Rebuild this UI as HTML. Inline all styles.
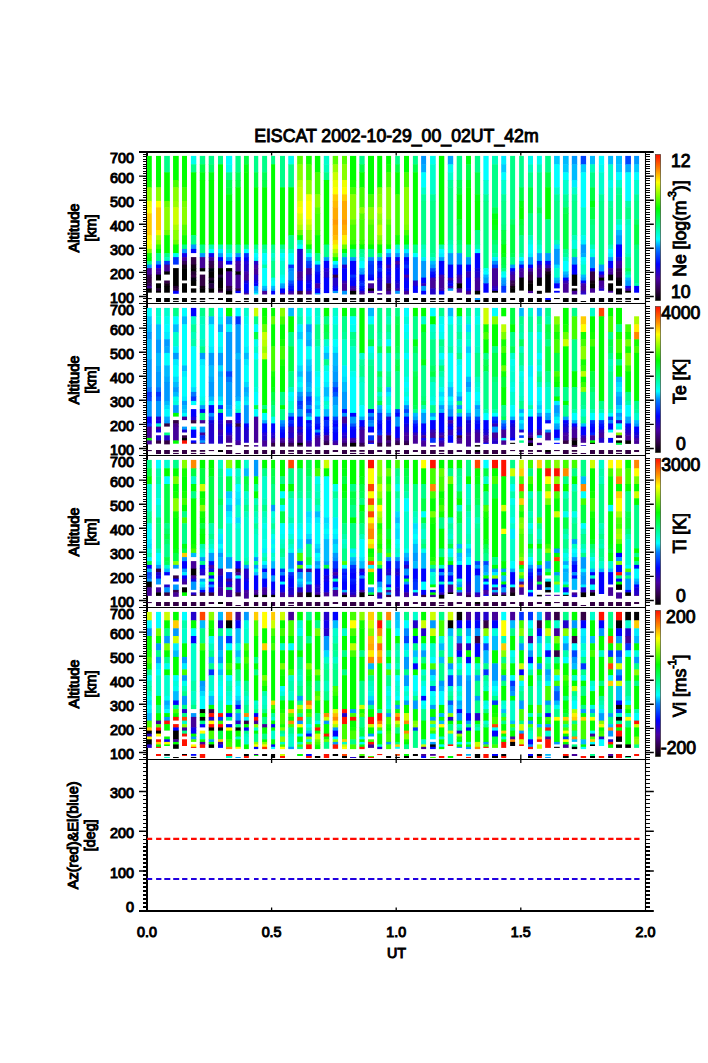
<!DOCTYPE html>
<html><head><meta charset="utf-8"><title>EISCAT 2002-10-29</title>
<style>html,body{margin:0;padding:0;background:#fff}svg{display:block}</style></head>
<body>
<svg width="708" height="1063" viewBox="0 0 708 1063" font-family="'Liberation Sans', sans-serif" fill="#000" stroke="none">
<rect width="708" height="1063" fill="#fff"/>
<g stroke="#000" stroke-width="0.95">
<text x="396.4" y="141.9" font-size="17.9" text-anchor="middle" textLength="284.5" lengthAdjust="spacingAndGlyphs">EISCAT 2002-10-29_00_02UT_42m</text>
</g>
<path d="M147 151V912" stroke="#000" stroke-width="2"/>
<path d="M645.5 151V912" stroke="#000" stroke-width="1.1"/>
<g stroke-width="5.3" fill="none">
<g transform="translate(149.4 152)" stroke-width="4.8"><path stroke="#0f0" d="M0 3.9V28.5"/><path stroke="#1f0" d="M0 28V35.8"/><path stroke="#8f0" d="M0 35.3V49.4"/><path stroke="#ef0" d="M0 48.9V55.8"/><path stroke="#ff0" d="M0 55.3V61.9"/><path stroke="#fc0" d="M0 61.4V83.6"/><path stroke="#fe0" d="M0 83.1V88.4"/><path stroke="#ff0" d="M0 87.9V93"/><path stroke="#ef0" d="M0 92.5V97.4"/><path stroke="#8f0" d="M0 96.9V101.6"/><path stroke="#1f0" d="M0 101.1V105.6"/><path stroke="#0f0" d="M0 105.1V109.4"/><path stroke="#0f8" d="M0 108.9V113.1"/><path stroke="#09f" d="M0 112.6V116.6"/><path stroke="#409" d="M0 116.1V123.1"/><path stroke="#305" d="M0 122.6V126.1"/><path stroke="#304" d="M0 125.6V131.8"/><path stroke="#305" d="M0 131.3V134.4"/><path stroke="#409" d="M0 133.9V136.9"/><path stroke="#000" d="M0 136.4V140.7"/><path stroke="#000" d="M0 146V147.1"/></g>
<g transform="translate(158.5 152)" stroke-width="5"><path stroke="#0f0" d="M0 3.9V28.5"/><path stroke="#1f0" d="M0 28V35.8"/><path stroke="#8f0" d="M0 35.3V49.4"/><path stroke="#ff0" d="M0 48.9V55.8"/><path stroke="#fc0" d="M0 55.3V78.5"/><path stroke="#fe0" d="M0 78V83.6"/><path stroke="#af0" d="M0 83.1V88.4"/><path stroke="#8f0" d="M0 87.9V93"/><path stroke="#3f0" d="M0 92.5V97.4"/><path stroke="#0f0" d="M0 96.9V101.6"/><path stroke="#0f8" d="M0 101.1V109.4"/><path stroke="#09f" d="M0 108.9V113.1"/><path stroke="#00f" d="M0 112.6V116.6"/><path stroke="#40a" d="M0 116.1V119.9"/><path stroke="#409" d="M0 119.4V123.1"/><path stroke="#000" d="M0 122.6V128.5"/><path stroke="#000" d="M0 131.3V136.9"/><path stroke="#203" d="M0 136.4V139.3"/><path stroke="#000" d="M0 138.8V140.7"/><path stroke="#000" d="M0 146V150"/></g>
<g transform="translate(167 152)" stroke-width="5.7"><path stroke="#0f8" d="M0 3.9V20.8"/><path stroke="#0f0" d="M0 20.3V49.4"/><path stroke="#6f0" d="M0 48.9V55.8"/><path stroke="#8f0" d="M0 55.3V78.5"/><path stroke="#6f0" d="M0 78V83.6"/><path stroke="#0f0" d="M0 83.1V101.6"/><path stroke="#0f8" d="M0 101.1V105.6"/><path stroke="#0fb" d="M0 105.1V109.4"/><path stroke="#03f" d="M0 108.9V113.1"/><path stroke="#409" d="M0 112.6V119.9"/><path stroke="#000" d="M0 119.4V122.6"/><path stroke="#304" d="M0 128.5V131.8"/><path stroke="#101" d="M0 131.3V134.4"/><path stroke="#000" d="M0 133.9V140.7"/><path stroke="#000" d="M0 146V150"/></g>
<g transform="translate(175.9 152)" stroke-width="5.7"><path stroke="#0f0" d="M0 3.9V28.5"/><path stroke="#4f0" d="M0 28V35.8"/><path stroke="#8f0" d="M0 35.3V49.4"/><path stroke="#9f0" d="M0 48.9V55.8"/><path stroke="#cf0" d="M0 55.3V73.2"/><path stroke="#af0" d="M0 72.7V78.5"/><path stroke="#8f0" d="M0 78V88.4"/><path stroke="#6f0" d="M0 87.9V93"/><path stroke="#0f0" d="M0 92.5V101.6"/><path stroke="#0fe" d="M0 101.1V105.6"/><path stroke="#03f" d="M0 105.1V112.6"/><path stroke="#000" d="M0 116.1V134.4"/><path stroke="#203" d="M0 133.9V136.9"/><path stroke="#304" d="M0 136.4V139.3"/><path stroke="#00f" d="M0 138.8V141.8"/><path stroke="#000" d="M0 146V147.8"/><path stroke="#000" d="M0 148.9V150"/></g>
<g transform="translate(184.5 152)" stroke-width="5"><path stroke="#0f0" d="M0 3.9V28.5"/><path stroke="#1f0" d="M0 28V35.8"/><path stroke="#4f0" d="M0 35.3V49.4"/><path stroke="#7f0" d="M0 48.9V55.8"/><path stroke="#8f0" d="M0 55.3V73.2"/><path stroke="#5f0" d="M0 72.7V78.5"/><path stroke="#4f0" d="M0 78V83.6"/><path stroke="#1f0" d="M0 83.1V88.4"/><path stroke="#0f0" d="M0 87.9V93"/><path stroke="#0f8" d="M0 92.5V97.4"/><path stroke="#09f" d="M0 96.9V101.6"/><path stroke="#10e" d="M0 101.1V105.6"/><path stroke="#409" d="M0 105.1V109.4"/><path stroke="#305" d="M0 108.9V113.1"/><path stroke="#101" d="M0 112.6V116.6"/><path stroke="#000" d="M0 116.1V128.5"/><path stroke="#000" d="M0 131.3V140.7"/><path stroke="#000" d="M0 146V150"/></g>
<g transform="translate(193.6 152)" stroke-width="5.4"><path stroke="#0fe" d="M0 3.9V12.8"/><path stroke="#0f8" d="M0 12.3V20.8"/><path stroke="#0f0" d="M0 20.3V83.6"/><path stroke="#0f8" d="M0 83.1V93"/><path stroke="#09f" d="M0 92.5V97.4"/><path stroke="#00f" d="M0 96.9V101.1"/><path stroke="#304" d="M0 105.1V113.1"/><path stroke="#101" d="M0 112.6V116.6"/><path stroke="#000" d="M0 116.1V119.9"/><path stroke="#203" d="M0 119.4V123.1"/><path stroke="#304" d="M0 122.6V126.1"/><path stroke="#001" d="M0 125.6V129"/><path stroke="#000" d="M0 128.5V133.9"/><path stroke="#000" d="M0 136.4V140.7"/><path stroke="#000" d="M0 146V147.8"/><path stroke="#000" d="M0 148.9V150"/></g>
<g transform="translate(202.5 152)" stroke-width="5.4"><path stroke="#0f8" d="M0 3.9V12.8"/><path stroke="#0f4" d="M0 12.3V20.8"/><path stroke="#0f1" d="M0 20.3V28.5"/><path stroke="#0f0" d="M0 28V93"/><path stroke="#0f8" d="M0 92.5V101.6"/><path stroke="#09f" d="M0 101.1V105.6"/><path stroke="#409" d="M0 105.1V116.6"/><path stroke="#000" d="M0 116.1V119.4"/><path stroke="#304" d="M0 122.6V134.4"/><path stroke="#101" d="M0 133.9V136.9"/><path stroke="#000" d="M0 136.4V140.7"/><path stroke="#000" d="M0 146V147.8"/><path stroke="#000" d="M0 148.9V150"/></g>
<g transform="translate(211.4 152)" stroke-width="5.4"><path stroke="#0f8" d="M0 3.9V12.8"/><path stroke="#0f6" d="M0 12.3V20.8"/><path stroke="#0f1" d="M0 20.3V28.5"/><path stroke="#0f0" d="M0 28V93"/><path stroke="#0fa" d="M0 92.5V97.4"/><path stroke="#0ff" d="M0 96.9V101.6"/><path stroke="#10e" d="M0 101.1V105.6"/><path stroke="#409" d="M0 105.1V109.4"/><path stroke="#305" d="M0 108.9V113.1"/><path stroke="#304" d="M0 112.6V116.6"/><path stroke="#001" d="M0 116.1V119.9"/><path stroke="#000" d="M0 119.4V126.1"/><path stroke="#203" d="M0 125.6V129"/><path stroke="#001" d="M0 128.5V131.8"/><path stroke="#204" d="M0 131.3V136.9"/><path stroke="#000" d="M0 136.4V140.7"/><path stroke="#000" d="M0 146V147.1"/></g>
<g transform="translate(220.5 152)" stroke-width="5"><path stroke="#0f8" d="M0 3.9V12.8"/><path stroke="#0f0" d="M0 12.3V93"/><path stroke="#0fa" d="M0 92.5V97.4"/><path stroke="#0ef" d="M0 96.9V101.6"/><path stroke="#09f" d="M0 101.1V105.6"/><path stroke="#00f" d="M0 105.1V109.4"/><path stroke="#40a" d="M0 108.9V113.1"/><path stroke="#409" d="M0 112.6V116.6"/><path stroke="#000" d="M0 116.1V123.1"/><path stroke="#204" d="M0 122.6V126.1"/><path stroke="#001" d="M0 125.6V129"/><path stroke="#000" d="M0 128.5V136.9"/><path stroke="#101" d="M0 136.4V139.3"/><path stroke="#304" d="M0 138.8V140.7"/><path stroke="#000" d="M0 146V148"/></g>
<g transform="translate(229.1 152)" stroke-width="6.2"><path stroke="#0ff" d="M0 3.9V12.8"/><path stroke="#0fe" d="M0 12.3V20.8"/><path stroke="#0f8" d="M0 20.3V28.5"/><path stroke="#0f5" d="M0 28V35.8"/><path stroke="#0f4" d="M0 35.3V42.8"/><path stroke="#0f1" d="M0 42.3V49.4"/><path stroke="#0f0" d="M0 48.9V93"/><path stroke="#0f8" d="M0 92.5V97.4"/><path stroke="#0fa" d="M0 96.9V101.6"/><path stroke="#0ef" d="M0 101.1V105.6"/><path stroke="#09f" d="M0 105.1V109.4"/><path stroke="#00f" d="M0 108.9V112.6"/><path stroke="#000" d="M0 116.1V119.9"/><path stroke="#409" d="M0 119.4V134.4"/><path stroke="#304" d="M0 133.9V136.9"/><path stroke="#204" d="M0 136.4V139.3"/><path stroke="#000" d="M0 138.8V142.5"/><path stroke="#000" d="M0 146V150"/></g>
<g transform="translate(238.1 152)"><path stroke="#0f8" d="M0 3.9V20.8"/><path stroke="#0f5" d="M0 20.3V28.5"/><path stroke="#0f4" d="M0 28V35.8"/><path stroke="#0f0" d="M0 35.3V93"/><path stroke="#0f8" d="M0 92.5V101.6"/><path stroke="#09f" d="M0 101.1V105.6"/><path stroke="#00f" d="M0 105.1V109.4"/><path stroke="#40a" d="M0 108.9V113.1"/><path stroke="#409" d="M0 112.6V119.9"/><path stroke="#000" d="M0 119.4V123.1"/><path stroke="#409" d="M0 122.6V136.9"/><path stroke="#304" d="M0 136.4V139.3"/><path stroke="#00f" d="M0 138.8V141.1"/><path stroke="#000" d="M0 149V150"/></g>
<g transform="translate(246.4 152)" stroke-width="4.9"><path stroke="#0f4" d="M0 3.9V12.8"/><path stroke="#0f1" d="M0 12.3V20.8"/><path stroke="#0f0" d="M0 20.3V93"/><path stroke="#0f8" d="M0 92.5V97.4"/><path stroke="#0ff" d="M0 96.9V101.6"/><path stroke="#03f" d="M0 101.1V105.6"/><path stroke="#00f" d="M0 105.1V109.4"/><path stroke="#20d" d="M0 108.9V113.1"/><path stroke="#20c" d="M0 112.6V119.9"/><path stroke="#40a" d="M0 119.4V123.1"/><path stroke="#409" d="M0 122.6V129"/><path stroke="#10d" d="M0 128.5V131.8"/><path stroke="#00f" d="M0 131.3V139.3"/><path stroke="#10d" d="M0 138.8V141.6"/><path stroke="#409" d="M0 141.1V142.5"/><path stroke="#000" d="M0 146V147.8"/><path stroke="#000" d="M0 148.9V150"/></g>
<g transform="translate(256.1 152)" stroke-width="4.3"><path stroke="#0f8" d="M0 3.9V20.8"/><path stroke="#0f4" d="M0 20.3V35.8"/><path stroke="#0f0" d="M0 35.3V93"/><path stroke="#0f8" d="M0 92.5V97.4"/><path stroke="#0fb" d="M0 96.9V101.6"/><path stroke="#0ff" d="M0 101.1V105.6"/><path stroke="#0ef" d="M0 105.1V109.4"/><path stroke="#20c" d="M0 108.9V113.1"/><path stroke="#40a" d="M0 112.6V116.6"/><path stroke="#409" d="M0 116.1V123.1"/><path stroke="#20c" d="M0 122.6V129"/><path stroke="#10e" d="M0 128.5V131.8"/><path stroke="#00f" d="M0 131.3V134.4"/><path stroke="#09f" d="M0 133.9V139.3"/><path stroke="#0bf" d="M0 138.8V141.6"/><path stroke="#0ff" d="M0 141.1V142.5"/><path stroke="#000" d="M0 146V150"/></g>
<g transform="translate(264.6 152)" stroke-width="5"><path stroke="#0f8" d="M0 3.9V20.8"/><path stroke="#0f5" d="M0 20.3V28.5"/><path stroke="#0f4" d="M0 28V35.8"/><path stroke="#0f0" d="M0 35.3V93"/><path stroke="#0f8" d="M0 92.5V97.4"/><path stroke="#0fa" d="M0 96.9V101.6"/><path stroke="#0ff" d="M0 101.1V109.4"/><path stroke="#0fe" d="M0 108.9V113.1"/><path stroke="#0fa" d="M0 112.6V116.6"/><path stroke="#0ff" d="M0 116.1V134.4"/><path stroke="#0bf" d="M0 133.9V136.9"/><path stroke="#09f" d="M0 136.4V139.3"/><path stroke="#409" d="M0 138.8V142.5"/><path stroke="#000" d="M0 146V150"/></g>
<g transform="translate(273.1 152)" stroke-width="4"><path stroke="#0f8" d="M0 3.9V12.8"/><path stroke="#0f0" d="M0 12.3V93"/><path stroke="#0f8" d="M0 92.5V97.4"/><path stroke="#0f9" d="M0 96.9V101.6"/><path stroke="#0fc" d="M0 101.1V105.6"/><path stroke="#0fb" d="M0 105.1V109.4"/><path stroke="#0f8" d="M0 108.9V126.1"/><path stroke="#0fe" d="M0 125.6V129"/><path stroke="#0ff" d="M0 128.5V134.4"/><path stroke="#0bf" d="M0 133.9V136.9"/><path stroke="#09f" d="M0 136.4V139.3"/><path stroke="#00f" d="M0 138.8V142.5"/><path stroke="#000" d="M0 146V150"/></g>
<g transform="translate(282.5 152)" stroke-width="5"><path stroke="#0f8" d="M0 3.9V35.8"/><path stroke="#0f0" d="M0 35.3V93"/><path stroke="#0f8" d="M0 92.5V97.4"/><path stroke="#0fb" d="M0 96.9V101.6"/><path stroke="#0ff" d="M0 101.1V105.6"/><path stroke="#0fe" d="M0 105.1V109.4"/><path stroke="#0fc" d="M0 108.9V123.1"/><path stroke="#0fe" d="M0 122.6V126.1"/><path stroke="#0ff" d="M0 125.6V131.8"/><path stroke="#0af" d="M0 131.3V134.4"/><path stroke="#09f" d="M0 133.9V136.9"/><path stroke="#00f" d="M0 136.4V141.6"/><path stroke="#409" d="M0 141.1V142.5"/><path stroke="#000" d="M0 146V150"/></g>
<g transform="translate(291.1 152)" stroke-width="5.7"><path stroke="#0fe" d="M0 3.9V12.8"/><path stroke="#0f8" d="M0 12.3V35.8"/><path stroke="#0f0" d="M0 35.3V83.6"/><path stroke="#0f8" d="M0 83.1V97.4"/><path stroke="#0fb" d="M0 96.9V101.6"/><path stroke="#0ff" d="M0 101.1V113.1"/><path stroke="#03f" d="M0 112.6V116.6"/><path stroke="#08f" d="M0 116.1V119.9"/><path stroke="#09f" d="M0 119.4V129"/><path stroke="#05f" d="M0 128.5V131.8"/><path stroke="#03f" d="M0 131.3V134.4"/><path stroke="#01f" d="M0 133.9V136.9"/><path stroke="#00f" d="M0 136.4V139.3"/><path stroke="#30b" d="M0 138.8V141.6"/><path stroke="#409" d="M0 141.1V142.5"/><path stroke="#000" d="M0 146V147.8"/><path stroke="#000" d="M0 148.9V150"/></g>
<g transform="translate(300 152)" stroke-width="5.7"><path stroke="#5f0" d="M0 3.9V12.8"/><path stroke="#8f0" d="M0 12.3V28.5"/><path stroke="#bf0" d="M0 28V35.8"/><path stroke="#cf0" d="M0 35.3V49.4"/><path stroke="#ef0" d="M0 48.9V55.8"/><path stroke="#ff0" d="M0 55.3V61.9"/><path stroke="#df0" d="M0 61.4V67.7"/><path stroke="#cf0" d="M0 67.2V73.2"/><path stroke="#af0" d="M0 72.7V78.5"/><path stroke="#6f0" d="M0 78V83.6"/><path stroke="#0f0" d="M0 83.1V88.4"/><path stroke="#0fb" d="M0 87.9V93"/><path stroke="#0ff" d="M0 92.5V97.4"/><path stroke="#20c" d="M0 96.9V119.9"/><path stroke="#409" d="M0 119.4V126.1"/><path stroke="#40a" d="M0 125.6V129"/><path stroke="#00f" d="M0 128.5V139.3"/><path stroke="#304" d="M0 138.8V142.5"/><path stroke="#000" d="M0 146V150"/></g>
<g transform="translate(308.9 152)" stroke-width="5.7"><path stroke="#1f0" d="M0 3.9V12.8"/><path stroke="#4f0" d="M0 12.3V28.5"/><path stroke="#8f0" d="M0 28V42.8"/><path stroke="#ef0" d="M0 42.3V49.4"/><path stroke="#ff0" d="M0 48.9V67.7"/><path stroke="#df0" d="M0 67.2V73.2"/><path stroke="#bf0" d="M0 72.7V78.5"/><path stroke="#8f0" d="M0 78V88.4"/><path stroke="#6f0" d="M0 87.9V93"/><path stroke="#0f0" d="M0 92.5V97.4"/><path stroke="#0f8" d="M0 96.9V101.6"/><path stroke="#0ff" d="M0 101.1V105.6"/><path stroke="#09f" d="M0 105.1V109.4"/><path stroke="#04f" d="M0 108.9V113.1"/><path stroke="#03f" d="M0 112.6V116.6"/><path stroke="#409" d="M0 116.1V123.1"/><path stroke="#20c" d="M0 122.6V129"/><path stroke="#10e" d="M0 128.5V131.8"/><path stroke="#00f" d="M0 131.3V136.9"/><path stroke="#10e" d="M0 136.4V139.3"/><path stroke="#409" d="M0 138.8V142.5"/><path stroke="#000" d="M0 146V147.8"/><path stroke="#000" d="M0 148.9V150"/></g>
<g transform="translate(317.6 152)" stroke-width="5.4"><path stroke="#0f0" d="M0 3.9V20.8"/><path stroke="#4f0" d="M0 20.3V42.8"/><path stroke="#8f0" d="M0 42.3V55.8"/><path stroke="#5f0" d="M0 55.3V61.9"/><path stroke="#4f0" d="M0 61.4V78.5"/><path stroke="#3f0" d="M0 78V83.6"/><path stroke="#0f0" d="M0 83.1V101.6"/><path stroke="#0f8" d="M0 101.1V109.4"/><path stroke="#0fe" d="M0 108.9V113.1"/><path stroke="#03f" d="M0 112.6V119.9"/><path stroke="#01f" d="M0 119.4V123.1"/><path stroke="#00f" d="M0 122.6V131.8"/><path stroke="#40a" d="M0 131.3V136.9"/><path stroke="#00f" d="M0 136.4V141.6"/><path stroke="#09f" d="M0 141.1V142.5"/><path stroke="#000" d="M0 146V150"/></g>
<g transform="translate(326.5 152)" stroke-width="5.4"><path stroke="#0fc" d="M0 3.9V12.8"/><path stroke="#0fb" d="M0 12.3V20.8"/><path stroke="#0f8" d="M0 20.3V28.5"/><path stroke="#0f0" d="M0 28V93"/><path stroke="#0f8" d="M0 92.5V105.6"/><path stroke="#09f" d="M0 105.1V109.4"/><path stroke="#00f" d="M0 108.9V116.6"/><path stroke="#20d" d="M0 116.1V119.9"/><path stroke="#20c" d="M0 119.4V126.1"/><path stroke="#00f" d="M0 125.6V141.1"/><path stroke="#000" d="M0 146V150"/></g>
<g transform="translate(335.4 152)" stroke-width="5.4"><path stroke="#5f0" d="M0 3.9V12.8"/><path stroke="#9f0" d="M0 12.3V20.8"/><path stroke="#cf0" d="M0 20.3V28.5"/><path stroke="#ef0" d="M0 28V35.8"/><path stroke="#ff0" d="M0 35.3V42.8"/><path stroke="#fc0" d="M0 42.3V49.4"/><path stroke="#fb0" d="M0 48.9V55.8"/><path stroke="#fa0" d="M0 55.3V67.7"/><path stroke="#f90" d="M0 67.2V73.2"/><path stroke="#fa0" d="M0 72.7V83.6"/><path stroke="#fb0" d="M0 83.1V88.4"/><path stroke="#fd0" d="M0 87.9V93"/><path stroke="#ef0" d="M0 92.5V97.4"/><path stroke="#bf0" d="M0 96.9V101.6"/><path stroke="#7f0" d="M0 101.1V105.6"/><path stroke="#0f0" d="M0 105.1V109.4"/><path stroke="#0ff" d="M0 108.9V113.1"/><path stroke="#0af" d="M0 112.6V116.6"/><path stroke="#00f" d="M0 116.1V123.1"/><path stroke="#304" d="M0 122.6V126.1"/><path stroke="#20c" d="M0 125.6V134.4"/><path stroke="#10e" d="M0 133.9V136.9"/><path stroke="#00f" d="M0 136.4V139.3"/><path stroke="#09f" d="M0 138.8V141.1"/><path stroke="#000" d="M0 146V148"/></g>
<g transform="translate(344.5 152)" stroke-width="5"><path stroke="#5f0" d="M0 3.9V12.8"/><path stroke="#8f0" d="M0 12.3V28.5"/><path stroke="#ef0" d="M0 28V35.8"/><path stroke="#ff0" d="M0 35.3V42.8"/><path stroke="#fc0" d="M0 42.3V49.4"/><path stroke="#fa0" d="M0 48.9V67.7"/><path stroke="#f90" d="M0 67.2V73.2"/><path stroke="#fa0" d="M0 72.7V78.5"/><path stroke="#fb0" d="M0 78V83.6"/><path stroke="#fe0" d="M0 83.1V88.4"/><path stroke="#df0" d="M0 87.9V93"/><path stroke="#6f0" d="M0 92.5V97.4"/><path stroke="#0f0" d="M0 96.9V101.6"/><path stroke="#0f8" d="M0 101.1V105.6"/><path stroke="#09f" d="M0 105.1V113.1"/><path stroke="#20c" d="M0 112.6V116.6"/><path stroke="#00f" d="M0 116.1V129"/><path stroke="#30b" d="M0 128.5V131.8"/><path stroke="#409" d="M0 131.3V139.3"/><path stroke="#09f" d="M0 138.8V142.5"/><path stroke="#000" d="M0 146V150"/></g>
<g transform="translate(353.1 152)" stroke-width="6.2"><path stroke="#0f0" d="M0 3.9V28.5"/><path stroke="#1f0" d="M0 28V35.8"/><path stroke="#4f0" d="M0 35.3V42.8"/><path stroke="#8f0" d="M0 42.3V67.7"/><path stroke="#6f0" d="M0 67.2V73.2"/><path stroke="#4f0" d="M0 72.7V88.4"/><path stroke="#3f0" d="M0 87.9V93"/><path stroke="#0f0" d="M0 92.5V97.4"/><path stroke="#0f8" d="M0 96.9V105.6"/><path stroke="#09f" d="M0 105.1V109.4"/><path stroke="#00f" d="M0 108.9V123.1"/><path stroke="#03f" d="M0 122.6V126.1"/><path stroke="#01f" d="M0 125.6V129"/><path stroke="#00f" d="M0 128.5V134.4"/><path stroke="#30b" d="M0 133.9V136.9"/><path stroke="#409" d="M0 136.4V139.3"/><path stroke="#000" d="M0 138.8V142.5"/><path stroke="#000" d="M0 146V147.8"/><path stroke="#000" d="M0 148.9V150"/></g>
<g transform="translate(362 152)"><path stroke="#0f8" d="M0 3.9V12.8"/><path stroke="#0f4" d="M0 12.3V20.8"/><path stroke="#0f0" d="M0 20.3V35.8"/><path stroke="#4f0" d="M0 35.3V55.8"/><path stroke="#8f0" d="M0 55.3V61.9"/><path stroke="#5f0" d="M0 61.4V67.7"/><path stroke="#4f0" d="M0 67.2V88.4"/><path stroke="#3f0" d="M0 87.9V93"/><path stroke="#0f0" d="M0 92.5V97.4"/><path stroke="#0f8" d="M0 96.9V101.6"/><path stroke="#0f9" d="M0 101.1V105.6"/><path stroke="#0fc" d="M0 105.1V109.4"/><path stroke="#0ff" d="M0 108.9V116.6"/><path stroke="#0af" d="M0 116.1V119.9"/><path stroke="#09f" d="M0 119.4V123.1"/><path stroke="#00f" d="M0 122.6V129"/><path stroke="#02f" d="M0 128.5V131.8"/><path stroke="#03f" d="M0 131.3V134.4"/><path stroke="#01f" d="M0 133.9V136.9"/><path stroke="#00f" d="M0 136.4V139.3"/><path stroke="#30b" d="M0 138.8V141.6"/><path stroke="#409" d="M0 141.1V142.5"/><path stroke="#000" d="M0 146V150"/></g>
<g transform="translate(371 152)" stroke-width="6"><path stroke="#0f0" d="M0 3.9V42.8"/><path stroke="#4f0" d="M0 42.3V55.8"/><path stroke="#8f0" d="M0 55.3V67.7"/><path stroke="#6f0" d="M0 67.2V73.2"/><path stroke="#4f0" d="M0 72.7V88.4"/><path stroke="#3f0" d="M0 87.9V93"/><path stroke="#0f0" d="M0 92.5V97.4"/><path stroke="#0f8" d="M0 96.9V105.6"/><path stroke="#09f" d="M0 105.1V109.4"/><path stroke="#04f" d="M0 108.9V113.1"/><path stroke="#03f" d="M0 112.6V123.1"/><path stroke="#01f" d="M0 122.6V126.1"/><path stroke="#00f" d="M0 125.6V128.5"/><path stroke="#409" d="M0 131.3V136.9"/><path stroke="#000" d="M0 136.4V139.3"/><path stroke="#409" d="M0 138.8V141.1"/><path stroke="#000" d="M0 146V150"/></g>
<g transform="translate(379.7 152)" stroke-width="5"><path stroke="#0f0" d="M0 3.9V35.8"/><path stroke="#7f0" d="M0 35.3V42.8"/><path stroke="#8f0" d="M0 42.3V55.8"/><path stroke="#bf0" d="M0 55.3V61.9"/><path stroke="#9f0" d="M0 61.4V67.7"/><path stroke="#8f0" d="M0 67.2V73.2"/><path stroke="#bf0" d="M0 72.7V83.6"/><path stroke="#8f0" d="M0 83.1V88.4"/><path stroke="#6f0" d="M0 87.9V93"/><path stroke="#0f0" d="M0 92.5V101.6"/><path stroke="#0f8" d="M0 101.1V105.6"/><path stroke="#09f" d="M0 105.1V109.4"/><path stroke="#00f" d="M0 108.9V113.1"/><path stroke="#01f" d="M0 112.6V116.6"/><path stroke="#03f" d="M0 116.1V119.9"/><path stroke="#00f" d="M0 119.4V126.1"/><path stroke="#20d" d="M0 125.6V129"/><path stroke="#20c" d="M0 128.5V138.8"/><path stroke="#409" d="M0 141.1V142.5"/><path stroke="#000" d="M0 146V148"/></g>
<g transform="translate(388.6 152)" stroke-width="5"><path stroke="#0f0" d="M0 3.9V12.8"/><path stroke="#1f0" d="M0 12.3V20.8"/><path stroke="#4f0" d="M0 20.3V35.8"/><path stroke="#8f0" d="M0 35.3V67.7"/><path stroke="#6f0" d="M0 67.2V73.2"/><path stroke="#4f0" d="M0 72.7V88.4"/><path stroke="#3f0" d="M0 87.9V93"/><path stroke="#0f0" d="M0 92.5V97.4"/><path stroke="#0ff" d="M0 96.9V101.6"/><path stroke="#09f" d="M0 101.1V105.6"/><path stroke="#00f" d="M0 105.1V113.1"/><path stroke="#30b" d="M0 112.6V116.6"/><path stroke="#10e" d="M0 116.1V119.9"/><path stroke="#00f" d="M0 119.4V123.1"/><path stroke="#20d" d="M0 122.6V126.1"/><path stroke="#20c" d="M0 125.6V131.8"/><path stroke="#304" d="M0 131.3V136.9"/><path stroke="#305" d="M0 136.4V139.3"/><path stroke="#409" d="M0 138.8V142.5"/><path stroke="#000" d="M0 146V150"/></g>
<g transform="translate(397.5 152)" stroke-width="4.7"><path stroke="#0f8" d="M0 3.9V12.8"/><path stroke="#0f4" d="M0 12.3V20.8"/><path stroke="#0f0" d="M0 20.3V42.8"/><path stroke="#4f0" d="M0 42.3V83.6"/><path stroke="#1f0" d="M0 83.1V88.4"/><path stroke="#0f0" d="M0 87.9V93"/><path stroke="#0fb" d="M0 92.5V97.4"/><path stroke="#0ef" d="M0 96.9V101.6"/><path stroke="#09f" d="M0 101.1V105.6"/><path stroke="#00f" d="M0 105.1V109.4"/><path stroke="#40a" d="M0 108.9V113.1"/><path stroke="#10d" d="M0 112.6V116.6"/><path stroke="#00f" d="M0 116.1V129"/><path stroke="#10d" d="M0 128.5V131.8"/><path stroke="#20c" d="M0 131.3V136.9"/><path stroke="#40a" d="M0 136.4V139.3"/><path stroke="#09f" d="M0 138.8V141.8"/><path stroke="#000" d="M0 146V147.8"/><path stroke="#000" d="M0 148.9V150"/></g>
<g transform="translate(406.5 152)" stroke-width="5"><path stroke="#0f0" d="M0 3.9V20.8"/><path stroke="#4f0" d="M0 20.3V35.8"/><path stroke="#8f0" d="M0 35.3V73.2"/><path stroke="#7f0" d="M0 72.7V78.5"/><path stroke="#4f0" d="M0 78V83.6"/><path stroke="#1f0" d="M0 83.1V88.4"/><path stroke="#0f0" d="M0 87.9V93"/><path stroke="#0f8" d="M0 92.5V97.4"/><path stroke="#0ef" d="M0 96.9V101.6"/><path stroke="#09f" d="M0 101.1V105.6"/><path stroke="#00f" d="M0 105.1V109.4"/><path stroke="#01f" d="M0 108.9V113.1"/><path stroke="#03f" d="M0 112.6V116.6"/><path stroke="#00f" d="M0 116.1V123.1"/><path stroke="#40a" d="M0 122.6V126.1"/><path stroke="#10e" d="M0 125.6V129"/><path stroke="#00f" d="M0 128.5V136.9"/><path stroke="#10e" d="M0 136.4V139.3"/><path stroke="#409" d="M0 138.8V142.5"/><path stroke="#000" d="M0 146V150"/></g>
<g transform="translate(415.4 152)" stroke-width="5"><path stroke="#0f8" d="M0 3.9V12.8"/><path stroke="#0f4" d="M0 12.3V20.8"/><path stroke="#0f0" d="M0 20.3V93"/><path stroke="#0f8" d="M0 92.5V101.6"/><path stroke="#0ff" d="M0 101.1V105.6"/><path stroke="#09f" d="M0 105.1V129"/><path stroke="#20c" d="M0 128.5V134.4"/><path stroke="#00f" d="M0 133.9V140.9"/><path stroke="#000" d="M0 146V148"/></g>
<g transform="translate(423.6 152)" stroke-width="5"><path stroke="#09f" d="M0 3.9V12.8"/><path stroke="#0af" d="M0 12.3V20.8"/><path stroke="#0ff" d="M0 20.3V35.8"/><path stroke="#0fc" d="M0 35.3V42.8"/><path stroke="#0f9" d="M0 42.3V49.4"/><path stroke="#0f8" d="M0 48.9V93"/><path stroke="#0fb" d="M0 92.5V97.4"/><path stroke="#0fc" d="M0 96.9V105.6"/><path stroke="#0ef" d="M0 105.1V109.4"/><path stroke="#09f" d="M0 108.9V126.1"/><path stroke="#00f" d="M0 125.6V131.8"/><path stroke="#30b" d="M0 131.3V134.4"/><path stroke="#09f" d="M0 133.9V139.3"/><path stroke="#00f" d="M0 138.8V142.5"/><path stroke="#000" d="M0 146V150"/></g>
<g transform="translate(432.9 152)" stroke-width="5.7"><path stroke="#0fe" d="M0 3.9V12.8"/><path stroke="#0fc" d="M0 12.3V42.8"/><path stroke="#0f9" d="M0 42.3V49.4"/><path stroke="#0f8" d="M0 48.9V101.6"/><path stroke="#0f9" d="M0 101.1V105.6"/><path stroke="#0fc" d="M0 105.1V109.4"/><path stroke="#0bf" d="M0 108.9V113.1"/><path stroke="#09f" d="M0 112.6V116.6"/><path stroke="#04f" d="M0 116.1V119.9"/><path stroke="#01f" d="M0 119.4V123.1"/><path stroke="#00f" d="M0 122.6V126.1"/><path stroke="#40a" d="M0 125.6V129"/><path stroke="#409" d="M0 128.5V136.9"/><path stroke="#20c" d="M0 136.4V142.5"/><path stroke="#000" d="M0 146V147.8"/><path stroke="#000" d="M0 148.9V150"/></g>
<g transform="translate(441.6 152)" stroke-width="5.4"><path stroke="#0f0" d="M0 3.9V93"/><path stroke="#0fa" d="M0 92.5V97.4"/><path stroke="#0ff" d="M0 96.9V101.6"/><path stroke="#0ef" d="M0 101.1V105.6"/><path stroke="#09f" d="M0 105.1V109.4"/><path stroke="#00f" d="M0 108.9V123.1"/><path stroke="#40a" d="M0 122.6V126.1"/><path stroke="#409" d="M0 125.6V136.9"/><path stroke="#40a" d="M0 136.4V139.3"/><path stroke="#00f" d="M0 138.8V142.5"/><path stroke="#000" d="M0 146V147.8"/><path stroke="#000" d="M0 148.9V150"/></g>
<g transform="translate(450.5 152)" stroke-width="5.4"><path stroke="#0af" d="M0 3.9V12.8"/><path stroke="#0fe" d="M0 12.3V20.8"/><path stroke="#0fc" d="M0 20.3V28.5"/><path stroke="#0f9" d="M0 28V35.8"/><path stroke="#0f8" d="M0 35.3V88.4"/><path stroke="#0fa" d="M0 87.9V93"/><path stroke="#0fc" d="M0 92.5V97.4"/><path stroke="#0fd" d="M0 96.9V101.6"/><path stroke="#09f" d="M0 101.1V113.1"/><path stroke="#00f" d="M0 112.6V126.1"/><path stroke="#40a" d="M0 125.6V129"/><path stroke="#10d" d="M0 128.5V131.8"/><path stroke="#00f" d="M0 131.3V134.4"/><path stroke="#30b" d="M0 133.9V136.9"/><path stroke="#09f" d="M0 136.4V138.8"/><path stroke="#000" d="M0 146V150"/></g>
<g transform="translate(459.4 152)" stroke-width="5.4"><path stroke="#0f8" d="M0 3.9V28.5"/><path stroke="#0f5" d="M0 28V35.8"/><path stroke="#0f4" d="M0 35.3V42.8"/><path stroke="#0f1" d="M0 42.3V49.4"/><path stroke="#0f0" d="M0 48.9V67.7"/><path stroke="#0f3" d="M0 67.2V73.2"/><path stroke="#0f4" d="M0 72.7V88.4"/><path stroke="#0f6" d="M0 87.9V93"/><path stroke="#0f8" d="M0 92.5V101.6"/><path stroke="#09f" d="M0 101.1V113.1"/><path stroke="#00f" d="M0 112.6V123.1"/><path stroke="#30b" d="M0 122.6V126.1"/><path stroke="#409" d="M0 125.6V131.8"/><path stroke="#000" d="M0 131.3V136.9"/><path stroke="#409" d="M0 136.4V140.7"/><path stroke="#000" d="M0 146V148"/></g>
<g transform="translate(468.5 152)" stroke-width="5"><path stroke="#0f1" d="M0 3.9V12.8"/><path stroke="#0f4" d="M0 12.3V28.5"/><path stroke="#0f1" d="M0 28V35.8"/><path stroke="#0f0" d="M0 35.3V93"/><path stroke="#0f8" d="M0 92.5V105.6"/><path stroke="#09f" d="M0 105.1V113.1"/><path stroke="#00f" d="M0 112.6V119.9"/><path stroke="#30b" d="M0 119.4V126.1"/><path stroke="#00f" d="M0 125.6V136.9"/><path stroke="#10e" d="M0 136.4V139.3"/><path stroke="#409" d="M0 138.8V142.5"/><path stroke="#000" d="M0 146V150"/></g>
<g transform="translate(477.5 152)"><path stroke="#0f8" d="M0 3.9V20.8"/><path stroke="#0f4" d="M0 20.3V42.8"/><path stroke="#0f1" d="M0 42.3V49.4"/><path stroke="#0f0" d="M0 48.9V78.5"/><path stroke="#0f8" d="M0 78V93"/><path stroke="#0fa" d="M0 92.5V97.4"/><path stroke="#0ff" d="M0 96.9V101.6"/><path stroke="#00f" d="M0 101.1V116.6"/><path stroke="#10d" d="M0 116.1V119.9"/><path stroke="#20c" d="M0 119.4V126.1"/><path stroke="#40a" d="M0 125.6V129"/><path stroke="#409" d="M0 128.5V139.3"/><path stroke="#000" d="M0 138.8V142.5"/><path stroke="#09f" d="M0 146V148.5"/><path stroke="#000" d="M0 148V150"/></g>
<g transform="translate(486 152)"><path stroke="#0ff" d="M0 3.9V28.5"/><path stroke="#0fc" d="M0 28V42.8"/><path stroke="#0f9" d="M0 42.3V49.4"/><path stroke="#0f8" d="M0 48.9V116.6"/><path stroke="#0fe" d="M0 116.1V119.9"/><path stroke="#0ff" d="M0 119.4V123.1"/><path stroke="#0bf" d="M0 122.6V126.1"/><path stroke="#09f" d="M0 125.6V131.8"/><path stroke="#00f" d="M0 131.3V140.7"/><path stroke="#000" d="M0 146V150"/></g>
<g transform="translate(495 152)" stroke-width="6"><path stroke="#0fb" d="M0 3.9V12.8"/><path stroke="#0f8" d="M0 12.3V55.8"/><path stroke="#0f5" d="M0 55.3V61.9"/><path stroke="#0f1" d="M0 61.4V67.7"/><path stroke="#0f0" d="M0 67.2V73.2"/><path stroke="#0f1" d="M0 72.7V78.5"/><path stroke="#0f4" d="M0 78V88.4"/><path stroke="#0f6" d="M0 87.9V93"/><path stroke="#0f8" d="M0 92.5V101.6"/><path stroke="#0fa" d="M0 101.1V105.6"/><path stroke="#0ef" d="M0 105.1V109.4"/><path stroke="#08f" d="M0 108.9V113.1"/><path stroke="#03f" d="M0 112.6V116.6"/><path stroke="#409" d="M0 116.1V134.4"/><path stroke="#30b" d="M0 133.9V136.9"/><path stroke="#20c" d="M0 136.4V139.3"/><path stroke="#000" d="M0 138.8V140.7"/><path stroke="#000" d="M0 146V150"/></g>
<g transform="translate(503.7 152)" stroke-width="5"><path stroke="#0ef" d="M0 3.9V12.8"/><path stroke="#0cf" d="M0 12.3V20.8"/><path stroke="#0ff" d="M0 20.3V28.5"/><path stroke="#0fc" d="M0 28V42.8"/><path stroke="#0f9" d="M0 42.3V49.4"/><path stroke="#0f8" d="M0 48.9V73.2"/><path stroke="#0f7" d="M0 72.7V78.5"/><path stroke="#0f4" d="M0 78V88.4"/><path stroke="#0f3" d="M0 87.9V93"/><path stroke="#0f0" d="M0 92.5V101.6"/><path stroke="#0f1" d="M0 101.1V105.6"/><path stroke="#0f4" d="M0 105.1V113.1"/><path stroke="#0f5" d="M0 112.6V116.6"/><path stroke="#0f8" d="M0 116.1V119.9"/><path stroke="#0fe" d="M0 119.4V123.1"/><path stroke="#0ff" d="M0 122.6V126.1"/><path stroke="#0af" d="M0 125.6V129"/><path stroke="#09f" d="M0 128.5V131.8"/><path stroke="#08f" d="M0 131.3V134.4"/><path stroke="#03f" d="M0 133.9V140.7"/><path stroke="#000" d="M0 146V150"/></g>
<g transform="translate(512.6 152)" stroke-width="5"><path stroke="#0f8" d="M0 3.9V67.7"/><path stroke="#0f6" d="M0 67.2V73.2"/><path stroke="#0f4" d="M0 72.7V101.6"/><path stroke="#0f5" d="M0 101.1V105.6"/><path stroke="#0f8" d="M0 105.1V113.1"/><path stroke="#09f" d="M0 112.6V116.6"/><path stroke="#00f" d="M0 116.1V119.9"/><path stroke="#30b" d="M0 119.4V123.1"/><path stroke="#409" d="M0 122.6V129"/><path stroke="#305" d="M0 128.5V131.8"/><path stroke="#304" d="M0 131.3V134.4"/><path stroke="#101" d="M0 133.9V136.9"/><path stroke="#000" d="M0 136.4V140.7"/><path stroke="#000" d="M0 146V148"/></g>
<g transform="translate(521.5 152)" stroke-width="4.7"><path stroke="#0f8" d="M0 3.9V35.8"/><path stroke="#0f4" d="M0 35.3V49.4"/><path stroke="#0f1" d="M0 48.9V55.8"/><path stroke="#0f0" d="M0 55.3V67.7"/><path stroke="#0f3" d="M0 67.2V73.2"/><path stroke="#0f4" d="M0 72.7V83.6"/><path stroke="#0f8" d="M0 83.1V101.6"/><path stroke="#0fa" d="M0 101.1V105.6"/><path stroke="#0ff" d="M0 105.1V109.4"/><path stroke="#0af" d="M0 108.9V113.1"/><path stroke="#00f" d="M0 112.6V116.6"/><path stroke="#40a" d="M0 116.1V119.9"/><path stroke="#409" d="M0 119.4V126.1"/><path stroke="#000" d="M0 125.6V138.6"/><path stroke="#000" d="M0 146V150"/></g>
<g transform="translate(530.5 152)" stroke-width="5"><path stroke="#0fe" d="M0 3.9V12.8"/><path stroke="#0fb" d="M0 12.3V20.8"/><path stroke="#0f8" d="M0 20.3V35.8"/><path stroke="#0f4" d="M0 35.3V61.9"/><path stroke="#0f8" d="M0 61.4V83.6"/><path stroke="#0fb" d="M0 83.1V88.4"/><path stroke="#0fd" d="M0 87.9V93"/><path stroke="#0ff" d="M0 92.5V101.6"/><path stroke="#0ef" d="M0 101.1V105.6"/><path stroke="#09f" d="M0 105.1V113.1"/><path stroke="#00f" d="M0 112.6V116.6"/><path stroke="#40a" d="M0 116.1V119.9"/><path stroke="#306" d="M0 119.4V123.1"/><path stroke="#304" d="M0 122.6V129"/><path stroke="#101" d="M0 128.5V131.8"/><path stroke="#000" d="M0 131.3V139.3"/><path stroke="#409" d="M0 138.8V141.1"/><path stroke="#000" d="M0 146V150"/></g>
<g transform="translate(539.4 152)" stroke-width="5"><path stroke="#0fe" d="M0 3.9V12.8"/><path stroke="#0fb" d="M0 12.3V20.8"/><path stroke="#0f8" d="M0 20.3V55.8"/><path stroke="#0f5" d="M0 55.3V61.9"/><path stroke="#0f8" d="M0 61.4V88.4"/><path stroke="#0fa" d="M0 87.9V93"/><path stroke="#0fc" d="M0 92.5V97.4"/><path stroke="#0fd" d="M0 96.9V101.6"/><path stroke="#09f" d="M0 101.1V109.4"/><path stroke="#00f" d="M0 108.9V113.1"/><path stroke="#30b" d="M0 112.6V116.6"/><path stroke="#409" d="M0 116.1V126.1"/><path stroke="#000" d="M0 125.6V133.9"/><path stroke="#000" d="M0 138.8V141.8"/><path stroke="#000" d="M0 146V150"/></g>
<g transform="translate(548 152)" stroke-width="5.7"><path stroke="#0f8" d="M0 3.9V20.8"/><path stroke="#0f4" d="M0 20.3V35.8"/><path stroke="#0f0" d="M0 35.3V67.7"/><path stroke="#0f8" d="M0 67.2V101.6"/><path stroke="#09f" d="M0 101.1V109.4"/><path stroke="#00f" d="M0 108.9V113.1"/><path stroke="#30b" d="M0 112.6V116.6"/><path stroke="#305" d="M0 116.1V119.9"/><path stroke="#101" d="M0 119.4V123.1"/><path stroke="#000" d="M0 122.6V140.7"/><path stroke="#00f" d="M0 146V148.5"/><path stroke="#000" d="M0 148V150"/></g>
<g transform="translate(556.9 152)" stroke-width="5.7"><path stroke="#0cf" d="M0 3.9V12.8"/><path stroke="#0ff" d="M0 12.3V35.8"/><path stroke="#0fc" d="M0 35.3V42.8"/><path stroke="#0f9" d="M0 42.3V49.4"/><path stroke="#0f8" d="M0 48.9V88.4"/><path stroke="#0fb" d="M0 87.9V93"/><path stroke="#0df" d="M0 92.5V97.4"/><path stroke="#09f" d="M0 96.9V113.1"/><path stroke="#0df" d="M0 112.6V116.6"/><path stroke="#0fc" d="M0 116.1V126.1"/><path stroke="#0bf" d="M0 125.6V129"/><path stroke="#09f" d="M0 128.5V131.8"/><path stroke="#00f" d="M0 131.3V136.4"/><path stroke="#00f" d="M0 138.8V140.7"/><path stroke="#000" d="M0 146V147.1"/></g>
<g transform="translate(565.8 152)" stroke-width="5.7"><path stroke="#0bf" d="M0 3.9V12.8"/><path stroke="#0cf" d="M0 12.3V20.8"/><path stroke="#0ff" d="M0 20.3V28.5"/><path stroke="#0fc" d="M0 28V42.8"/><path stroke="#0f9" d="M0 42.3V49.4"/><path stroke="#0f8" d="M0 48.9V55.8"/><path stroke="#0f5" d="M0 55.3V61.9"/><path stroke="#0f4" d="M0 61.4V97.4"/><path stroke="#0f8" d="M0 96.9V101.6"/><path stroke="#0f9" d="M0 101.1V105.6"/><path stroke="#0fc" d="M0 105.1V109.4"/><path stroke="#0ff" d="M0 108.9V119.9"/><path stroke="#0bf" d="M0 119.4V123.1"/><path stroke="#09f" d="M0 122.6V126.1"/><path stroke="#00f" d="M0 125.6V129"/><path stroke="#30b" d="M0 128.5V131.8"/><path stroke="#409" d="M0 131.3V140.7"/><path stroke="#000" d="M0 146V150"/></g>
<g transform="translate(574.5 152)" stroke-width="5.4"><path stroke="#09f" d="M0 3.9V12.8"/><path stroke="#0bf" d="M0 12.3V28.5"/><path stroke="#0ef" d="M0 28V35.8"/><path stroke="#0fc" d="M0 35.3V42.8"/><path stroke="#0f9" d="M0 42.3V49.4"/><path stroke="#0f8" d="M0 48.9V83.6"/><path stroke="#0fb" d="M0 83.1V88.4"/><path stroke="#0fd" d="M0 87.9V97.4"/><path stroke="#0f8" d="M0 96.9V105.6"/><path stroke="#09f" d="M0 105.1V113.1"/><path stroke="#00f" d="M0 112.6V123.1"/><path stroke="#000" d="M0 122.6V133.9"/><path stroke="#000" d="M0 136.4V139.3"/><path stroke="#409" d="M0 138.8V142.5"/><path stroke="#000" d="M0 146V150"/></g>
<g transform="translate(583.4 152)" stroke-width="5.4"><path stroke="#04f" d="M0 3.9V12.8"/><path stroke="#0cf" d="M0 12.3V20.8"/><path stroke="#0ff" d="M0 20.3V55.8"/><path stroke="#0fc" d="M0 55.3V83.6"/><path stroke="#0fe" d="M0 83.1V88.4"/><path stroke="#0ef" d="M0 87.9V93"/><path stroke="#09f" d="M0 92.5V101.6"/><path stroke="#0af" d="M0 101.1V105.6"/><path stroke="#0ff" d="M0 105.1V109.4"/><path stroke="#0fe" d="M0 108.9V113.1"/><path stroke="#0fc" d="M0 112.6V123.1"/><path stroke="#0bf" d="M0 122.6V126.1"/><path stroke="#09f" d="M0 125.6V129"/><path stroke="#00f" d="M0 128.5V131.8"/><path stroke="#40a" d="M0 131.3V134.4"/><path stroke="#409" d="M0 133.9V139.3"/><path stroke="#30b" d="M0 138.8V141.6"/><path stroke="#20c" d="M0 141.1V142.5"/><path stroke="#000" d="M0 149V150"/></g>
<g transform="translate(592.5 152)" stroke-width="5"><path stroke="#0bf" d="M0 3.9V12.8"/><path stroke="#0fb" d="M0 12.3V20.8"/><path stroke="#0f8" d="M0 20.3V35.8"/><path stroke="#0f4" d="M0 35.3V49.4"/><path stroke="#0f1" d="M0 48.9V55.8"/><path stroke="#0f4" d="M0 55.3V67.7"/><path stroke="#0f7" d="M0 67.2V73.2"/><path stroke="#0f8" d="M0 72.7V93"/><path stroke="#0fb" d="M0 92.5V97.4"/><path stroke="#0fe" d="M0 96.9V101.6"/><path stroke="#0fd" d="M0 101.1V105.6"/><path stroke="#09f" d="M0 105.1V116.6"/><path stroke="#00f" d="M0 116.1V119.9"/><path stroke="#304" d="M0 119.4V129"/><path stroke="#101" d="M0 128.5V131.8"/><path stroke="#000" d="M0 131.3V136.9"/><path stroke="#409" d="M0 136.4V140.7"/><path stroke="#000" d="M0 146V150"/></g>
<g transform="translate(601.5 152)"><path stroke="#0ff" d="M0 3.9V12.8"/><path stroke="#0fe" d="M0 12.3V20.8"/><path stroke="#0fc" d="M0 20.3V42.8"/><path stroke="#0f9" d="M0 42.3V49.4"/><path stroke="#0f8" d="M0 48.9V113.1"/><path stroke="#09f" d="M0 112.6V119.9"/><path stroke="#00f" d="M0 119.4V123.1"/><path stroke="#40a" d="M0 122.6V126.1"/><path stroke="#000" d="M0 125.6V129"/><path stroke="#409" d="M0 128.5V134.4"/><path stroke="#40a" d="M0 133.9V136.9"/><path stroke="#20c" d="M0 136.4V138.8"/><path stroke="#000" d="M0 146V150"/></g>
<g transform="translate(610.6 152)" stroke-width="5"><path stroke="#0bf" d="M0 3.9V12.8"/><path stroke="#0fc" d="M0 12.3V28.5"/><path stroke="#0fe" d="M0 28V35.8"/><path stroke="#0fc" d="M0 35.3V49.4"/><path stroke="#0f9" d="M0 48.9V55.8"/><path stroke="#0f8" d="M0 55.3V93"/><path stroke="#0fb" d="M0 92.5V97.4"/><path stroke="#0ff" d="M0 96.9V101.6"/><path stroke="#0ef" d="M0 101.1V105.6"/><path stroke="#09f" d="M0 105.1V109.4"/><path stroke="#00f" d="M0 108.9V116.6"/><path stroke="#40a" d="M0 116.1V119.9"/><path stroke="#409" d="M0 119.4V123.1"/><path stroke="#000" d="M0 122.6V128.5"/><path stroke="#000" d="M0 131.3V139.3"/><path stroke="#409" d="M0 138.8V140.7"/><path stroke="#000" d="M0 146V150"/></g>
<g transform="translate(619 152)" stroke-width="6"><path stroke="#0bf" d="M0 3.9V12.8"/><path stroke="#0cf" d="M0 12.3V20.8"/><path stroke="#0ff" d="M0 20.3V28.5"/><path stroke="#0fc" d="M0 28V35.8"/><path stroke="#0f9" d="M0 35.3V42.8"/><path stroke="#0f8" d="M0 42.3V67.7"/><path stroke="#0fb" d="M0 67.2V73.2"/><path stroke="#0fe" d="M0 72.7V78.5"/><path stroke="#0bf" d="M0 78V83.6"/><path stroke="#09f" d="M0 83.1V93"/><path stroke="#00f" d="M0 92.5V105.6"/><path stroke="#20c" d="M0 105.1V109.4"/><path stroke="#40a" d="M0 108.9V113.1"/><path stroke="#409" d="M0 112.6V116.6"/><path stroke="#305" d="M0 116.1V119.9"/><path stroke="#304" d="M0 119.4V126.1"/><path stroke="#101" d="M0 125.6V129"/><path stroke="#000" d="M0 128.5V133.9"/><path stroke="#000" d="M0 136.4V142.5"/><path stroke="#000" d="M0 146V147.8"/><path stroke="#000" d="M0 148.9V150"/></g>
<g transform="translate(628.1 152)" stroke-width="5.7"><path stroke="#04f" d="M0 3.9V12.8"/><path stroke="#0af" d="M0 12.3V20.8"/><path stroke="#0ff" d="M0 20.3V49.4"/><path stroke="#0fa" d="M0 48.9V55.8"/><path stroke="#0f8" d="M0 55.3V67.7"/><path stroke="#0fb" d="M0 67.2V73.2"/><path stroke="#0fc" d="M0 72.7V101.6"/><path stroke="#0fb" d="M0 101.1V105.6"/><path stroke="#0f8" d="M0 105.1V116.6"/><path stroke="#0f5" d="M0 116.1V119.9"/><path stroke="#0f9" d="M0 119.4V123.1"/><path stroke="#0fc" d="M0 122.6V126.1"/><path stroke="#0bf" d="M0 125.6V129"/><path stroke="#09f" d="M0 128.5V134.4"/><path stroke="#10e" d="M0 133.9V136.9"/><path stroke="#409" d="M0 136.4V139.3"/><path stroke="#000" d="M0 138.8V140.7"/><path stroke="#000" d="M0 146V147.8"/><path stroke="#000" d="M0 148.9V150"/></g>
<g transform="translate(636.6 152)" stroke-width="5"><path stroke="#09f" d="M0 3.9V12.8"/><path stroke="#0cf" d="M0 12.3V20.8"/><path stroke="#0ff" d="M0 20.3V28.5"/><path stroke="#0fc" d="M0 28V42.8"/><path stroke="#0f9" d="M0 42.3V49.4"/><path stroke="#0f8" d="M0 48.9V67.7"/><path stroke="#0f6" d="M0 67.2V73.2"/><path stroke="#0f4" d="M0 72.7V93"/><path stroke="#0f7" d="M0 92.5V97.4"/><path stroke="#0f8" d="M0 96.9V131.8"/><path stroke="#0fa" d="M0 131.3V134.4"/><path stroke="#00f" d="M0 133.9V140.7"/><path stroke="#000" d="M0 146V148"/></g>
</g>
<path d="M146 301.3h-3M646 301.3h4M146 298.9h-3M646 298.9h4M146 296.5h-3M646 296.5h4M146 294.1h-3M646 294.1h4M146 291.7h-3M646 291.7h4M146 289.3h-3M646 289.3h4M146 286.9h-3M646 286.9h4M146 284.5h-3M646 284.5h4M146 282h-3M646 282h4M146 279.6h-3M646 279.6h4M146 277.2h-3M646 277.2h4M146 274.8h-3M646 274.8h4M146 272.4h-3M646 272.4h4M146 270h-3M646 270h4M146 267.6h-3M646 267.6h4M146 265.2h-3M646 265.2h4M146 262.8h-3M646 262.8h4M146 260.4h-3M646 260.4h4M146 258h-3M646 258h4M146 255.6h-3M646 255.6h4M146 253.1h-3M646 253.1h4M146 250.7h-3M646 250.7h4M146 248.3h-3M646 248.3h4M146 245.9h-3M646 245.9h4M146 243.5h-3M646 243.5h4M146 241.1h-3M646 241.1h4M146 238.7h-3M646 238.7h4M146 236.3h-3M646 236.3h4M146 233.9h-3M646 233.9h4M146 231.5h-3M646 231.5h4M146 229.1h-3M646 229.1h4M146 226.7h-3M646 226.7h4M146 224.2h-3M646 224.2h4M146 221.8h-3M646 221.8h4M146 219.4h-3M646 219.4h4M146 217h-3M646 217h4M146 214.6h-3M646 214.6h4M146 212.2h-3M646 212.2h4M146 209.8h-3M646 209.8h4M146 207.4h-3M646 207.4h4M146 205h-3M646 205h4M146 202.6h-3M646 202.6h4M146 200.2h-3M646 200.2h4M146 197.8h-3M646 197.8h4M146 195.3h-3M646 195.3h4M146 192.9h-3M646 192.9h4M146 190.5h-3M646 190.5h4M146 188.1h-3M646 188.1h4M146 185.7h-3M646 185.7h4M146 183.3h-3M646 183.3h4M146 180.9h-3M646 180.9h4M146 178.5h-3M646 178.5h4M146 176.1h-3M646 176.1h4M146 173.7h-3M646 173.7h4M146 171.3h-3M646 171.3h4M146 168.9h-3M646 168.9h4M146 166.4h-3M646 166.4h4M146 164h-3M646 164h4M146 161.6h-3M646 161.6h4M146 159.2h-3M646 159.2h4M146 156.8h-3M646 156.8h4M146 154.4h-3M646 154.4h4" stroke="#000" stroke-width="1" shape-rendering="crispEdges"/>
<path d="M146 176.1h-7M646 176.1h7.8M146 200.2h-7M646 200.2h7.8M146 224.2h-7M646 224.2h7.8M146 248.3h-7M646 248.3h7.8M146 272.4h-7M646 272.4h7.8M146 296.5h-7M646 296.5h7.8" stroke="#000" stroke-width="1.4"/>
<path d="M139 303.5H646" stroke="#000" stroke-width="1.15"/>
<path d="M271.6 152v3.6M271.6 303.5v-5M396.2 152v3.6M396.2 303.5v-5M520.8 152v3.6M520.8 303.5v-5" stroke="#000" stroke-width="1.3"/>
<g stroke="#000" stroke-width="1">
<text x="133.9" y="163.4" font-size="14.4" text-anchor="end">700</text>
<text x="133.9" y="182.583" font-size="14.4" text-anchor="end">600</text>
<text x="133.9" y="206.666" font-size="14.4" text-anchor="end">500</text>
<text x="133.9" y="230.749" font-size="14.4" text-anchor="end">400</text>
<text x="133.9" y="254.832" font-size="14.4" text-anchor="end">300</text>
<text x="133.9" y="278.915" font-size="14.4" text-anchor="end">200</text>
<text x="133.9" y="303.3" font-size="14.4" text-anchor="end">100</text>
<text x="78.5" y="228" font-size="14.3" text-anchor="middle" transform="rotate(-90 78.5 228)" textLength="49" lengthAdjust="spacingAndGlyphs">Altitude</text>
<text x="95.5" y="228" font-size="14.3" text-anchor="middle" transform="rotate(-90 95.5 228)">[km]</text>
</g>
<rect x="655.4" y="154.5" width="5.2" height="146.1" fill="url(#cb)" stroke="#221" stroke-opacity="0.75" stroke-width="0.7"/>
<g stroke="#000" stroke-width="0.95">
<text x="680.8" y="166.9" font-size="17.6" text-anchor="middle">12</text>
<text x="680.8" y="298" font-size="17.6" text-anchor="middle">10</text>
<text x="685.7" y="228.6" font-size="17.6" text-anchor="middle" transform="rotate(-90 685.7 228.6)">Ne [log(m<tspan dy="-9.6" font-size="10.5">-3</tspan><tspan dy="9.6">)]</tspan></text>
</g>
<g stroke-width="5.3" fill="none">
<g transform="translate(149.4 304)" stroke-width="4.8"><path stroke="#0ff" d="M0 3.9V12.8"/><path stroke="#0cf" d="M0 12.3V20.8"/><path stroke="#0bf" d="M0 20.3V28.5"/><path stroke="#09f" d="M0 28V35.8"/><path stroke="#0bf" d="M0 35.3V55.8"/><path stroke="#09f" d="M0 55.3V83.6"/><path stroke="#07f" d="M0 83.1V88.4"/><path stroke="#03f" d="M0 87.9V93"/><path stroke="#04f" d="M0 92.5V97.4"/><path stroke="#09f" d="M0 96.9V113.1"/><path stroke="#00f" d="M0 112.6V119.9"/><path stroke="#03f" d="M0 119.4V123.1"/><path stroke="#409" d="M0 122.6V134.4"/><path stroke="#0f0" d="M0 133.9V136.9"/><path stroke="#409" d="M0 136.4V140.4"/><path stroke="#304" d="M0 146V147.1"/></g>
<g transform="translate(158.5 304)" stroke-width="5"><path stroke="#0fc" d="M0 3.9V12.8"/><path stroke="#0fd" d="M0 12.3V20.8"/><path stroke="#0bf" d="M0 20.3V35.8"/><path stroke="#09f" d="M0 35.3V49.4"/><path stroke="#0bf" d="M0 48.9V61.9"/><path stroke="#0af" d="M0 61.4V67.7"/><path stroke="#09f" d="M0 67.2V83.6"/><path stroke="#07f" d="M0 83.1V88.4"/><path stroke="#03f" d="M0 87.9V93"/><path stroke="#05f" d="M0 92.5V97.4"/><path stroke="#09f" d="M0 96.9V113.1"/><path stroke="#20c" d="M0 112.6V116.6"/><path stroke="#10e" d="M0 116.1V119.9"/><path stroke="#0fc" d="M0 119.4V123.1"/><path stroke="#409" d="M0 122.6V126.1"/><path stroke="#10d" d="M0 125.6V128.5"/><path stroke="#20c" d="M0 131.3V136.9"/><path stroke="#304" d="M0 136.4V139.7"/><path stroke="#304" d="M0 146V150"/></g>
<g transform="translate(167 304)" stroke-width="5.7"><path stroke="#0fc" d="M0 3.9V12.8"/><path stroke="#0fe" d="M0 12.3V20.8"/><path stroke="#0ff" d="M0 20.3V28.5"/><path stroke="#0ef" d="M0 28V35.8"/><path stroke="#09f" d="M0 35.3V42.8"/><path stroke="#0af" d="M0 42.3V49.4"/><path stroke="#0ff" d="M0 48.9V61.9"/><path stroke="#0bf" d="M0 61.4V73.2"/><path stroke="#0af" d="M0 72.7V78.5"/><path stroke="#09f" d="M0 78V97.4"/><path stroke="#0bf" d="M0 96.9V101.6"/><path stroke="#0df" d="M0 101.1V105.6"/><path stroke="#0ff" d="M0 105.1V113.1"/><path stroke="#0af" d="M0 112.6V116.6"/><path stroke="#09f" d="M0 116.1V119.9"/><path stroke="#304" d="M0 119.4V122.6"/><path stroke="#0f8" d="M0 128.5V131.8"/><path stroke="#20c" d="M0 131.3V136.9"/><path stroke="#304" d="M0 136.4V140.4"/><path stroke="#304" d="M0 146V150"/></g>
<g transform="translate(175.9 304)" stroke-width="5.7"><path stroke="#0f8" d="M0 3.9V12.8"/><path stroke="#0ff" d="M0 12.3V20.8"/><path stroke="#0bf" d="M0 20.3V28.5"/><path stroke="#0fc" d="M0 28V42.8"/><path stroke="#0ef" d="M0 42.3V49.4"/><path stroke="#09f" d="M0 48.9V55.8"/><path stroke="#0ef" d="M0 55.3V61.9"/><path stroke="#0ff" d="M0 61.4V73.2"/><path stroke="#0df" d="M0 72.7V78.5"/><path stroke="#0bf" d="M0 78V83.6"/><path stroke="#09f" d="M0 83.1V88.4"/><path stroke="#0bf" d="M0 87.9V93"/><path stroke="#0fe" d="M0 92.5V97.4"/><path stroke="#0fd" d="M0 96.9V101.6"/><path stroke="#09f" d="M0 101.1V109.4"/><path stroke="#0f0" d="M0 108.9V112.6"/><path stroke="#304" d="M0 116.1V119.9"/><path stroke="#408" d="M0 119.4V123.1"/><path stroke="#409" d="M0 122.6V136.9"/><path stroke="#0f0" d="M0 136.4V139.7"/><path stroke="#304" d="M0 146V147.8"/><path stroke="#304" d="M0 148.9V150"/></g>
<g transform="translate(184.5 304)" stroke-width="5"><path stroke="#0ff" d="M0 3.9V12.8"/><path stroke="#0bf" d="M0 12.3V20.8"/><path stroke="#0ff" d="M0 20.3V61.9"/><path stroke="#0bf" d="M0 61.4V67.7"/><path stroke="#0ef" d="M0 67.2V73.2"/><path stroke="#0ff" d="M0 72.7V93"/><path stroke="#0ef" d="M0 92.5V97.4"/><path stroke="#09f" d="M0 96.9V101.6"/><path stroke="#0bf" d="M0 101.1V105.6"/><path stroke="#0cf" d="M0 105.1V109.4"/><path stroke="#0ff" d="M0 108.9V113.1"/><path stroke="#409" d="M0 112.6V116.1"/><path stroke="#09f" d="M0 122.6V126.1"/><path stroke="#20c" d="M0 125.6V128.5"/><path stroke="#304" d="M0 131.3V134.4"/><path stroke="#000" d="M0 133.9V136.9"/><path stroke="#f10" d="M0 136.4V139.7"/><path stroke="#304" d="M0 146V150"/></g>
<g transform="translate(193.6 304)" stroke-width="5.4"><path stroke="#00f" d="M0 3.9V12.8"/><path stroke="#0fc" d="M0 12.3V20.8"/><path stroke="#0f9" d="M0 20.3V28.5"/><path stroke="#0fb" d="M0 28V35.8"/><path stroke="#0fa" d="M0 35.3V42.8"/><path stroke="#0ff" d="M0 42.3V83.6"/><path stroke="#0df" d="M0 83.1V88.4"/><path stroke="#07f" d="M0 87.9V93"/><path stroke="#03f" d="M0 92.5V97.4"/><path stroke="#0ff" d="M0 96.9V101.1"/><path stroke="#00f" d="M0 105.1V113.1"/><path stroke="#20d" d="M0 112.6V116.6"/><path stroke="#304" d="M0 116.1V119.4"/><path stroke="#0ff" d="M0 122.6V126.1"/><path stroke="#00f" d="M0 125.6V133.9"/><path stroke="#00f" d="M0 136.4V139.3"/><path stroke="#304" d="M0 138.8V139.7"/><path stroke="#304" d="M0 146V147.8"/><path stroke="#304" d="M0 148.9V150"/></g>
<g transform="translate(202.5 304)" stroke-width="5.4"><path stroke="#0f8" d="M0 3.9V12.8"/><path stroke="#0fb" d="M0 12.3V20.8"/><path stroke="#0fc" d="M0 20.3V35.8"/><path stroke="#0fb" d="M0 35.3V42.8"/><path stroke="#0f8" d="M0 42.3V49.4"/><path stroke="#09f" d="M0 48.9V55.8"/><path stroke="#0ef" d="M0 55.3V61.9"/><path stroke="#0ff" d="M0 61.4V93"/><path stroke="#0fe" d="M0 92.5V97.4"/><path stroke="#0fd" d="M0 96.9V101.6"/><path stroke="#09f" d="M0 101.1V105.6"/><path stroke="#00f" d="M0 105.1V109.4"/><path stroke="#0f8" d="M0 108.9V116.6"/><path stroke="#409" d="M0 116.1V119.4"/><path stroke="#09f" d="M0 122.6V129"/><path stroke="#409" d="M0 128.5V131.8"/><path stroke="#03f" d="M0 131.3V134.4"/><path stroke="#04f" d="M0 133.9V136.9"/><path stroke="#09f" d="M0 136.4V139.3"/><path stroke="#409" d="M0 138.8V139.7"/><path stroke="#304" d="M0 146V147.8"/><path stroke="#304" d="M0 148.9V150"/></g>
<g transform="translate(211.4 304)" stroke-width="5.4"><path stroke="#0f8" d="M0 3.9V12.8"/><path stroke="#0bf" d="M0 12.3V20.8"/><path stroke="#0ff" d="M0 20.3V42.8"/><path stroke="#0ef" d="M0 42.3V49.4"/><path stroke="#09f" d="M0 48.9V61.9"/><path stroke="#0bf" d="M0 61.4V73.2"/><path stroke="#0af" d="M0 72.7V78.5"/><path stroke="#09f" d="M0 78V93"/><path stroke="#0bf" d="M0 92.5V97.4"/><path stroke="#0ff" d="M0 96.9V101.6"/><path stroke="#00f" d="M0 101.1V109.4"/><path stroke="#09f" d="M0 108.9V113.1"/><path stroke="#04f" d="M0 112.6V116.6"/><path stroke="#10d" d="M0 116.1V119.9"/><path stroke="#20c" d="M0 119.4V139.7"/><path stroke="#304" d="M0 146V147.1"/></g>
<g transform="translate(220.5 304)" stroke-width="5"><path stroke="#0ff" d="M0 3.9V12.8"/><path stroke="#0ef" d="M0 12.3V20.8"/><path stroke="#0af" d="M0 20.3V28.5"/><path stroke="#0ff" d="M0 28V42.8"/><path stroke="#0ef" d="M0 42.3V49.4"/><path stroke="#09f" d="M0 48.9V61.9"/><path stroke="#0df" d="M0 61.4V67.7"/><path stroke="#0af" d="M0 67.2V73.2"/><path stroke="#0bf" d="M0 72.7V93"/><path stroke="#0df" d="M0 92.5V97.4"/><path stroke="#0ff" d="M0 96.9V101.6"/><path stroke="#03f" d="M0 101.1V105.6"/><path stroke="#0f8" d="M0 105.1V109.4"/><path stroke="#00f" d="M0 108.9V116.6"/><path stroke="#20d" d="M0 116.1V119.9"/><path stroke="#20c" d="M0 119.4V126.1"/><path stroke="#40a" d="M0 125.6V129"/><path stroke="#30b" d="M0 128.5V131.8"/><path stroke="#20c" d="M0 131.3V139.7"/><path stroke="#000" d="M0 146V148"/></g>
<g transform="translate(229.1 304)" stroke-width="6.2"><path stroke="#0f0" d="M0 3.9V12.8"/><path stroke="#09f" d="M0 12.3V20.8"/><path stroke="#0ef" d="M0 20.3V28.5"/><path stroke="#09f" d="M0 28V67.7"/><path stroke="#04f" d="M0 67.2V73.2"/><path stroke="#07f" d="M0 72.7V78.5"/><path stroke="#09f" d="M0 78V101.6"/><path stroke="#0af" d="M0 101.1V105.6"/><path stroke="#0bf" d="M0 105.1V112.6"/><path stroke="#409" d="M0 116.1V119.9"/><path stroke="#10d" d="M0 119.4V123.1"/><path stroke="#00f" d="M0 122.6V129"/><path stroke="#20d" d="M0 128.5V131.8"/><path stroke="#40a" d="M0 131.3V134.4"/><path stroke="#409" d="M0 133.9V138.8"/><path stroke="#304" d="M0 141.1V142.6"/><path stroke="#304" d="M0 146V150"/></g>
<g transform="translate(238.1 304)"><path stroke="#0ff" d="M0 3.9V12.8"/><path stroke="#03f" d="M0 12.3V20.8"/><path stroke="#09f" d="M0 20.3V49.4"/><path stroke="#0bf" d="M0 48.9V55.8"/><path stroke="#09f" d="M0 55.3V93"/><path stroke="#0af" d="M0 92.5V97.4"/><path stroke="#0ff" d="M0 96.9V101.6"/><path stroke="#0fe" d="M0 101.1V105.6"/><path stroke="#0fc" d="M0 105.1V109.4"/><path stroke="#00f" d="M0 108.9V116.6"/><path stroke="#20d" d="M0 116.1V119.9"/><path stroke="#304" d="M0 119.4V123.1"/><path stroke="#20c" d="M0 122.6V136.9"/><path stroke="#40a" d="M0 136.4V139.3"/><path stroke="#409" d="M0 138.8V141.1"/><path stroke="#304" d="M0 149V150"/></g>
<g transform="translate(246.4 304)" stroke-width="4.9"><path stroke="#0fc" d="M0 3.9V12.8"/><path stroke="#0fe" d="M0 12.3V20.8"/><path stroke="#0ff" d="M0 20.3V42.8"/><path stroke="#0ef" d="M0 42.3V49.4"/><path stroke="#0bf" d="M0 48.9V55.8"/><path stroke="#0ef" d="M0 55.3V61.9"/><path stroke="#0ff" d="M0 61.4V78.5"/><path stroke="#0df" d="M0 78V83.6"/><path stroke="#0af" d="M0 83.1V88.4"/><path stroke="#0bf" d="M0 87.9V93"/><path stroke="#0df" d="M0 92.5V97.4"/><path stroke="#0ef" d="M0 96.9V101.6"/><path stroke="#09f" d="M0 101.1V119.9"/><path stroke="#00f" d="M0 119.4V123.1"/><path stroke="#10d" d="M0 122.6V126.1"/><path stroke="#20c" d="M0 125.6V138.8"/><path stroke="#304" d="M0 141.1V142.6"/><path stroke="#304" d="M0 146V150"/></g>
<g transform="translate(256.1 304)" stroke-width="4.3"><path stroke="#cf0" d="M0 3.9V12.8"/><path stroke="#0f8" d="M0 12.3V20.8"/><path stroke="#0ff" d="M0 20.3V28.5"/><path stroke="#0f4" d="M0 28V35.8"/><path stroke="#0fe" d="M0 35.3V42.8"/><path stroke="#0fc" d="M0 42.3V49.4"/><path stroke="#0ff" d="M0 48.9V55.8"/><path stroke="#0fc" d="M0 55.3V83.6"/><path stroke="#0fd" d="M0 83.1V88.4"/><path stroke="#0ff" d="M0 87.9V101.6"/><path stroke="#0f4" d="M0 101.1V105.6"/><path stroke="#0ff" d="M0 105.1V113.1"/><path stroke="#409" d="M0 112.6V138.8"/><path stroke="#409" d="M0 141.1V142.6"/><path stroke="#304" d="M0 146V150"/></g>
<g transform="translate(264.6 304)" stroke-width="5"><path stroke="#0f0" d="M0 3.9V12.8"/><path stroke="#1f0" d="M0 12.3V20.8"/><path stroke="#6f0" d="M0 20.3V28.5"/><path stroke="#cf0" d="M0 28V35.8"/><path stroke="#bf0" d="M0 35.3V42.8"/><path stroke="#9f0" d="M0 42.3V49.4"/><path stroke="#cf0" d="M0 48.9V55.8"/><path stroke="#0f0" d="M0 55.3V101.6"/><path stroke="#0f8" d="M0 101.1V105.6"/><path stroke="#0f0" d="M0 105.1V109.4"/><path stroke="#0ff" d="M0 108.9V116.6"/><path stroke="#0af" d="M0 116.1V119.9"/><path stroke="#00f" d="M0 119.4V129"/><path stroke="#20d" d="M0 128.5V131.8"/><path stroke="#20c" d="M0 131.3V136.9"/><path stroke="#409" d="M0 136.4V142.6"/><path stroke="#304" d="M0 146V150"/></g>
<g transform="translate(273.1 304)" stroke-width="4"><path stroke="#0f0" d="M0 3.9V12.8"/><path stroke="#6f0" d="M0 12.3V20.8"/><path stroke="#0f0" d="M0 20.3V42.8"/><path stroke="#4f0" d="M0 42.3V67.7"/><path stroke="#1f0" d="M0 67.2V73.2"/><path stroke="#0f0" d="M0 72.7V83.6"/><path stroke="#0f1" d="M0 83.1V88.4"/><path stroke="#0f4" d="M0 87.9V97.4"/><path stroke="#0f5" d="M0 96.9V101.6"/><path stroke="#0f8" d="M0 101.1V113.1"/><path stroke="#0fe" d="M0 112.6V116.6"/><path stroke="#0ff" d="M0 116.1V119.9"/><path stroke="#00f" d="M0 119.4V129"/><path stroke="#20d" d="M0 128.5V131.8"/><path stroke="#20c" d="M0 131.3V134.4"/><path stroke="#40a" d="M0 133.9V136.9"/><path stroke="#409" d="M0 136.4V139.3"/><path stroke="#304" d="M0 138.8V142.6"/><path stroke="#304" d="M0 146V150"/></g>
<g transform="translate(282.5 304)" stroke-width="5"><path stroke="#8f0" d="M0 3.9V12.8"/><path stroke="#4f0" d="M0 12.3V20.8"/><path stroke="#0f0" d="M0 20.3V35.8"/><path stroke="#1f0" d="M0 35.3V42.8"/><path stroke="#4f0" d="M0 42.3V55.8"/><path stroke="#1f0" d="M0 55.3V61.9"/><path stroke="#0f0" d="M0 61.4V88.4"/><path stroke="#0f8" d="M0 87.9V101.6"/><path stroke="#0f0" d="M0 101.1V105.6"/><path stroke="#0f8" d="M0 105.1V116.6"/><path stroke="#09f" d="M0 116.1V119.9"/><path stroke="#07f" d="M0 119.4V123.1"/><path stroke="#03f" d="M0 122.6V126.1"/><path stroke="#01f" d="M0 125.6V129"/><path stroke="#00f" d="M0 128.5V134.4"/><path stroke="#40a" d="M0 133.9V136.9"/><path stroke="#409" d="M0 136.4V139.3"/><path stroke="#304" d="M0 138.8V142.6"/><path stroke="#304" d="M0 146V150"/></g>
<g transform="translate(291.1 304)" stroke-width="5.7"><path stroke="#0bf" d="M0 3.9V12.8"/><path stroke="#0f0" d="M0 12.3V28.5"/><path stroke="#0f8" d="M0 28V42.8"/><path stroke="#0f4" d="M0 42.3V67.7"/><path stroke="#0f8" d="M0 67.2V83.6"/><path stroke="#0fb" d="M0 83.1V88.4"/><path stroke="#0ff" d="M0 87.9V93"/><path stroke="#0fe" d="M0 92.5V97.4"/><path stroke="#0fc" d="M0 96.9V105.6"/><path stroke="#0fd" d="M0 105.1V109.4"/><path stroke="#09f" d="M0 108.9V113.1"/><path stroke="#00f" d="M0 112.6V116.6"/><path stroke="#03f" d="M0 116.1V119.9"/><path stroke="#01f" d="M0 119.4V123.1"/><path stroke="#30b" d="M0 122.6V129"/><path stroke="#20c" d="M0 128.5V134.4"/><path stroke="#40a" d="M0 133.9V136.9"/><path stroke="#409" d="M0 136.4V139.3"/><path stroke="#305" d="M0 138.8V141.6"/><path stroke="#304" d="M0 141.1V142.6"/><path stroke="#304" d="M0 146V147.8"/><path stroke="#304" d="M0 148.9V150"/></g>
<g transform="translate(300 304)" stroke-width="5.7"><path stroke="#0fc" d="M0 3.9V12.8"/><path stroke="#0fa" d="M0 12.3V20.8"/><path stroke="#0ef" d="M0 20.3V28.5"/><path stroke="#0cf" d="M0 28V35.8"/><path stroke="#0ff" d="M0 35.3V61.9"/><path stroke="#0df" d="M0 61.4V67.7"/><path stroke="#0bf" d="M0 67.2V73.2"/><path stroke="#0ef" d="M0 72.7V78.5"/><path stroke="#0ff" d="M0 78V83.6"/><path stroke="#0df" d="M0 83.1V88.4"/><path stroke="#09f" d="M0 87.9V93"/><path stroke="#07f" d="M0 92.5V97.4"/><path stroke="#03f" d="M0 96.9V101.6"/><path stroke="#04f" d="M0 101.1V105.6"/><path stroke="#09f" d="M0 105.1V113.1"/><path stroke="#00f" d="M0 112.6V123.1"/><path stroke="#30b" d="M0 122.6V126.1"/><path stroke="#10d" d="M0 125.6V129"/><path stroke="#30b" d="M0 128.5V131.8"/><path stroke="#409" d="M0 131.3V139.3"/><path stroke="#000" d="M0 138.8V141.6"/><path stroke="#304" d="M0 141.1V142.6"/><path stroke="#304" d="M0 146V150"/></g>
<g transform="translate(308.9 304)" stroke-width="5.7"><path stroke="#0ff" d="M0 3.9V12.8"/><path stroke="#0fd" d="M0 12.3V20.8"/><path stroke="#09f" d="M0 20.3V28.5"/><path stroke="#0bf" d="M0 28V35.8"/><path stroke="#0af" d="M0 35.3V42.8"/><path stroke="#0ff" d="M0 42.3V55.8"/><path stroke="#0cf" d="M0 55.3V61.9"/><path stroke="#0bf" d="M0 61.4V67.7"/><path stroke="#09f" d="M0 67.2V78.5"/><path stroke="#0af" d="M0 78V83.6"/><path stroke="#0bf" d="M0 83.1V88.4"/><path stroke="#08f" d="M0 87.9V93"/><path stroke="#03f" d="M0 92.5V97.4"/><path stroke="#04f" d="M0 96.9V101.6"/><path stroke="#08f" d="M0 101.1V105.6"/><path stroke="#03f" d="M0 105.1V109.4"/><path stroke="#08f" d="M0 108.9V113.1"/><path stroke="#0ef" d="M0 112.6V116.6"/><path stroke="#00f" d="M0 116.1V119.9"/><path stroke="#02f" d="M0 119.4V123.1"/><path stroke="#01f" d="M0 122.6V126.1"/><path stroke="#00f" d="M0 125.6V136.9"/><path stroke="#30b" d="M0 136.4V139.3"/><path stroke="#409" d="M0 138.8V142.6"/><path stroke="#304" d="M0 146V147.8"/><path stroke="#304" d="M0 148.9V150"/></g>
<g transform="translate(317.6 304)" stroke-width="5.4"><path stroke="#0fc" d="M0 3.9V12.8"/><path stroke="#0fd" d="M0 12.3V20.8"/><path stroke="#0f8" d="M0 20.3V35.8"/><path stroke="#0f9" d="M0 35.3V42.8"/><path stroke="#0fc" d="M0 42.3V67.7"/><path stroke="#0fe" d="M0 67.2V73.2"/><path stroke="#0ff" d="M0 72.7V83.6"/><path stroke="#0fe" d="M0 83.1V93"/><path stroke="#0df" d="M0 92.5V97.4"/><path stroke="#0ef" d="M0 96.9V101.6"/><path stroke="#0cf" d="M0 101.1V105.6"/><path stroke="#0ff" d="M0 105.1V113.1"/><path stroke="#03f" d="M0 112.6V119.9"/><path stroke="#01f" d="M0 119.4V123.1"/><path stroke="#00f" d="M0 122.6V126.1"/><path stroke="#09f" d="M0 125.6V129"/><path stroke="#00f" d="M0 128.5V131.8"/><path stroke="#30b" d="M0 131.3V134.4"/><path stroke="#409" d="M0 133.9V142.6"/><path stroke="#304" d="M0 146V150"/></g>
<g transform="translate(326.5 304)" stroke-width="5.4"><path stroke="#0f0" d="M0 3.9V12.8"/><path stroke="#0f8" d="M0 12.3V20.8"/><path stroke="#0f4" d="M0 20.3V28.5"/><path stroke="#0f5" d="M0 28V35.8"/><path stroke="#0fc" d="M0 35.3V42.8"/><path stroke="#0ef" d="M0 42.3V49.4"/><path stroke="#0bf" d="M0 48.9V55.8"/><path stroke="#0f8" d="M0 55.3V61.9"/><path stroke="#0fd" d="M0 61.4V67.7"/><path stroke="#0ff" d="M0 67.2V78.5"/><path stroke="#0ef" d="M0 78V83.6"/><path stroke="#0bf" d="M0 83.1V93"/><path stroke="#0ef" d="M0 92.5V97.4"/><path stroke="#0fc" d="M0 96.9V101.6"/><path stroke="#0fd" d="M0 101.1V105.6"/><path stroke="#0bf" d="M0 105.1V113.1"/><path stroke="#00f" d="M0 112.6V116.6"/><path stroke="#03f" d="M0 116.1V123.1"/><path stroke="#01f" d="M0 122.6V126.1"/><path stroke="#00f" d="M0 125.6V129"/><path stroke="#10d" d="M0 128.5V131.8"/><path stroke="#409" d="M0 131.3V136.9"/><path stroke="#306" d="M0 136.4V139.3"/><path stroke="#304" d="M0 138.8V141.1"/><path stroke="#304" d="M0 146V150"/></g>
<g transform="translate(335.4 304)" stroke-width="5.4"><path stroke="#0fc" d="M0 3.9V12.8"/><path stroke="#0fe" d="M0 12.3V20.8"/><path stroke="#0fc" d="M0 20.3V35.8"/><path stroke="#0ff" d="M0 35.3V42.8"/><path stroke="#0ef" d="M0 42.3V49.4"/><path stroke="#0bf" d="M0 48.9V61.9"/><path stroke="#0af" d="M0 61.4V67.7"/><path stroke="#09f" d="M0 67.2V78.5"/><path stroke="#07f" d="M0 78V83.6"/><path stroke="#03f" d="M0 83.1V88.4"/><path stroke="#05f" d="M0 87.9V93"/><path stroke="#09f" d="M0 92.5V101.6"/><path stroke="#0bf" d="M0 101.1V113.1"/><path stroke="#04f" d="M0 112.6V116.6"/><path stroke="#01f" d="M0 116.1V119.9"/><path stroke="#00f" d="M0 119.4V123.1"/><path stroke="#02f" d="M0 122.6V126.1"/><path stroke="#01f" d="M0 125.6V129"/><path stroke="#00f" d="M0 128.5V136.9"/><path stroke="#30b" d="M0 136.4V139.3"/><path stroke="#409" d="M0 138.8V141.1"/><path stroke="#304" d="M0 146V148"/></g>
<g transform="translate(344.5 304)" stroke-width="5"><path stroke="#0f0" d="M0 3.9V12.8"/><path stroke="#0f8" d="M0 12.3V28.5"/><path stroke="#0f9" d="M0 28V35.8"/><path stroke="#0fc" d="M0 35.3V61.9"/><path stroke="#0ef" d="M0 61.4V73.2"/><path stroke="#0df" d="M0 72.7V78.5"/><path stroke="#0bf" d="M0 78V88.4"/><path stroke="#09f" d="M0 87.9V105.6"/><path stroke="#00f" d="M0 105.1V109.4"/><path stroke="#09f" d="M0 108.9V113.1"/><path stroke="#409" d="M0 112.6V119.9"/><path stroke="#10d" d="M0 119.4V123.1"/><path stroke="#00f" d="M0 122.6V129"/><path stroke="#20d" d="M0 128.5V131.8"/><path stroke="#20c" d="M0 131.3V134.4"/><path stroke="#40a" d="M0 133.9V136.9"/><path stroke="#409" d="M0 136.4V139.3"/><path stroke="#305" d="M0 138.8V141.6"/><path stroke="#304" d="M0 141.1V142.6"/><path stroke="#304" d="M0 146V150"/></g>
<g transform="translate(353.1 304)" stroke-width="6.2"><path stroke="#0f4" d="M0 3.9V12.8"/><path stroke="#0ff" d="M0 12.3V20.8"/><path stroke="#0fe" d="M0 20.3V28.5"/><path stroke="#0f8" d="M0 28V35.8"/><path stroke="#0f9" d="M0 35.3V42.8"/><path stroke="#0fc" d="M0 42.3V67.7"/><path stroke="#0fe" d="M0 67.2V73.2"/><path stroke="#0ff" d="M0 72.7V109.4"/><path stroke="#00f" d="M0 108.9V113.1"/><path stroke="#09f" d="M0 112.6V119.9"/><path stroke="#05f" d="M0 119.4V123.1"/><path stroke="#01f" d="M0 122.6V126.1"/><path stroke="#00f" d="M0 125.6V134.4"/><path stroke="#40a" d="M0 133.9V136.9"/><path stroke="#409" d="M0 136.4V139.3"/><path stroke="#000" d="M0 138.8V142.6"/><path stroke="#304" d="M0 146V147.8"/><path stroke="#304" d="M0 148.9V150"/></g>
<g transform="translate(362 304)"><path stroke="#0f0" d="M0 3.9V49.4"/><path stroke="#0fc" d="M0 48.9V55.8"/><path stroke="#0f9" d="M0 55.3V61.9"/><path stroke="#0f8" d="M0 61.4V73.2"/><path stroke="#0fb" d="M0 72.7V78.5"/><path stroke="#0fc" d="M0 78V101.6"/><path stroke="#0ff" d="M0 101.1V113.1"/><path stroke="#0af" d="M0 112.6V116.6"/><path stroke="#00f" d="M0 116.1V123.1"/><path stroke="#30b" d="M0 122.6V126.1"/><path stroke="#409" d="M0 125.6V139.3"/><path stroke="#305" d="M0 138.8V141.6"/><path stroke="#304" d="M0 141.1V142.6"/><path stroke="#304" d="M0 146V147.8"/><path stroke="#304" d="M0 148.9V150"/></g>
<g transform="translate(371 304)" stroke-width="6"><path stroke="#0bf" d="M0 3.9V12.8"/><path stroke="#0ff" d="M0 12.3V20.8"/><path stroke="#0f8" d="M0 20.3V35.8"/><path stroke="#0f4" d="M0 35.3V42.8"/><path stroke="#0fe" d="M0 42.3V49.4"/><path stroke="#0fc" d="M0 48.9V55.8"/><path stroke="#0f9" d="M0 55.3V61.9"/><path stroke="#0f8" d="M0 61.4V105.6"/><path stroke="#00f" d="M0 105.1V109.4"/><path stroke="#09f" d="M0 108.9V113.1"/><path stroke="#04f" d="M0 112.6V116.6"/><path stroke="#08f" d="M0 116.1V119.9"/><path stroke="#09f" d="M0 119.4V123.1"/><path stroke="#00f" d="M0 122.6V128.5"/><path stroke="#03f" d="M0 131.3V136.9"/><path stroke="#409" d="M0 136.4V139.3"/><path stroke="#00f" d="M0 138.8V139.9"/><path stroke="#304" d="M0 146V150"/></g>
<g transform="translate(379.7 304)" stroke-width="5"><path stroke="#0f8" d="M0 3.9V28.5"/><path stroke="#0f9" d="M0 28V35.8"/><path stroke="#0fa" d="M0 35.3V42.8"/><path stroke="#0f5" d="M0 42.3V49.4"/><path stroke="#0fc" d="M0 48.9V67.7"/><path stroke="#0f5" d="M0 67.2V73.2"/><path stroke="#0f9" d="M0 72.7V83.6"/><path stroke="#0f7" d="M0 83.1V88.4"/><path stroke="#0fc" d="M0 87.9V93"/><path stroke="#0f9" d="M0 92.5V97.4"/><path stroke="#0f4" d="M0 96.9V101.6"/><path stroke="#0bf" d="M0 101.1V105.6"/><path stroke="#09f" d="M0 105.1V109.4"/><path stroke="#03f" d="M0 108.9V116.6"/><path stroke="#01f" d="M0 116.1V119.9"/><path stroke="#00f" d="M0 119.4V126.1"/><path stroke="#02f" d="M0 125.6V129"/><path stroke="#03f" d="M0 128.5V131.8"/><path stroke="#409" d="M0 131.3V139.3"/><path stroke="#304" d="M0 138.8V142.6"/><path stroke="#304" d="M0 146V148"/></g>
<g transform="translate(388.6 304)" stroke-width="5"><path stroke="#0f8" d="M0 3.9V12.8"/><path stroke="#0fb" d="M0 12.3V20.8"/><path stroke="#0f8" d="M0 20.3V28.5"/><path stroke="#0fa" d="M0 28V35.8"/><path stroke="#0ff" d="M0 35.3V42.8"/><path stroke="#0f5" d="M0 42.3V49.4"/><path stroke="#0fc" d="M0 48.9V67.7"/><path stroke="#0f9" d="M0 67.2V73.2"/><path stroke="#0f8" d="M0 72.7V83.6"/><path stroke="#0bf" d="M0 83.1V88.4"/><path stroke="#0ef" d="M0 87.9V93"/><path stroke="#0fc" d="M0 92.5V101.6"/><path stroke="#0ff" d="M0 101.1V105.6"/><path stroke="#0ef" d="M0 105.1V109.4"/><path stroke="#09f" d="M0 108.9V113.1"/><path stroke="#20c" d="M0 112.6V116.6"/><path stroke="#00f" d="M0 116.1V129"/><path stroke="#20d" d="M0 128.5V131.8"/><path stroke="#304" d="M0 131.3V136.9"/><path stroke="#408" d="M0 136.4V139.3"/><path stroke="#305" d="M0 138.8V141.6"/><path stroke="#304" d="M0 141.1V142.6"/><path stroke="#304" d="M0 146V150"/></g>
<g transform="translate(397.5 304)" stroke-width="4.7"><path stroke="#0f8" d="M0 3.9V12.8"/><path stroke="#0f5" d="M0 12.3V20.8"/><path stroke="#0f4" d="M0 20.3V42.8"/><path stroke="#0f5" d="M0 42.3V49.4"/><path stroke="#0f8" d="M0 48.9V55.8"/><path stroke="#0f5" d="M0 55.3V61.9"/><path stroke="#0f4" d="M0 61.4V67.7"/><path stroke="#0f8" d="M0 67.2V105.6"/><path stroke="#03f" d="M0 105.1V109.4"/><path stroke="#00f" d="M0 108.9V113.1"/><path stroke="#09f" d="M0 112.6V123.1"/><path stroke="#00f" d="M0 122.6V134.4"/><path stroke="#40a" d="M0 133.9V136.9"/><path stroke="#306" d="M0 136.4V139.3"/><path stroke="#304" d="M0 138.8V141.1"/><path stroke="#304" d="M0 146V147.8"/><path stroke="#304" d="M0 148.9V150"/></g>
<g transform="translate(406.5 304)" stroke-width="5"><path stroke="#0ff" d="M0 3.9V12.8"/><path stroke="#0fd" d="M0 12.3V20.8"/><path stroke="#0ff" d="M0 20.3V28.5"/><path stroke="#0fe" d="M0 28V35.8"/><path stroke="#0fc" d="M0 35.3V49.4"/><path stroke="#0ff" d="M0 48.9V55.8"/><path stroke="#0fc" d="M0 55.3V73.2"/><path stroke="#0fe" d="M0 72.7V78.5"/><path stroke="#0ff" d="M0 78V83.6"/><path stroke="#0fe" d="M0 83.1V88.4"/><path stroke="#0fd" d="M0 87.9V93"/><path stroke="#0ff" d="M0 92.5V97.4"/><path stroke="#0ef" d="M0 96.9V101.6"/><path stroke="#08f" d="M0 101.1V105.6"/><path stroke="#04f" d="M0 105.1V109.4"/><path stroke="#09f" d="M0 108.9V113.1"/><path stroke="#00f" d="M0 112.6V119.9"/><path stroke="#10d" d="M0 119.4V123.1"/><path stroke="#20c" d="M0 122.6V129"/><path stroke="#40a" d="M0 128.5V131.8"/><path stroke="#409" d="M0 131.3V136.9"/><path stroke="#306" d="M0 136.4V139.3"/><path stroke="#304" d="M0 138.8V141.1"/><path stroke="#304" d="M0 146V150"/></g>
<g transform="translate(415.4 304)" stroke-width="5"><path stroke="#0f0" d="M0 3.9V12.8"/><path stroke="#0f8" d="M0 12.3V35.8"/><path stroke="#0f1" d="M0 35.3V42.8"/><path stroke="#0f5" d="M0 42.3V49.4"/><path stroke="#0f8" d="M0 48.9V67.7"/><path stroke="#0f5" d="M0 67.2V73.2"/><path stroke="#0f4" d="M0 72.7V101.6"/><path stroke="#0f5" d="M0 101.1V105.6"/><path stroke="#0f8" d="M0 105.1V109.4"/><path stroke="#0bf" d="M0 108.9V113.1"/><path stroke="#09f" d="M0 112.6V116.6"/><path stroke="#04f" d="M0 116.1V119.9"/><path stroke="#01f" d="M0 119.4V123.1"/><path stroke="#00f" d="M0 122.6V129"/><path stroke="#30b" d="M0 128.5V131.8"/><path stroke="#409" d="M0 131.3V139.7"/><path stroke="#304" d="M0 146V148"/></g>
<g transform="translate(423.6 304)" stroke-width="5"><path stroke="#0f0" d="M0 3.9V12.8"/><path stroke="#0fc" d="M0 12.3V20.8"/><path stroke="#0f1" d="M0 20.3V28.5"/><path stroke="#0f4" d="M0 28V55.8"/><path stroke="#0f1" d="M0 55.3V61.9"/><path stroke="#0f8" d="M0 61.4V93"/><path stroke="#0f7" d="M0 92.5V97.4"/><path stroke="#0f5" d="M0 96.9V101.6"/><path stroke="#0fa" d="M0 101.1V105.6"/><path stroke="#0ef" d="M0 105.1V109.4"/><path stroke="#09f" d="M0 108.9V119.9"/><path stroke="#00f" d="M0 119.4V129"/><path stroke="#10d" d="M0 128.5V131.8"/><path stroke="#409" d="M0 131.3V134.4"/><path stroke="#10e" d="M0 133.9V136.9"/><path stroke="#40a" d="M0 136.4V139.3"/><path stroke="#409" d="M0 138.8V142.6"/><path stroke="#304" d="M0 146V150"/></g>
<g transform="translate(432.9 304)" stroke-width="5.7"><path stroke="#0ff" d="M0 3.9V12.8"/><path stroke="#0f0" d="M0 12.3V20.8"/><path stroke="#0fc" d="M0 20.3V28.5"/><path stroke="#0fb" d="M0 28V35.8"/><path stroke="#0f8" d="M0 35.3V61.9"/><path stroke="#0f6" d="M0 61.4V67.7"/><path stroke="#0f4" d="M0 67.2V73.2"/><path stroke="#0f9" d="M0 72.7V78.5"/><path stroke="#0fc" d="M0 78V93"/><path stroke="#0fd" d="M0 92.5V97.4"/><path stroke="#0fe" d="M0 96.9V101.6"/><path stroke="#0f8" d="M0 101.1V109.4"/><path stroke="#09f" d="M0 108.9V113.1"/><path stroke="#0ef" d="M0 112.6V116.6"/><path stroke="#00f" d="M0 116.1V126.1"/><path stroke="#30b" d="M0 125.6V129"/><path stroke="#409" d="M0 128.5V134.4"/><path stroke="#03f" d="M0 133.9V138.8"/><path stroke="#409" d="M0 141.1V142.6"/><path stroke="#304" d="M0 146V150"/></g>
<g transform="translate(441.6 304)" stroke-width="5.4"><path stroke="#0f8" d="M0 3.9V12.8"/><path stroke="#0fe" d="M0 12.3V20.8"/><path stroke="#0ff" d="M0 20.3V28.5"/><path stroke="#0fe" d="M0 28V35.8"/><path stroke="#0f8" d="M0 35.3V42.8"/><path stroke="#0fa" d="M0 42.3V49.4"/><path stroke="#0ff" d="M0 48.9V55.8"/><path stroke="#0fc" d="M0 55.3V61.9"/><path stroke="#0f7" d="M0 61.4V67.7"/><path stroke="#0fa" d="M0 67.2V73.2"/><path stroke="#0fc" d="M0 72.7V83.6"/><path stroke="#0fe" d="M0 83.1V88.4"/><path stroke="#0df" d="M0 87.9V93"/><path stroke="#0ff" d="M0 92.5V97.4"/><path stroke="#0ef" d="M0 96.9V101.6"/><path stroke="#09f" d="M0 101.1V105.6"/><path stroke="#0bf" d="M0 105.1V109.4"/><path stroke="#00f" d="M0 108.9V129"/><path stroke="#30b" d="M0 128.5V131.8"/><path stroke="#409" d="M0 131.3V134.4"/><path stroke="#10e" d="M0 133.9V136.9"/><path stroke="#30b" d="M0 136.4V139.3"/><path stroke="#409" d="M0 138.8V142.6"/><path stroke="#304" d="M0 146V147.8"/><path stroke="#304" d="M0 148.9V150"/></g>
<g transform="translate(450.5 304)" stroke-width="5.4"><path stroke="#0bf" d="M0 3.9V12.8"/><path stroke="#0ff" d="M0 12.3V20.8"/><path stroke="#0fc" d="M0 20.3V42.8"/><path stroke="#0fa" d="M0 42.3V49.4"/><path stroke="#0ff" d="M0 48.9V78.5"/><path stroke="#0ef" d="M0 78V83.6"/><path stroke="#0bf" d="M0 83.1V93"/><path stroke="#0ff" d="M0 92.5V97.4"/><path stroke="#0ef" d="M0 96.9V101.6"/><path stroke="#0bf" d="M0 101.1V105.6"/><path stroke="#09f" d="M0 105.1V113.1"/><path stroke="#00f" d="M0 112.6V116.6"/><path stroke="#40a" d="M0 116.1V119.9"/><path stroke="#10d" d="M0 119.4V123.1"/><path stroke="#00f" d="M0 122.6V126.1"/><path stroke="#30b" d="M0 125.6V131.8"/><path stroke="#00f" d="M0 131.3V138.8"/><path stroke="#304" d="M0 146V150"/></g>
<g transform="translate(459.4 304)" stroke-width="5.4"><path stroke="#0f0" d="M0 3.9V12.8"/><path stroke="#0fc" d="M0 12.3V20.8"/><path stroke="#0fb" d="M0 20.3V28.5"/><path stroke="#0f9" d="M0 28V35.8"/><path stroke="#0fc" d="M0 35.3V42.8"/><path stroke="#0fb" d="M0 42.3V49.4"/><path stroke="#0f8" d="M0 48.9V55.8"/><path stroke="#0fe" d="M0 55.3V61.9"/><path stroke="#0ff" d="M0 61.4V88.4"/><path stroke="#0df" d="M0 87.9V93"/><path stroke="#09f" d="M0 92.5V97.4"/><path stroke="#0f8" d="M0 96.9V101.6"/><path stroke="#09f" d="M0 101.1V105.6"/><path stroke="#0f8" d="M0 105.1V109.4"/><path stroke="#0bf" d="M0 108.9V113.1"/><path stroke="#00f" d="M0 112.6V123.1"/><path stroke="#30b" d="M0 122.6V126.1"/><path stroke="#10d" d="M0 125.6V129"/><path stroke="#00f" d="M0 128.5V131.8"/><path stroke="#304" d="M0 131.3V134.4"/><path stroke="#408" d="M0 133.9V136.9"/><path stroke="#409" d="M0 136.4V139.7"/><path stroke="#304" d="M0 146V148"/></g>
<g transform="translate(468.5 304)" stroke-width="5"><path stroke="#0f8" d="M0 3.9V12.8"/><path stroke="#0fc" d="M0 12.3V20.8"/><path stroke="#0df" d="M0 20.3V28.5"/><path stroke="#0fc" d="M0 28V35.8"/><path stroke="#0fd" d="M0 35.3V42.8"/><path stroke="#0cf" d="M0 42.3V49.4"/><path stroke="#0ff" d="M0 48.9V73.2"/><path stroke="#0bf" d="M0 72.7V78.5"/><path stroke="#09f" d="M0 78V83.6"/><path stroke="#0bf" d="M0 83.1V88.4"/><path stroke="#0ff" d="M0 87.9V105.6"/><path stroke="#0ef" d="M0 105.1V109.4"/><path stroke="#09f" d="M0 108.9V113.1"/><path stroke="#04f" d="M0 112.6V116.6"/><path stroke="#10d" d="M0 116.1V119.9"/><path stroke="#20c" d="M0 119.4V129"/><path stroke="#40a" d="M0 128.5V131.8"/><path stroke="#409" d="M0 131.3V142.6"/><path stroke="#304" d="M0 146V150"/></g>
<g transform="translate(477.5 304)"><path stroke="#0fc" d="M0 3.9V12.8"/><path stroke="#0fe" d="M0 12.3V20.8"/><path stroke="#0fc" d="M0 20.3V42.8"/><path stroke="#0fb" d="M0 42.3V49.4"/><path stroke="#0f8" d="M0 48.9V73.2"/><path stroke="#0fb" d="M0 72.7V78.5"/><path stroke="#0fc" d="M0 78V83.6"/><path stroke="#0fd" d="M0 83.1V88.4"/><path stroke="#0ff" d="M0 87.9V97.4"/><path stroke="#0ef" d="M0 96.9V101.6"/><path stroke="#09f" d="M0 101.1V105.6"/><path stroke="#0bf" d="M0 105.1V113.1"/><path stroke="#04f" d="M0 112.6V116.6"/><path stroke="#01f" d="M0 116.1V119.9"/><path stroke="#00f" d="M0 119.4V126.1"/><path stroke="#30b" d="M0 125.6V129"/><path stroke="#409" d="M0 128.5V138.8"/><path stroke="#000" d="M0 141.1V142.6"/><path stroke="#000" d="M0 146V148.5"/><path stroke="#304" d="M0 148V150"/></g>
<g transform="translate(486 304)"><path stroke="#cf0" d="M0 3.9V20.8"/><path stroke="#1f0" d="M0 20.3V28.5"/><path stroke="#4f0" d="M0 28V35.8"/><path stroke="#0f0" d="M0 35.3V49.4"/><path stroke="#0f8" d="M0 48.9V55.8"/><path stroke="#0f5" d="M0 55.3V61.9"/><path stroke="#0f4" d="M0 61.4V67.7"/><path stroke="#0f8" d="M0 67.2V105.6"/><path stroke="#0fa" d="M0 105.1V109.4"/><path stroke="#0ff" d="M0 108.9V116.6"/><path stroke="#00f" d="M0 116.1V126.1"/><path stroke="#10d" d="M0 125.6V129"/><path stroke="#20c" d="M0 128.5V131.8"/><path stroke="#40a" d="M0 131.3V134.4"/><path stroke="#409" d="M0 133.9V136.9"/><path stroke="#40a" d="M0 136.4V139.3"/><path stroke="#00f" d="M0 138.8V139.9"/><path stroke="#304" d="M0 146V150"/></g>
<g transform="translate(495 304)" stroke-width="6"><path stroke="#0ff" d="M0 3.9V12.8"/><path stroke="#8f0" d="M0 12.3V20.8"/><path stroke="#0f0" d="M0 20.3V42.8"/><path stroke="#0f8" d="M0 42.3V49.4"/><path stroke="#0f4" d="M0 48.9V73.2"/><path stroke="#0f7" d="M0 72.7V78.5"/><path stroke="#0f8" d="M0 78V105.6"/><path stroke="#0fa" d="M0 105.1V109.4"/><path stroke="#0ff" d="M0 108.9V113.1"/><path stroke="#03f" d="M0 112.6V116.6"/><path stroke="#01f" d="M0 116.1V119.9"/><path stroke="#30b" d="M0 119.4V123.1"/><path stroke="#09f" d="M0 122.6V129"/><path stroke="#409" d="M0 128.5V134.4"/><path stroke="#30b" d="M0 133.9V136.9"/><path stroke="#20c" d="M0 136.4V139.9"/><path stroke="#304" d="M0 146V150"/></g>
<g transform="translate(503.7 304)" stroke-width="5"><path stroke="#0f0" d="M0 3.9V12.3"/><path stroke="#bf0" d="M0 20.3V28.5"/><path stroke="#7f0" d="M0 28V35.8"/><path stroke="#1f0" d="M0 35.3V42.8"/><path stroke="#4f0" d="M0 42.3V49.4"/><path stroke="#0f0" d="M0 48.9V61.9"/><path stroke="#6f0" d="M0 61.4V67.7"/><path stroke="#1f0" d="M0 67.2V73.2"/><path stroke="#0f3" d="M0 72.7V83.6"/><path stroke="#0f0" d="M0 83.1V101.6"/><path stroke="#0f8" d="M0 101.1V113.1"/><path stroke="#0f5" d="M0 112.6V116.6"/><path stroke="#09f" d="M0 116.1V119.9"/><path stroke="#05f" d="M0 119.4V123.1"/><path stroke="#03f" d="M0 122.6V126.1"/><path stroke="#409" d="M0 125.6V134.4"/><path stroke="#0ff" d="M0 133.9V136.9"/><path stroke="#409" d="M0 136.4V140.8"/><path stroke="#304" d="M0 146V150"/></g>
<g transform="translate(512.6 304)" stroke-width="5"><path stroke="#0f4" d="M0 3.9V20.8"/><path stroke="#0f0" d="M0 20.3V28.5"/><path stroke="#0f8" d="M0 28V42.8"/><path stroke="#0f5" d="M0 42.3V49.4"/><path stroke="#0fc" d="M0 48.9V55.8"/><path stroke="#0fe" d="M0 55.3V61.9"/><path stroke="#0fd" d="M0 61.4V67.7"/><path stroke="#0fc" d="M0 67.2V78.5"/><path stroke="#0fd" d="M0 78V83.6"/><path stroke="#0fe" d="M0 83.1V88.4"/><path stroke="#0fc" d="M0 87.9V101.6"/><path stroke="#0ff" d="M0 101.1V113.1"/><path stroke="#0af" d="M0 112.6V116.6"/><path stroke="#00f" d="M0 116.1V119.9"/><path stroke="#10d" d="M0 119.4V123.1"/><path stroke="#20c" d="M0 122.6V134.4"/><path stroke="#00f" d="M0 133.9V136.4"/><path stroke="#000" d="M0 138.8V139.9"/><path stroke="#304" d="M0 146V147.1"/></g>
<g transform="translate(521.5 304)" stroke-width="4.7"><path stroke="#0bf" d="M0 3.9V12.8"/><path stroke="#0f8" d="M0 12.3V20.8"/><path stroke="#0f9" d="M0 20.3V28.5"/><path stroke="#0fa" d="M0 28V35.8"/><path stroke="#0f5" d="M0 35.3V42.8"/><path stroke="#0fb" d="M0 42.3V49.4"/><path stroke="#0f8" d="M0 48.9V61.9"/><path stroke="#0fb" d="M0 61.4V67.7"/><path stroke="#0fe" d="M0 67.2V73.2"/><path stroke="#0fd" d="M0 72.7V78.5"/><path stroke="#0fc" d="M0 78V93"/><path stroke="#0fb" d="M0 92.5V97.4"/><path stroke="#0f8" d="M0 96.9V105.6"/><path stroke="#0af" d="M0 105.1V109.4"/><path stroke="#0ff" d="M0 108.9V113.1"/><path stroke="#0af" d="M0 112.6V116.6"/><path stroke="#0ef" d="M0 116.1V119.9"/><path stroke="#0bf" d="M0 119.4V126.1"/><path stroke="#20c" d="M0 125.6V128.5"/><path stroke="#03f" d="M0 131.3V133.9"/><path stroke="#0f8" d="M0 136.4V138.8"/><path stroke="#304" d="M0 146V147.8"/><path stroke="#304" d="M0 148.9V150"/></g>
<g transform="translate(530.5 304)" stroke-width="5"><path stroke="#0fc" d="M0 3.9V12.8"/><path stroke="#0f9" d="M0 12.3V28.5"/><path stroke="#0fc" d="M0 28V61.9"/><path stroke="#0ef" d="M0 61.4V73.2"/><path stroke="#0ff" d="M0 72.7V97.4"/><path stroke="#0fe" d="M0 96.9V101.6"/><path stroke="#0fa" d="M0 101.1V105.6"/><path stroke="#0ff" d="M0 105.1V113.1"/><path stroke="#00f" d="M0 112.6V129"/><path stroke="#30b" d="M0 128.5V131.8"/><path stroke="#409" d="M0 131.3V134.4"/><path stroke="#000" d="M0 133.9V136.9"/><path stroke="#409" d="M0 136.4V139.3"/><path stroke="#000" d="M0 138.8V142"/><path stroke="#304" d="M0 146V147.8"/><path stroke="#304" d="M0 148.9V150"/></g>
<g transform="translate(539.4 304)" stroke-width="5"><path stroke="#0bf" d="M0 3.9V12.8"/><path stroke="#0f8" d="M0 12.3V20.8"/><path stroke="#0fa" d="M0 20.3V28.5"/><path stroke="#0fe" d="M0 28V35.8"/><path stroke="#0fc" d="M0 35.3V49.4"/><path stroke="#0ff" d="M0 48.9V55.8"/><path stroke="#0fc" d="M0 55.3V61.9"/><path stroke="#0fe" d="M0 61.4V67.7"/><path stroke="#0fa" d="M0 67.2V73.2"/><path stroke="#0f8" d="M0 72.7V78.5"/><path stroke="#0fb" d="M0 78V83.6"/><path stroke="#0ff" d="M0 83.1V97.4"/><path stroke="#0ef" d="M0 96.9V101.6"/><path stroke="#0cf" d="M0 101.1V105.6"/><path stroke="#0ef" d="M0 105.1V109.4"/><path stroke="#09f" d="M0 108.9V113.1"/><path stroke="#00f" d="M0 112.6V126.1"/><path stroke="#30b" d="M0 125.6V129"/><path stroke="#409" d="M0 128.5V131.8"/><path stroke="#0bf" d="M0 131.3V133.9"/><path stroke="#409" d="M0 138.8V141.1"/><path stroke="#304" d="M0 146V148"/></g>
<g transform="translate(548 304)" stroke-width="5.7"><path stroke="#0f8" d="M0 3.9V12.8"/><path stroke="#0fa" d="M0 12.3V20.8"/><path stroke="#0f4" d="M0 20.3V28.5"/><path stroke="#0f5" d="M0 28V35.8"/><path stroke="#0f8" d="M0 35.3V42.8"/><path stroke="#0f4" d="M0 42.3V67.7"/><path stroke="#0f8" d="M0 67.2V78.5"/><path stroke="#0fa" d="M0 78V83.6"/><path stroke="#0fc" d="M0 83.1V105.6"/><path stroke="#0ff" d="M0 105.1V109.4"/><path stroke="#0af" d="M0 108.9V113.1"/><path stroke="#09f" d="M0 112.6V116.6"/><path stroke="#00f" d="M0 116.1V119.4"/><path stroke="#09f" d="M0 125.6V129"/><path stroke="#409" d="M0 128.5V136.4"/><path stroke="#000" d="M0 146V148.5"/><path stroke="#304" d="M0 148V150"/></g>
<g transform="translate(556.9 304)" stroke-width="5.7"><path stroke="#8f0" d="M0 12.3V20.8"/><path stroke="#4f0" d="M0 20.3V28.5"/><path stroke="#1f0" d="M0 28V35.8"/><path stroke="#4f0" d="M0 35.3V49.4"/><path stroke="#0f4" d="M0 48.9V67.7"/><path stroke="#4f0" d="M0 67.2V73.2"/><path stroke="#1f0" d="M0 72.7V78.5"/><path stroke="#0f0" d="M0 78V83.6"/><path stroke="#0f8" d="M0 83.1V93"/><path stroke="#0f0" d="M0 92.5V97.4"/><path stroke="#0ef" d="M0 96.9V101.6"/><path stroke="#09f" d="M0 101.1V109.4"/><path stroke="#0bf" d="M0 108.9V113.1"/><path stroke="#0ef" d="M0 112.6V116.6"/><path stroke="#0ff" d="M0 116.1V119.9"/><path stroke="#0af" d="M0 119.4V123.1"/><path stroke="#09f" d="M0 122.6V126.1"/><path stroke="#00f" d="M0 125.6V134.4"/><path stroke="#09f" d="M0 133.9V136.4"/><path stroke="#00f" d="M0 138.8V139.9"/><path stroke="#304" d="M0 146V147.1"/></g>
<g transform="translate(565.8 304)" stroke-width="5.7"><path stroke="#0f0" d="M0 3.9V20.8"/><path stroke="#1f0" d="M0 20.3V28.5"/><path stroke="#6f0" d="M0 28V35.8"/><path stroke="#cf0" d="M0 35.3V42.8"/><path stroke="#0f0" d="M0 42.3V83.6"/><path stroke="#0f8" d="M0 83.1V97.4"/><path stroke="#0f0" d="M0 96.9V101.6"/><path stroke="#0f8" d="M0 101.1V113.1"/><path stroke="#09f" d="M0 112.6V116.6"/><path stroke="#00f" d="M0 116.1V119.9"/><path stroke="#10d" d="M0 119.4V123.1"/><path stroke="#20c" d="M0 122.6V129"/><path stroke="#40a" d="M0 128.5V131.8"/><path stroke="#409" d="M0 131.3V136.9"/><path stroke="#304" d="M0 136.4V139.9"/><path stroke="#304" d="M0 146V150"/></g>
<g transform="translate(574.5 304)" stroke-width="5.4"><path stroke="#0f8" d="M0 3.9V12.8"/><path stroke="#4f0" d="M0 12.3V35.8"/><path stroke="#0f8" d="M0 35.3V67.7"/><path stroke="#0f0" d="M0 67.2V83.6"/><path stroke="#0f8" d="M0 83.1V105.6"/><path stroke="#0fa" d="M0 105.1V109.4"/><path stroke="#0ff" d="M0 108.9V116.6"/><path stroke="#0af" d="M0 116.1V119.9"/><path stroke="#00f" d="M0 119.4V123.1"/><path stroke="#30b" d="M0 122.6V126.1"/><path stroke="#409" d="M0 125.6V134.4"/><path stroke="#304" d="M0 133.9V136.9"/><path stroke="#000" d="M0 136.4V141.6"/><path stroke="#304" d="M0 141.1V142.9"/><path stroke="#304" d="M0 146V147.8"/><path stroke="#304" d="M0 148.9V150"/></g>
<g transform="translate(583.4 304)" stroke-width="5.4"><path stroke="#fc0" d="M0 12.3V20.8"/><path stroke="#ff0" d="M0 20.3V28.5"/><path stroke="#1f0" d="M0 28V35.8"/><path stroke="#4f0" d="M0 35.3V42.8"/><path stroke="#8f0" d="M0 42.3V55.8"/><path stroke="#1f0" d="M0 55.3V61.9"/><path stroke="#3f0" d="M0 61.4V67.7"/><path stroke="#bf0" d="M0 67.2V73.2"/><path stroke="#0f0" d="M0 72.7V78.5"/><path stroke="#3f0" d="M0 78V83.6"/><path stroke="#8f0" d="M0 83.1V88.4"/><path stroke="#0f8" d="M0 87.9V101.6"/><path stroke="#0f9" d="M0 101.1V105.6"/><path stroke="#0fc" d="M0 105.1V113.1"/><path stroke="#0f9" d="M0 112.6V116.6"/><path stroke="#0f8" d="M0 116.1V119.9"/><path stroke="#0bf" d="M0 119.4V123.1"/><path stroke="#00f" d="M0 122.6V131.8"/><path stroke="#30b" d="M0 131.3V134.4"/><path stroke="#409" d="M0 133.9V138.8"/><path stroke="#20c" d="M0 141.1V141.9"/><path stroke="#304" d="M0 149V150"/></g>
<g transform="translate(592.5 304)" stroke-width="5"><path stroke="#0fc" d="M0 3.9V12.8"/><path stroke="#0f0" d="M0 12.3V28.5"/><path stroke="#1f0" d="M0 28V35.8"/><path stroke="#4f0" d="M0 35.3V42.8"/><path stroke="#0f0" d="M0 42.3V67.7"/><path stroke="#0f4" d="M0 67.2V83.6"/><path stroke="#0f6" d="M0 83.1V88.4"/><path stroke="#0f8" d="M0 87.9V105.6"/><path stroke="#0fa" d="M0 105.1V109.4"/><path stroke="#0ff" d="M0 108.9V116.6"/><path stroke="#03f" d="M0 116.1V119.9"/><path stroke="#01f" d="M0 119.4V123.1"/><path stroke="#00f" d="M0 122.6V129"/><path stroke="#02f" d="M0 128.5V131.8"/><path stroke="#409" d="M0 131.3V136.9"/><path stroke="#0f0" d="M0 136.4V139.3"/><path stroke="#000" d="M0 138.8V139.9"/><path stroke="#304" d="M0 146V150"/></g>
<g transform="translate(601.5 304)"><path stroke="#f40" d="M0 3.9V12.8"/><path stroke="#0f0" d="M0 12.3V97.4"/><path stroke="#0f8" d="M0 96.9V105.6"/><path stroke="#0fa" d="M0 105.1V109.4"/><path stroke="#0ff" d="M0 108.9V116.6"/><path stroke="#03f" d="M0 116.1V119.9"/><path stroke="#01f" d="M0 119.4V123.1"/><path stroke="#00f" d="M0 122.6V126.1"/><path stroke="#30b" d="M0 125.6V129"/><path stroke="#409" d="M0 128.5V134.4"/><path stroke="#20c" d="M0 133.9V138.8"/><path stroke="#304" d="M0 146V150"/></g>
<g transform="translate(610.6 304)" stroke-width="5"><path stroke="#0f0" d="M0 3.9V12.8"/><path stroke="#4f0" d="M0 12.3V28.5"/><path stroke="#0f8" d="M0 28V35.8"/><path stroke="#0f4" d="M0 35.3V42.8"/><path stroke="#0f5" d="M0 42.3V49.4"/><path stroke="#0f8" d="M0 48.9V55.8"/><path stroke="#0fb" d="M0 55.3V61.9"/><path stroke="#0fa" d="M0 61.4V67.7"/><path stroke="#0f8" d="M0 67.2V105.6"/><path stroke="#0fa" d="M0 105.1V109.4"/><path stroke="#0ff" d="M0 108.9V113.1"/><path stroke="#03f" d="M0 112.6V116.6"/><path stroke="#08f" d="M0 116.1V119.9"/><path stroke="#00f" d="M0 119.4V126.1"/><path stroke="#0ff" d="M0 125.6V128.5"/><path stroke="#00f" d="M0 133.9V138.8"/><path stroke="#304" d="M0 146V150"/></g>
<g transform="translate(619 304)" stroke-width="6"><path stroke="#0f0" d="M0 3.9V20.8"/><path stroke="#0f8" d="M0 20.3V28.5"/><path stroke="#1f0" d="M0 28V35.8"/><path stroke="#4f0" d="M0 35.3V49.4"/><path stroke="#0f0" d="M0 48.9V55.8"/><path stroke="#0f8" d="M0 55.3V61.9"/><path stroke="#0f0" d="M0 61.4V73.2"/><path stroke="#0bf" d="M0 72.7V78.5"/><path stroke="#0df" d="M0 78V83.6"/><path stroke="#0ef" d="M0 83.1V88.4"/><path stroke="#0bf" d="M0 87.9V93"/><path stroke="#09f" d="M0 92.5V101.6"/><path stroke="#0cf" d="M0 101.1V105.6"/><path stroke="#0ef" d="M0 105.1V109.4"/><path stroke="#09f" d="M0 108.9V113.1"/><path stroke="#0bf" d="M0 112.6V116.6"/><path stroke="#20c" d="M0 116.1V119.9"/><path stroke="#0ff" d="M0 119.4V123.1"/><path stroke="#0fd" d="M0 122.6V125.6"/><path stroke="#8f0" d="M0 128.5V131.8"/><path stroke="#304" d="M0 131.3V133.9"/><path stroke="#000" d="M0 136.4V139.3"/><path stroke="#0f4" d="M0 138.8V140.8"/><path stroke="#304" d="M0 146V147.8"/><path stroke="#304" d="M0 148.9V150"/></g>
<g transform="translate(628.1 304)" stroke-width="5.7"><path stroke="#4f0" d="M0 20.3V28.5"/><path stroke="#1f0" d="M0 28V35.8"/><path stroke="#7f0" d="M0 35.3V42.8"/><path stroke="#1f0" d="M0 42.3V49.4"/><path stroke="#8f0" d="M0 48.9V61.9"/><path stroke="#3f0" d="M0 61.4V67.7"/><path stroke="#0f0" d="M0 67.2V88.4"/><path stroke="#0f8" d="M0 87.9V97.4"/><path stroke="#0fa" d="M0 96.9V101.6"/><path stroke="#0ff" d="M0 101.1V113.1"/><path stroke="#0af" d="M0 112.6V116.6"/><path stroke="#09f" d="M0 116.1V119.9"/><path stroke="#00f" d="M0 119.4V123.1"/><path stroke="#10d" d="M0 122.6V126.1"/><path stroke="#20c" d="M0 125.6V129"/><path stroke="#30b" d="M0 128.5V131.8"/><path stroke="#409" d="M0 131.3V136.9"/><path stroke="#000" d="M0 136.4V139.9"/><path stroke="#304" d="M0 146V150"/></g>
<g transform="translate(636.6 304)" stroke-width="5"><path stroke="#af0" d="M0 12.3V20.8"/><path stroke="#fe0" d="M0 20.3V28.5"/><path stroke="#f80" d="M0 28V35.8"/><path stroke="#1f0" d="M0 35.3V42.8"/><path stroke="#4f0" d="M0 42.3V49.4"/><path stroke="#0f0" d="M0 48.9V97.4"/><path stroke="#0f8" d="M0 96.9V105.6"/><path stroke="#0f9" d="M0 105.1V109.4"/><path stroke="#0fc" d="M0 108.9V116.6"/><path stroke="#0bf" d="M0 116.1V119.9"/><path stroke="#09f" d="M0 119.4V123.1"/><path stroke="#00f" d="M0 122.6V129"/><path stroke="#10d" d="M0 128.5V131.8"/><path stroke="#20c" d="M0 131.3V134.4"/><path stroke="#40a" d="M0 133.9V136.9"/><path stroke="#409" d="M0 136.4V139.9"/><path stroke="#304" d="M0 146V148"/></g>
</g>
<path d="M146 453.3h-3M646 453.3h4M146 450.9h-3M646 450.9h4M146 448.5h-3M646 448.5h4M146 446.1h-3M646 446.1h4M146 443.7h-3M646 443.7h4M146 441.3h-3M646 441.3h4M146 438.9h-3M646 438.9h4M146 436.5h-3M646 436.5h4M146 434h-3M646 434h4M146 431.6h-3M646 431.6h4M146 429.2h-3M646 429.2h4M146 426.8h-3M646 426.8h4M146 424.4h-3M646 424.4h4M146 422h-3M646 422h4M146 419.6h-3M646 419.6h4M146 417.2h-3M646 417.2h4M146 414.8h-3M646 414.8h4M146 412.4h-3M646 412.4h4M146 410h-3M646 410h4M146 407.6h-3M646 407.6h4M146 405.1h-3M646 405.1h4M146 402.7h-3M646 402.7h4M146 400.3h-3M646 400.3h4M146 397.9h-3M646 397.9h4M146 395.5h-3M646 395.5h4M146 393.1h-3M646 393.1h4M146 390.7h-3M646 390.7h4M146 388.3h-3M646 388.3h4M146 385.9h-3M646 385.9h4M146 383.5h-3M646 383.5h4M146 381.1h-3M646 381.1h4M146 378.7h-3M646 378.7h4M146 376.2h-3M646 376.2h4M146 373.8h-3M646 373.8h4M146 371.4h-3M646 371.4h4M146 369h-3M646 369h4M146 366.6h-3M646 366.6h4M146 364.2h-3M646 364.2h4M146 361.8h-3M646 361.8h4M146 359.4h-3M646 359.4h4M146 357h-3M646 357h4M146 354.6h-3M646 354.6h4M146 352.2h-3M646 352.2h4M146 349.8h-3M646 349.8h4M146 347.3h-3M646 347.3h4M146 344.9h-3M646 344.9h4M146 342.5h-3M646 342.5h4M146 340.1h-3M646 340.1h4M146 337.7h-3M646 337.7h4M146 335.3h-3M646 335.3h4M146 332.9h-3M646 332.9h4M146 330.5h-3M646 330.5h4M146 328.1h-3M646 328.1h4M146 325.7h-3M646 325.7h4M146 323.3h-3M646 323.3h4M146 320.9h-3M646 320.9h4M146 318.4h-3M646 318.4h4M146 316h-3M646 316h4M146 313.6h-3M646 313.6h4M146 311.2h-3M646 311.2h4M146 308.8h-3M646 308.8h4M146 306.4h-3M646 306.4h4" stroke="#000" stroke-width="1" shape-rendering="crispEdges"/>
<path d="M146 328.1h-7M646 328.1h7.8M146 352.2h-7M646 352.2h7.8M146 376.2h-7M646 376.2h7.8M146 400.3h-7M646 400.3h7.8M146 424.4h-7M646 424.4h7.8M146 448.5h-7M646 448.5h7.8" stroke="#000" stroke-width="1.4"/>
<path d="M139 455.5H646" stroke="#000" stroke-width="1.15"/>
<path d="M271.6 303.5v3.6M271.6 455.5v-5M396.2 303.5v3.6M396.2 455.5v-5M520.8 303.5v3.6M520.8 455.5v-5" stroke="#000" stroke-width="1.3"/>
<g stroke="#000" stroke-width="1">
<text x="133.9" y="315.4" font-size="14.4" text-anchor="end">700</text>
<text x="133.9" y="334.583" font-size="14.4" text-anchor="end">600</text>
<text x="133.9" y="358.666" font-size="14.4" text-anchor="end">500</text>
<text x="133.9" y="382.749" font-size="14.4" text-anchor="end">400</text>
<text x="133.9" y="406.832" font-size="14.4" text-anchor="end">300</text>
<text x="133.9" y="430.915" font-size="14.4" text-anchor="end">200</text>
<text x="133.9" y="455.3" font-size="14.4" text-anchor="end">100</text>
<text x="78.5" y="380" font-size="14.3" text-anchor="middle" transform="rotate(-90 78.5 380)" textLength="49" lengthAdjust="spacingAndGlyphs">Altitude</text>
<text x="95.5" y="380" font-size="14.3" text-anchor="middle" transform="rotate(-90 95.5 380)">[km]</text>
</g>
<rect x="655.4" y="306.5" width="5.2" height="146.1" fill="url(#cb)" stroke="#221" stroke-opacity="0.75" stroke-width="0.7"/>
<g stroke="#000" stroke-width="0.95">
<text x="680.8" y="318.9" font-size="17.6" text-anchor="middle">4000</text>
<text x="680.8" y="450" font-size="17.6" text-anchor="middle">0</text>
<text x="685.7" y="381.4" font-size="17.6" text-anchor="middle" transform="rotate(-90 685.7 381.4)">Te [K]</text>
</g>
<g stroke-width="5.3" fill="none">
<g transform="translate(149.4 456)" stroke-width="4.8"><path stroke="#0f8" d="M0 3.9V12.8"/><path stroke="#0f4" d="M0 12.3V20.8"/><path stroke="#0f0" d="M0 20.3V28.5"/><path stroke="#0fc" d="M0 28V55.8"/><path stroke="#0f9" d="M0 55.3V61.9"/><path stroke="#0f8" d="M0 61.4V67.7"/><path stroke="#0fe" d="M0 67.2V73.2"/><path stroke="#0ff" d="M0 72.7V83.6"/><path stroke="#0ef" d="M0 83.1V88.4"/><path stroke="#0df" d="M0 87.9V93"/><path stroke="#0fd" d="M0 92.5V97.4"/><path stroke="#0fa" d="M0 96.9V101.6"/><path stroke="#0ff" d="M0 101.1V105.6"/><path stroke="#0f4" d="M0 105.1V109.4"/><path stroke="#00f" d="M0 108.9V113.1"/><path stroke="#0bf" d="M0 112.6V116.6"/><path stroke="#04f" d="M0 116.1V119.9"/><path stroke="#05f" d="M0 119.4V123.1"/><path stroke="#09f" d="M0 122.6V126.1"/><path stroke="#000" d="M0 125.6V131.8"/><path stroke="#409" d="M0 131.3V139.9"/><path stroke="#304" d="M0 146V147.1"/></g>
<g transform="translate(158.5 456)" stroke-width="5"><path stroke="#0ff" d="M0 3.9V12.8"/><path stroke="#0fa" d="M0 12.3V20.8"/><path stroke="#0f9" d="M0 20.3V28.5"/><path stroke="#0fc" d="M0 28V42.8"/><path stroke="#0fe" d="M0 42.3V49.4"/><path stroke="#0fc" d="M0 48.9V61.9"/><path stroke="#0f7" d="M0 61.4V67.7"/><path stroke="#0f8" d="M0 67.2V93"/><path stroke="#0fb" d="M0 92.5V97.4"/><path stroke="#0ff" d="M0 96.9V105.6"/><path stroke="#0ef" d="M0 105.1V109.4"/><path stroke="#09f" d="M0 108.9V113.1"/><path stroke="#304" d="M0 112.6V116.6"/><path stroke="#20c" d="M0 116.1V119.9"/><path stroke="#10e" d="M0 119.4V123.1"/><path stroke="#09f" d="M0 122.6V128.5"/><path stroke="#409" d="M0 131.3V136.9"/><path stroke="#000" d="M0 136.4V139.9"/><path stroke="#304" d="M0 146V150"/></g>
<g transform="translate(167 456)" stroke-width="5.7"><path stroke="#0fc" d="M0 3.9V12.8"/><path stroke="#0f0" d="M0 12.3V20.8"/><path stroke="#0ff" d="M0 20.3V28.5"/><path stroke="#0f4" d="M0 28V67.7"/><path stroke="#0f8" d="M0 67.2V73.2"/><path stroke="#0f6" d="M0 72.7V78.5"/><path stroke="#0f4" d="M0 78V83.6"/><path stroke="#0f6" d="M0 83.1V88.4"/><path stroke="#0f8" d="M0 87.9V101.6"/><path stroke="#0f4" d="M0 101.1V105.6"/><path stroke="#0f5" d="M0 105.1V109.4"/><path stroke="#0fc" d="M0 108.9V113.1"/><path stroke="#0bf" d="M0 112.6V116.6"/><path stroke="#00f" d="M0 116.1V119.4"/><path stroke="#20c" d="M0 128.5V131.8"/><path stroke="#09f" d="M0 131.3V136.9"/><path stroke="#304" d="M0 136.4V139.9"/><path stroke="#304" d="M0 146V150"/></g>
<g transform="translate(175.9 456)" stroke-width="5.7"><path stroke="#0f8" d="M0 3.9V12.8"/><path stroke="#0f0" d="M0 12.3V20.8"/><path stroke="#7f0" d="M0 20.3V28.5"/><path stroke="#0f0" d="M0 28V35.8"/><path stroke="#1f0" d="M0 35.3V42.8"/><path stroke="#8f0" d="M0 42.3V55.8"/><path stroke="#1f0" d="M0 55.3V61.9"/><path stroke="#0f0" d="M0 61.4V93"/><path stroke="#0f1" d="M0 92.5V97.4"/><path stroke="#0f4" d="M0 96.9V105.6"/><path stroke="#8f0" d="M0 105.1V109.4"/><path stroke="#09f" d="M0 108.9V112.6"/><path stroke="#304" d="M0 119.4V123.1"/><path stroke="#00f" d="M0 122.6V125.6"/><path stroke="#09f" d="M0 128.5V134.4"/><path stroke="#304" d="M0 133.9V136.9"/><path stroke="#409" d="M0 136.4V140.8"/><path stroke="#304" d="M0 146V150"/></g>
<g transform="translate(184.5 456)" stroke-width="5"><path stroke="#8f0" d="M0 3.9V12.8"/><path stroke="#1f0" d="M0 12.3V20.8"/><path stroke="#0f0" d="M0 20.3V35.8"/><path stroke="#1f0" d="M0 35.3V42.8"/><path stroke="#4f0" d="M0 42.3V49.4"/><path stroke="#0f0" d="M0 48.9V55.8"/><path stroke="#0f8" d="M0 55.3V61.9"/><path stroke="#4f0" d="M0 61.4V67.7"/><path stroke="#0f8" d="M0 67.2V88.4"/><path stroke="#0f1" d="M0 87.9V93"/><path stroke="#0f4" d="M0 92.5V97.4"/><path stroke="#fc0" d="M0 96.9V101.6"/><path stroke="#09f" d="M0 101.1V105.6"/><path stroke="#00f" d="M0 105.1V113.1"/><path stroke="#09f" d="M0 112.6V116.6"/><path stroke="#0ef" d="M0 116.1V119.9"/><path stroke="#00f" d="M0 119.4V123.1"/><path stroke="#30b" d="M0 122.6V126.1"/><path stroke="#409" d="M0 125.6V128.5"/><path stroke="#000" d="M0 131.3V136.9"/><path stroke="#0f0" d="M0 136.4V139.9"/><path stroke="#304" d="M0 146V150"/></g>
<g transform="translate(193.6 456)" stroke-width="5.4"><path stroke="#f80" d="M0 3.9V12.8"/><path stroke="#0f4" d="M0 12.3V20.8"/><path stroke="#0fc" d="M0 20.3V28.5"/><path stroke="#0f0" d="M0 28V35.8"/><path stroke="#0f8" d="M0 35.3V42.8"/><path stroke="#0f0" d="M0 42.3V88.4"/><path stroke="#1f0" d="M0 87.9V93"/><path stroke="#4f0" d="M0 92.5V97.4"/><path stroke="#0bf" d="M0 96.9V101.1"/><path stroke="#409" d="M0 105.1V113.1"/><path stroke="#000" d="M0 112.6V119.9"/><path stroke="#409" d="M0 119.4V123.1"/><path stroke="#10d" d="M0 122.6V126.1"/><path stroke="#09f" d="M0 125.6V133.9"/><path stroke="#20c" d="M0 136.4V139.3"/><path stroke="#304" d="M0 138.8V139.9"/><path stroke="#304" d="M0 146V150"/></g>
<g transform="translate(202.5 456)" stroke-width="5.4"><path stroke="#0f0" d="M0 3.9V12.8"/><path stroke="#0f4" d="M0 12.3V28.5"/><path stroke="#cf0" d="M0 28V35.8"/><path stroke="#0f0" d="M0 35.3V42.8"/><path stroke="#1f0" d="M0 42.3V49.4"/><path stroke="#8f0" d="M0 48.9V55.8"/><path stroke="#1f0" d="M0 55.3V61.9"/><path stroke="#0f0" d="M0 61.4V67.7"/><path stroke="#0f4" d="M0 67.2V73.2"/><path stroke="#0f1" d="M0 72.7V78.5"/><path stroke="#0f0" d="M0 78V88.4"/><path stroke="#0fa" d="M0 87.9V93"/><path stroke="#0fc" d="M0 92.5V97.4"/><path stroke="#0fd" d="M0 96.9V101.6"/><path stroke="#09f" d="M0 101.1V105.6"/><path stroke="#0f8" d="M0 105.1V109.4"/><path stroke="#00f" d="M0 108.9V113.1"/><path stroke="#20d" d="M0 112.6V116.6"/><path stroke="#20c" d="M0 116.1V119.4"/><path stroke="#09f" d="M0 122.6V126.1"/><path stroke="#0fe" d="M0 125.6V129"/><path stroke="#0df" d="M0 128.5V131.8"/><path stroke="#09f" d="M0 131.3V134.4"/><path stroke="#00f" d="M0 133.9V136.9"/><path stroke="#304" d="M0 136.4V139.9"/><path stroke="#304" d="M0 146V150"/></g>
<g transform="translate(211.4 456)" stroke-width="5.4"><path stroke="#0f0" d="M0 3.9V12.8"/><path stroke="#0f1" d="M0 12.3V20.8"/><path stroke="#0f4" d="M0 20.3V67.7"/><path stroke="#0fa" d="M0 67.2V78.5"/><path stroke="#0f8" d="M0 78V83.6"/><path stroke="#0fa" d="M0 83.1V88.4"/><path stroke="#0fc" d="M0 87.9V93"/><path stroke="#0fe" d="M0 92.5V97.4"/><path stroke="#09f" d="M0 96.9V105.6"/><path stroke="#00f" d="M0 105.1V109.4"/><path stroke="#40a" d="M0 108.9V113.1"/><path stroke="#10e" d="M0 112.6V116.6"/><path stroke="#0f0" d="M0 116.1V119.9"/><path stroke="#00f" d="M0 119.4V123.1"/><path stroke="#0f8" d="M0 122.6V126.1"/><path stroke="#00f" d="M0 125.6V129"/><path stroke="#09f" d="M0 128.5V131.8"/><path stroke="#00f" d="M0 131.3V136.9"/><path stroke="#304" d="M0 136.4V139.9"/><path stroke="#304" d="M0 146V148"/></g>
<g transform="translate(220.5 456)" stroke-width="5"><path stroke="#0fc" d="M0 3.9V12.8"/><path stroke="#0f9" d="M0 12.3V20.8"/><path stroke="#0f8" d="M0 20.3V42.8"/><path stroke="#0f5" d="M0 42.3V49.4"/><path stroke="#0f8" d="M0 48.9V73.2"/><path stroke="#0fd" d="M0 72.7V78.5"/><path stroke="#0ef" d="M0 78V83.6"/><path stroke="#0df" d="M0 83.1V88.4"/><path stroke="#0ff" d="M0 87.9V93"/><path stroke="#0df" d="M0 92.5V97.4"/><path stroke="#09f" d="M0 96.9V101.6"/><path stroke="#0bf" d="M0 101.1V113.1"/><path stroke="#409" d="M0 112.6V119.9"/><path stroke="#10d" d="M0 119.4V126.1"/><path stroke="#20c" d="M0 125.6V131.8"/><path stroke="#40a" d="M0 131.3V134.4"/><path stroke="#409" d="M0 133.9V139.9"/><path stroke="#000" d="M0 146V148"/></g>
<g transform="translate(229.1 456)" stroke-width="6.2"><path stroke="#8f0" d="M0 3.9V12.8"/><path stroke="#0ff" d="M0 12.3V20.8"/><path stroke="#0f4" d="M0 20.3V35.8"/><path stroke="#0cf" d="M0 35.3V42.8"/><path stroke="#0ef" d="M0 42.3V49.4"/><path stroke="#0bf" d="M0 48.9V55.8"/><path stroke="#0ef" d="M0 55.3V61.9"/><path stroke="#0ff" d="M0 61.4V67.7"/><path stroke="#0fc" d="M0 67.2V97.4"/><path stroke="#0fd" d="M0 96.9V101.6"/><path stroke="#09f" d="M0 101.1V112.6"/><path stroke="#03f" d="M0 116.1V123.1"/><path stroke="#409" d="M0 122.6V126.1"/><path stroke="#10d" d="M0 125.6V129"/><path stroke="#30b" d="M0 128.5V131.8"/><path stroke="#0f8" d="M0 131.3V134.4"/><path stroke="#409" d="M0 133.9V141.1"/><path stroke="#304" d="M0 146V150"/></g>
<g transform="translate(238.1 456)"><path stroke="#0f0" d="M0 3.9V12.8"/><path stroke="#0fc" d="M0 12.3V20.8"/><path stroke="#0fa" d="M0 20.3V28.5"/><path stroke="#0ff" d="M0 28V35.8"/><path stroke="#0ef" d="M0 35.3V42.8"/><path stroke="#0df" d="M0 42.3V49.4"/><path stroke="#0fc" d="M0 48.9V61.9"/><path stroke="#0df" d="M0 61.4V67.7"/><path stroke="#0fd" d="M0 67.2V73.2"/><path stroke="#0fc" d="M0 72.7V105.6"/><path stroke="#00f" d="M0 105.1V113.1"/><path stroke="#304" d="M0 112.6V116.6"/><path stroke="#409" d="M0 116.1V119.9"/><path stroke="#0ff" d="M0 119.4V123.1"/><path stroke="#20c" d="M0 122.6V136.9"/><path stroke="#304" d="M0 136.4V140.4"/><path stroke="#304" d="M0 149V150"/></g>
<g transform="translate(246.4 456)" stroke-width="4.9"><path stroke="#0fc" d="M0 3.9V12.8"/><path stroke="#0bf" d="M0 12.3V20.8"/><path stroke="#0f4" d="M0 20.3V28.5"/><path stroke="#0f5" d="M0 28V35.8"/><path stroke="#0fc" d="M0 35.3V42.8"/><path stroke="#0fb" d="M0 42.3V49.4"/><path stroke="#0f8" d="M0 48.9V55.8"/><path stroke="#0fb" d="M0 55.3V61.9"/><path stroke="#0fc" d="M0 61.4V101.6"/><path stroke="#0fb" d="M0 101.1V105.6"/><path stroke="#0f8" d="M0 105.1V109.4"/><path stroke="#09f" d="M0 108.9V113.1"/><path stroke="#20c" d="M0 112.6V123.1"/><path stroke="#10e" d="M0 122.6V126.1"/><path stroke="#00f" d="M0 125.6V134.4"/><path stroke="#40a" d="M0 133.9V136.9"/><path stroke="#409" d="M0 136.4V142.6"/><path stroke="#304" d="M0 146V150"/></g>
<g transform="translate(256.1 456)" stroke-width="4.3"><path stroke="#09f" d="M0 3.9V20.8"/><path stroke="#0f0" d="M0 20.3V28.5"/><path stroke="#0f8" d="M0 28V35.8"/><path stroke="#0f0" d="M0 35.3V42.8"/><path stroke="#0fb" d="M0 42.3V49.4"/><path stroke="#0f8" d="M0 48.9V55.8"/><path stroke="#0fb" d="M0 55.3V61.9"/><path stroke="#0fc" d="M0 61.4V67.7"/><path stroke="#0f9" d="M0 67.2V73.2"/><path stroke="#0fb" d="M0 72.7V78.5"/><path stroke="#0fc" d="M0 78V97.4"/><path stroke="#0fd" d="M0 96.9V101.6"/><path stroke="#09f" d="M0 101.1V105.6"/><path stroke="#0f8" d="M0 105.1V109.4"/><path stroke="#09f" d="M0 108.9V113.1"/><path stroke="#0fd" d="M0 112.6V116.6"/><path stroke="#0bf" d="M0 116.1V119.9"/><path stroke="#00f" d="M0 119.4V134.4"/><path stroke="#40a" d="M0 133.9V136.9"/><path stroke="#409" d="M0 136.4V139.3"/><path stroke="#000" d="M0 138.8V141.1"/><path stroke="#304" d="M0 146V150"/></g>
<g transform="translate(264.6 456)" stroke-width="5"><path stroke="#0f0" d="M0 3.9V12.8"/><path stroke="#0f8" d="M0 12.3V20.8"/><path stroke="#0fc" d="M0 20.3V42.8"/><path stroke="#0fb" d="M0 42.3V49.4"/><path stroke="#0f8" d="M0 48.9V55.8"/><path stroke="#0fb" d="M0 55.3V61.9"/><path stroke="#0fc" d="M0 61.4V67.7"/><path stroke="#0fe" d="M0 67.2V73.2"/><path stroke="#0fd" d="M0 72.7V83.6"/><path stroke="#0fe" d="M0 83.1V93"/><path stroke="#0ef" d="M0 92.5V97.4"/><path stroke="#0fc" d="M0 96.9V101.6"/><path stroke="#0fa" d="M0 101.1V105.6"/><path stroke="#0ff" d="M0 105.1V109.4"/><path stroke="#0af" d="M0 108.9V113.1"/><path stroke="#00f" d="M0 112.6V116.6"/><path stroke="#09f" d="M0 116.1V123.1"/><path stroke="#00f" d="M0 122.6V131.8"/><path stroke="#40a" d="M0 131.3V134.4"/><path stroke="#409" d="M0 133.9V139.3"/><path stroke="#000" d="M0 138.8V141.1"/><path stroke="#304" d="M0 146V150"/></g>
<g transform="translate(273.1 456)" stroke-width="4"><path stroke="#0f0" d="M0 3.9V12.8"/><path stroke="#0f4" d="M0 12.3V20.8"/><path stroke="#0f5" d="M0 20.3V28.5"/><path stroke="#0f8" d="M0 28V49.4"/><path stroke="#09f" d="M0 48.9V55.8"/><path stroke="#0fd" d="M0 55.3V61.9"/><path stroke="#0fc" d="M0 61.4V67.7"/><path stroke="#0f9" d="M0 67.2V73.2"/><path stroke="#0fb" d="M0 72.7V78.5"/><path stroke="#0fe" d="M0 78V83.6"/><path stroke="#0ef" d="M0 83.1V88.4"/><path stroke="#0fe" d="M0 87.9V93"/><path stroke="#0ef" d="M0 92.5V97.4"/><path stroke="#0fc" d="M0 96.9V101.6"/><path stroke="#0fd" d="M0 101.1V105.6"/><path stroke="#0bf" d="M0 105.1V113.1"/><path stroke="#00f" d="M0 112.6V119.9"/><path stroke="#09f" d="M0 119.4V126.1"/><path stroke="#00f" d="M0 125.6V134.4"/><path stroke="#20d" d="M0 133.9V136.9"/><path stroke="#20c" d="M0 136.4V139.3"/><path stroke="#000" d="M0 138.8V141.1"/><path stroke="#304" d="M0 146V150"/></g>
<g transform="translate(282.5 456)" stroke-width="5"><path stroke="#0f0" d="M0 3.9V20.8"/><path stroke="#0f8" d="M0 20.3V28.5"/><path stroke="#0f0" d="M0 28V35.8"/><path stroke="#0ff" d="M0 35.3V42.8"/><path stroke="#0f4" d="M0 42.3V49.4"/><path stroke="#0ff" d="M0 48.9V55.8"/><path stroke="#0f4" d="M0 55.3V67.7"/><path stroke="#0ff" d="M0 67.2V78.5"/><path stroke="#0fe" d="M0 78V83.6"/><path stroke="#0fc" d="M0 83.1V88.4"/><path stroke="#0fb" d="M0 87.9V93"/><path stroke="#0f8" d="M0 92.5V97.4"/><path stroke="#0f9" d="M0 96.9V101.6"/><path stroke="#0fc" d="M0 101.1V113.1"/><path stroke="#03f" d="M0 112.6V116.6"/><path stroke="#08f" d="M0 116.1V119.9"/><path stroke="#00f" d="M0 119.4V126.1"/><path stroke="#0ff" d="M0 125.6V129"/><path stroke="#00f" d="M0 128.5V134.4"/><path stroke="#10e" d="M0 133.9V136.9"/><path stroke="#409" d="M0 136.4V141.1"/><path stroke="#304" d="M0 146V150"/></g>
<g transform="translate(291.1 456)" stroke-width="5.7"><path stroke="#f40" d="M0 3.9V12.8"/><path stroke="#0f8" d="M0 12.3V28.5"/><path stroke="#0f0" d="M0 28V35.8"/><path stroke="#0f9" d="M0 35.3V42.8"/><path stroke="#0fc" d="M0 42.3V61.9"/><path stroke="#0fa" d="M0 61.4V67.7"/><path stroke="#0fe" d="M0 67.2V73.2"/><path stroke="#0ff" d="M0 72.7V78.5"/><path stroke="#0fd" d="M0 78V83.6"/><path stroke="#0fa" d="M0 83.1V88.4"/><path stroke="#0fc" d="M0 87.9V93"/><path stroke="#0fe" d="M0 92.5V97.4"/><path stroke="#09f" d="M0 96.9V113.1"/><path stroke="#0ef" d="M0 112.6V116.6"/><path stroke="#03f" d="M0 116.1V119.9"/><path stroke="#01f" d="M0 119.4V123.1"/><path stroke="#00f" d="M0 122.6V131.8"/><path stroke="#10d" d="M0 131.3V134.4"/><path stroke="#20c" d="M0 133.9V139.3"/><path stroke="#409" d="M0 138.8V141.1"/><path stroke="#304" d="M0 146V147.8"/><path stroke="#304" d="M0 148.9V150"/></g>
<g transform="translate(300 456)" stroke-width="5.7"><path stroke="#0f0" d="M0 3.9V12.8"/><path stroke="#0f8" d="M0 12.3V35.8"/><path stroke="#0f9" d="M0 35.3V42.8"/><path stroke="#0fc" d="M0 42.3V67.7"/><path stroke="#0fe" d="M0 67.2V73.2"/><path stroke="#0ff" d="M0 72.7V83.6"/><path stroke="#0df" d="M0 83.1V93"/><path stroke="#0fc" d="M0 92.5V97.4"/><path stroke="#4f0" d="M0 96.9V105.6"/><path stroke="#03f" d="M0 105.1V109.4"/><path stroke="#4f0" d="M0 108.9V113.1"/><path stroke="#20c" d="M0 112.6V116.6"/><path stroke="#09f" d="M0 116.1V123.1"/><path stroke="#0df" d="M0 122.6V126.1"/><path stroke="#0bf" d="M0 125.6V129"/><path stroke="#09f" d="M0 128.5V131.8"/><path stroke="#20c" d="M0 131.3V136.9"/><path stroke="#304" d="M0 136.4V141.1"/><path stroke="#304" d="M0 146V150"/></g>
<g transform="translate(308.9 456)" stroke-width="5.7"><path stroke="#0f4" d="M0 3.9V12.8"/><path stroke="#0f5" d="M0 12.3V20.8"/><path stroke="#0f8" d="M0 20.3V35.8"/><path stroke="#0f9" d="M0 35.3V42.8"/><path stroke="#0fc" d="M0 42.3V55.8"/><path stroke="#0df" d="M0 55.3V61.9"/><path stroke="#0ef" d="M0 61.4V67.7"/><path stroke="#0ff" d="M0 67.2V78.5"/><path stroke="#0df" d="M0 78V83.6"/><path stroke="#09f" d="M0 83.1V88.4"/><path stroke="#0f8" d="M0 87.9V101.6"/><path stroke="#0f4" d="M0 101.1V109.4"/><path stroke="#0ff" d="M0 108.9V113.1"/><path stroke="#409" d="M0 112.6V116.6"/><path stroke="#09f" d="M0 116.1V126.1"/><path stroke="#0df" d="M0 125.6V129"/><path stroke="#20c" d="M0 128.5V136.9"/><path stroke="#000" d="M0 136.4V141.1"/><path stroke="#304" d="M0 146V150"/></g>
<g transform="translate(317.6 456)" stroke-width="5.4"><path stroke="#0f0" d="M0 3.9V12.8"/><path stroke="#4f0" d="M0 12.3V20.8"/><path stroke="#0fe" d="M0 20.3V28.5"/><path stroke="#0fc" d="M0 28V35.8"/><path stroke="#0fb" d="M0 35.3V42.8"/><path stroke="#0f9" d="M0 42.3V49.4"/><path stroke="#0fc" d="M0 48.9V55.8"/><path stroke="#0bf" d="M0 55.3V61.9"/><path stroke="#0ef" d="M0 61.4V67.7"/><path stroke="#0ff" d="M0 67.2V88.4"/><path stroke="#0df" d="M0 87.9V93"/><path stroke="#0bf" d="M0 92.5V97.4"/><path stroke="#0ff" d="M0 96.9V101.6"/><path stroke="#0ef" d="M0 101.1V105.6"/><path stroke="#09f" d="M0 105.1V109.4"/><path stroke="#0bf" d="M0 108.9V113.1"/><path stroke="#00f" d="M0 112.6V129"/><path stroke="#20d" d="M0 128.5V131.8"/><path stroke="#20c" d="M0 131.3V136.9"/><path stroke="#40a" d="M0 136.4V139.3"/><path stroke="#000" d="M0 138.8V141.1"/><path stroke="#304" d="M0 146V150"/></g>
<g transform="translate(326.5 456)" stroke-width="5.4"><path stroke="#cf0" d="M0 3.9V12.8"/><path stroke="#0f0" d="M0 12.3V20.8"/><path stroke="#0ff" d="M0 20.3V61.9"/><path stroke="#0df" d="M0 61.4V67.7"/><path stroke="#0ef" d="M0 67.2V73.2"/><path stroke="#0ff" d="M0 72.7V78.5"/><path stroke="#0ef" d="M0 78V83.6"/><path stroke="#0bf" d="M0 83.1V105.6"/><path stroke="#09f" d="M0 105.1V109.4"/><path stroke="#0f4" d="M0 108.9V113.1"/><path stroke="#00f" d="M0 112.6V119.9"/><path stroke="#10d" d="M0 119.4V123.1"/><path stroke="#10e" d="M0 122.6V126.1"/><path stroke="#00f" d="M0 125.6V134.4"/><path stroke="#10e" d="M0 133.9V136.9"/><path stroke="#409" d="M0 136.4V140.4"/><path stroke="#304" d="M0 146V150"/></g>
<g transform="translate(335.4 456)" stroke-width="5.4"><path stroke="#0f0" d="M0 3.9V28.5"/><path stroke="#0fe" d="M0 28V35.8"/><path stroke="#0f9" d="M0 35.3V42.8"/><path stroke="#0fc" d="M0 42.3V61.9"/><path stroke="#0ef" d="M0 61.4V73.2"/><path stroke="#0ff" d="M0 72.7V78.5"/><path stroke="#0ef" d="M0 78V83.6"/><path stroke="#0bf" d="M0 83.1V88.4"/><path stroke="#0df" d="M0 87.9V97.4"/><path stroke="#09f" d="M0 96.9V101.6"/><path stroke="#08f" d="M0 101.1V105.6"/><path stroke="#03f" d="M0 105.1V113.1"/><path stroke="#10d" d="M0 112.6V116.6"/><path stroke="#40a" d="M0 116.1V119.9"/><path stroke="#10d" d="M0 119.4V123.1"/><path stroke="#0fc" d="M0 122.6V126.1"/><path stroke="#00f" d="M0 125.6V131.8"/><path stroke="#09f" d="M0 131.3V134.4"/><path stroke="#409" d="M0 133.9V140.4"/><path stroke="#304" d="M0 146V148"/></g>
<g transform="translate(344.5 456)" stroke-width="5"><path stroke="#0f0" d="M0 3.9V12.8"/><path stroke="#0f1" d="M0 12.3V20.8"/><path stroke="#0f4" d="M0 20.3V28.5"/><path stroke="#0f0" d="M0 28V35.8"/><path stroke="#0f1" d="M0 35.3V42.8"/><path stroke="#0f4" d="M0 42.3V67.7"/><path stroke="#0f8" d="M0 67.2V78.5"/><path stroke="#0fa" d="M0 78V83.6"/><path stroke="#0fc" d="M0 83.1V88.4"/><path stroke="#0fb" d="M0 87.9V93"/><path stroke="#0f8" d="M0 92.5V105.6"/><path stroke="#4f0" d="M0 105.1V109.4"/><path stroke="#0ff" d="M0 108.9V113.1"/><path stroke="#03f" d="M0 112.6V116.6"/><path stroke="#01f" d="M0 116.1V119.9"/><path stroke="#02f" d="M0 119.4V123.1"/><path stroke="#01f" d="M0 122.6V126.1"/><path stroke="#00f" d="M0 125.6V134.4"/><path stroke="#0bf" d="M0 133.9V136.9"/><path stroke="#409" d="M0 136.4V139.3"/><path stroke="#000" d="M0 138.8V141.1"/><path stroke="#304" d="M0 146V150"/></g>
<g transform="translate(353.1 456)" stroke-width="6.2"><path stroke="#0f0" d="M0 3.9V28.5"/><path stroke="#0f8" d="M0 28V35.8"/><path stroke="#0f4" d="M0 35.3V42.8"/><path stroke="#0f5" d="M0 42.3V49.4"/><path stroke="#0f8" d="M0 48.9V61.9"/><path stroke="#0f0" d="M0 61.4V67.7"/><path stroke="#0f8" d="M0 67.2V93"/><path stroke="#0ef" d="M0 92.5V97.4"/><path stroke="#0fd" d="M0 96.9V101.6"/><path stroke="#0bf" d="M0 101.1V105.6"/><path stroke="#09f" d="M0 105.1V109.4"/><path stroke="#03f" d="M0 108.9V113.1"/><path stroke="#01f" d="M0 112.6V116.6"/><path stroke="#00f" d="M0 116.1V123.1"/><path stroke="#02f" d="M0 122.6V126.1"/><path stroke="#01f" d="M0 125.6V129"/><path stroke="#00f" d="M0 128.5V134.4"/><path stroke="#10d" d="M0 133.9V136.9"/><path stroke="#20c" d="M0 136.4V139.3"/><path stroke="#409" d="M0 138.8V141.1"/><path stroke="#304" d="M0 146V150"/></g>
<g transform="translate(362 456)"><path stroke="#0f0" d="M0 3.9V20.8"/><path stroke="#0f1" d="M0 20.3V28.5"/><path stroke="#0f4" d="M0 28V35.8"/><path stroke="#0f5" d="M0 35.3V42.8"/><path stroke="#0f8" d="M0 42.3V49.4"/><path stroke="#0f0" d="M0 48.9V55.8"/><path stroke="#0f4" d="M0 55.3V67.7"/><path stroke="#0f8" d="M0 67.2V78.5"/><path stroke="#0fb" d="M0 78V83.6"/><path stroke="#0ff" d="M0 83.1V101.6"/><path stroke="#0ef" d="M0 101.1V105.6"/><path stroke="#0bf" d="M0 105.1V113.1"/><path stroke="#20c" d="M0 112.6V116.6"/><path stroke="#00f" d="M0 116.1V119.9"/><path stroke="#09f" d="M0 119.4V123.1"/><path stroke="#00f" d="M0 122.6V134.4"/><path stroke="#40a" d="M0 133.9V136.9"/><path stroke="#000" d="M0 136.4V141.1"/><path stroke="#304" d="M0 146V150"/></g>
<g transform="translate(371 456)" stroke-width="6"><path stroke="#f10" d="M0 3.9V12.8"/><path stroke="#ff0" d="M0 12.3V28.5"/><path stroke="#f40" d="M0 28V35.8"/><path stroke="#ff0" d="M0 35.3V42.8"/><path stroke="#f40" d="M0 42.3V49.4"/><path stroke="#cf0" d="M0 48.9V55.8"/><path stroke="#f40" d="M0 55.3V61.9"/><path stroke="#ff0" d="M0 61.4V67.7"/><path stroke="#fa0" d="M0 67.2V73.2"/><path stroke="#f80" d="M0 72.7V83.6"/><path stroke="#ef0" d="M0 83.1V88.4"/><path stroke="#fc0" d="M0 87.9V93"/><path stroke="#0f0" d="M0 92.5V97.4"/><path stroke="#1f0" d="M0 96.9V101.6"/><path stroke="#4f0" d="M0 101.1V105.6"/><path stroke="#f40" d="M0 105.1V109.4"/><path stroke="#0ff" d="M0 108.9V113.1"/><path stroke="#fc0" d="M0 112.6V116.6"/><path stroke="#0f0" d="M0 116.1V128.5"/><path stroke="#09f" d="M0 131.3V136.9"/><path stroke="#0f4" d="M0 136.4V139.3"/><path stroke="#000" d="M0 138.8V139.9"/><path stroke="#304" d="M0 146V150"/></g>
<g transform="translate(379.7 456)" stroke-width="5"><path stroke="#8f0" d="M0 3.9V20.8"/><path stroke="#6f0" d="M0 20.3V28.5"/><path stroke="#bf0" d="M0 28V35.8"/><path stroke="#8f0" d="M0 35.3V42.8"/><path stroke="#4f0" d="M0 42.3V49.4"/><path stroke="#ff0" d="M0 48.9V55.8"/><path stroke="#af0" d="M0 55.3V61.9"/><path stroke="#8f0" d="M0 61.4V67.7"/><path stroke="#1f0" d="M0 67.2V73.2"/><path stroke="#3f0" d="M0 72.7V78.5"/><path stroke="#4f0" d="M0 78V83.6"/><path stroke="#3f0" d="M0 83.1V88.4"/><path stroke="#1f0" d="M0 87.9V93"/><path stroke="#4f0" d="M0 92.5V97.4"/><path stroke="#0f8" d="M0 96.9V105.6"/><path stroke="#8f0" d="M0 105.1V109.4"/><path stroke="#0f4" d="M0 108.9V113.1"/><path stroke="#00f" d="M0 112.6V126.1"/><path stroke="#09f" d="M0 125.6V131.8"/><path stroke="#0ef" d="M0 131.3V134.4"/><path stroke="#0ff" d="M0 133.9V136.9"/><path stroke="#409" d="M0 136.4V139.3"/><path stroke="#20c" d="M0 138.8V142.6"/><path stroke="#304" d="M0 146V148"/></g>
<g transform="translate(388.6 456)" stroke-width="5"><path stroke="#0f0" d="M0 3.9V12.8"/><path stroke="#6f0" d="M0 12.3V20.8"/><path stroke="#1f0" d="M0 20.3V28.5"/><path stroke="#4f0" d="M0 28V35.8"/><path stroke="#0f0" d="M0 35.3V73.2"/><path stroke="#0f3" d="M0 72.7V83.6"/><path stroke="#0f0" d="M0 83.1V88.4"/><path stroke="#0f1" d="M0 87.9V93"/><path stroke="#0f4" d="M0 92.5V97.4"/><path stroke="#4f0" d="M0 96.9V101.6"/><path stroke="#09f" d="M0 101.1V105.6"/><path stroke="#00f" d="M0 105.1V113.1"/><path stroke="#20d" d="M0 112.6V116.6"/><path stroke="#20c" d="M0 116.1V119.9"/><path stroke="#09f" d="M0 119.4V129"/><path stroke="#00f" d="M0 128.5V131.8"/><path stroke="#0fc" d="M0 131.3V134.4"/><path stroke="#409" d="M0 133.9V136.9"/><path stroke="#09f" d="M0 136.4V139.3"/><path stroke="#304" d="M0 138.8V141.1"/><path stroke="#304" d="M0 146V150"/></g>
<g transform="translate(397.5 456)" stroke-width="4.7"><path stroke="#4f0" d="M0 3.9V12.8"/><path stroke="#0f8" d="M0 12.3V20.8"/><path stroke="#0fa" d="M0 20.3V28.5"/><path stroke="#0fe" d="M0 28V35.8"/><path stroke="#0f9" d="M0 35.3V42.8"/><path stroke="#0fc" d="M0 42.3V55.8"/><path stroke="#0df" d="M0 55.3V61.9"/><path stroke="#0bf" d="M0 61.4V67.7"/><path stroke="#0ef" d="M0 67.2V73.2"/><path stroke="#0df" d="M0 72.7V83.6"/><path stroke="#0ff" d="M0 83.1V88.4"/><path stroke="#0fe" d="M0 87.9V93"/><path stroke="#0fc" d="M0 92.5V97.4"/><path stroke="#0fd" d="M0 96.9V101.6"/><path stroke="#09f" d="M0 101.1V105.6"/><path stroke="#03f" d="M0 105.1V113.1"/><path stroke="#10d" d="M0 112.6V116.6"/><path stroke="#20c" d="M0 116.1V119.9"/><path stroke="#00f" d="M0 119.4V131.8"/><path stroke="#10d" d="M0 131.3V134.4"/><path stroke="#20c" d="M0 133.9V140.4"/><path stroke="#304" d="M0 146V150"/></g>
<g transform="translate(406.5 456)" stroke-width="5"><path stroke="#0f0" d="M0 3.9V12.8"/><path stroke="#0f4" d="M0 12.3V20.8"/><path stroke="#0f5" d="M0 20.3V28.5"/><path stroke="#0f8" d="M0 28V35.8"/><path stroke="#0fa" d="M0 35.3V42.8"/><path stroke="#0ff" d="M0 42.3V55.8"/><path stroke="#0fc" d="M0 55.3V93"/><path stroke="#0fe" d="M0 92.5V97.4"/><path stroke="#0bf" d="M0 96.9V101.6"/><path stroke="#09f" d="M0 101.1V105.6"/><path stroke="#02f" d="M0 105.1V109.4"/><path stroke="#20c" d="M0 108.9V113.1"/><path stroke="#09f" d="M0 112.6V119.9"/><path stroke="#00f" d="M0 119.4V123.1"/><path stroke="#0f4" d="M0 122.6V126.1"/><path stroke="#09f" d="M0 125.6V129"/><path stroke="#00f" d="M0 128.5V134.4"/><path stroke="#10e" d="M0 133.9V136.9"/><path stroke="#409" d="M0 136.4V141.1"/><path stroke="#304" d="M0 146V150"/></g>
<g transform="translate(415.4 456)" stroke-width="5"><path stroke="#0f0" d="M0 3.9V28.5"/><path stroke="#0f8" d="M0 28V55.8"/><path stroke="#0fb" d="M0 55.3V61.9"/><path stroke="#0fc" d="M0 61.4V67.7"/><path stroke="#0df" d="M0 67.2V73.2"/><path stroke="#0ef" d="M0 72.7V78.5"/><path stroke="#0ff" d="M0 78V83.6"/><path stroke="#0ef" d="M0 83.1V88.4"/><path stroke="#0bf" d="M0 87.9V97.4"/><path stroke="#09f" d="M0 96.9V105.6"/><path stroke="#0bf" d="M0 105.1V113.1"/><path stroke="#00f" d="M0 112.6V123.1"/><path stroke="#02f" d="M0 122.6V126.1"/><path stroke="#03f" d="M0 125.6V134.4"/><path stroke="#0ff" d="M0 133.9V136.9"/><path stroke="#20c" d="M0 136.4V139.9"/><path stroke="#304" d="M0 146V148"/></g>
<g transform="translate(423.6 456)" stroke-width="5"><path stroke="#ff0" d="M0 3.9V12.8"/><path stroke="#0f0" d="M0 12.3V28.5"/><path stroke="#0f8" d="M0 28V42.8"/><path stroke="#0f4" d="M0 42.3V55.8"/><path stroke="#0ff" d="M0 55.3V61.9"/><path stroke="#0f4" d="M0 61.4V67.7"/><path stroke="#0fa" d="M0 67.2V73.2"/><path stroke="#0fc" d="M0 72.7V83.6"/><path stroke="#0f9" d="M0 83.1V88.4"/><path stroke="#0f7" d="M0 87.9V93"/><path stroke="#0fe" d="M0 92.5V97.4"/><path stroke="#0bf" d="M0 96.9V113.1"/><path stroke="#00f" d="M0 112.6V126.1"/><path stroke="#0ff" d="M0 125.6V134.4"/><path stroke="#00f" d="M0 133.9V139.3"/><path stroke="#304" d="M0 138.8V141.1"/><path stroke="#304" d="M0 146V150"/></g>
<g transform="translate(432.9 456)" stroke-width="5.7"><path stroke="#f10" d="M0 3.9V12.8"/><path stroke="#4f0" d="M0 12.3V28.5"/><path stroke="#f80" d="M0 28V35.8"/><path stroke="#4f0" d="M0 35.3V42.8"/><path stroke="#0f0" d="M0 42.3V55.8"/><path stroke="#7f0" d="M0 55.3V61.9"/><path stroke="#1f0" d="M0 61.4V67.7"/><path stroke="#0f0" d="M0 67.2V101.6"/><path stroke="#1f0" d="M0 101.1V105.6"/><path stroke="#4f0" d="M0 105.1V109.4"/><path stroke="#0f8" d="M0 108.9V113.1"/><path stroke="#09f" d="M0 112.6V116.6"/><path stroke="#0fd" d="M0 116.1V119.9"/><path stroke="#0fc" d="M0 119.4V129"/><path stroke="#0f0" d="M0 128.5V131.3"/><path stroke="#00f" d="M0 133.9V136.9"/><path stroke="#0f0" d="M0 136.4V139.3"/><path stroke="#409" d="M0 138.8V141.1"/><path stroke="#304" d="M0 146V150"/></g>
<g transform="translate(441.6 456)" stroke-width="5.4"><path stroke="#0f0" d="M0 3.9V12.8"/><path stroke="#6f0" d="M0 12.3V20.8"/><path stroke="#4f0" d="M0 20.3V35.8"/><path stroke="#0f0" d="M0 35.3V42.8"/><path stroke="#1f0" d="M0 42.3V49.4"/><path stroke="#4f0" d="M0 48.9V55.8"/><path stroke="#1f0" d="M0 55.3V61.9"/><path stroke="#0f8" d="M0 61.4V73.2"/><path stroke="#0f0" d="M0 72.7V93"/><path stroke="#0f8" d="M0 92.5V101.6"/><path stroke="#0f0" d="M0 101.1V109.4"/><path stroke="#0fc" d="M0 108.9V113.1"/><path stroke="#00f" d="M0 112.6V116.6"/><path stroke="#09f" d="M0 116.1V119.9"/><path stroke="#00f" d="M0 119.4V126.1"/><path stroke="#0fc" d="M0 125.6V129"/><path stroke="#00f" d="M0 128.5V136.9"/><path stroke="#30b" d="M0 136.4V139.3"/><path stroke="#000" d="M0 138.8V142.6"/><path stroke="#304" d="M0 146V147.8"/><path stroke="#304" d="M0 148.9V150"/></g>
<g transform="translate(450.5 456)" stroke-width="5.4"><path stroke="#0f0" d="M0 3.9V12.8"/><path stroke="#0f8" d="M0 12.3V20.8"/><path stroke="#7f0" d="M0 20.3V28.5"/><path stroke="#0f0" d="M0 28V61.9"/><path stroke="#0fc" d="M0 61.4V67.7"/><path stroke="#0f9" d="M0 67.2V73.2"/><path stroke="#0fb" d="M0 72.7V78.5"/><path stroke="#0fc" d="M0 78V83.6"/><path stroke="#0f9" d="M0 83.1V88.4"/><path stroke="#0f4" d="M0 87.9V93"/><path stroke="#0ff" d="M0 92.5V97.4"/><path stroke="#0fe" d="M0 96.9V101.6"/><path stroke="#0f8" d="M0 101.1V105.6"/><path stroke="#0f0" d="M0 105.1V109.4"/><path stroke="#03f" d="M0 108.9V116.6"/><path stroke="#08f" d="M0 116.1V119.9"/><path stroke="#00f" d="M0 119.4V126.1"/><path stroke="#0ff" d="M0 125.6V129"/><path stroke="#409" d="M0 128.5V136.9"/><path stroke="#000" d="M0 136.4V138"/><path stroke="#304" d="M0 146V150"/></g>
<g transform="translate(459.4 456)" stroke-width="5.4"><path stroke="#0f0" d="M0 3.9V12.8"/><path stroke="#0f8" d="M0 12.3V20.8"/><path stroke="#0f9" d="M0 20.3V28.5"/><path stroke="#0fa" d="M0 28V35.8"/><path stroke="#0f4" d="M0 35.3V42.8"/><path stroke="#0f0" d="M0 42.3V49.4"/><path stroke="#0fc" d="M0 48.9V55.8"/><path stroke="#0f5" d="M0 55.3V61.9"/><path stroke="#0f4" d="M0 61.4V67.7"/><path stroke="#0f8" d="M0 67.2V88.4"/><path stroke="#0bf" d="M0 87.9V93"/><path stroke="#0f8" d="M0 92.5V97.4"/><path stroke="#0bf" d="M0 96.9V101.6"/><path stroke="#0cf" d="M0 101.1V105.6"/><path stroke="#0ff" d="M0 105.1V109.4"/><path stroke="#00f" d="M0 108.9V123.1"/><path stroke="#0fc" d="M0 122.6V126.1"/><path stroke="#0bf" d="M0 125.6V129"/><path stroke="#09f" d="M0 128.5V131.8"/><path stroke="#0f0" d="M0 131.3V134.4"/><path stroke="#09f" d="M0 133.9V136.9"/><path stroke="#409" d="M0 136.4V139.9"/><path stroke="#304" d="M0 146V148"/></g>
<g transform="translate(468.5 456)" stroke-width="5"><path stroke="#0f8" d="M0 3.9V20.8"/><path stroke="#0f0" d="M0 20.3V28.5"/><path stroke="#0fc" d="M0 28V42.8"/><path stroke="#0fb" d="M0 42.3V49.4"/><path stroke="#0f8" d="M0 48.9V55.8"/><path stroke="#0fb" d="M0 55.3V61.9"/><path stroke="#0fc" d="M0 61.4V78.5"/><path stroke="#0fb" d="M0 78V83.6"/><path stroke="#0fa" d="M0 83.1V88.4"/><path stroke="#0fe" d="M0 87.9V93"/><path stroke="#0bf" d="M0 92.5V97.4"/><path stroke="#0cf" d="M0 96.9V101.6"/><path stroke="#0ff" d="M0 101.1V109.4"/><path stroke="#00f" d="M0 108.9V126.1"/><path stroke="#10d" d="M0 125.6V129"/><path stroke="#20c" d="M0 128.5V136.9"/><path stroke="#409" d="M0 136.4V139.3"/><path stroke="#305" d="M0 138.8V141.1"/><path stroke="#304" d="M0 146V150"/></g>
<g transform="translate(477.5 456)"><path stroke="#f40" d="M0 3.9V12.8"/><path stroke="#0f0" d="M0 12.3V20.8"/><path stroke="#0f1" d="M0 20.3V28.5"/><path stroke="#0f4" d="M0 28V42.8"/><path stroke="#0f5" d="M0 42.3V49.4"/><path stroke="#0f8" d="M0 48.9V61.9"/><path stroke="#0fb" d="M0 61.4V67.7"/><path stroke="#0f9" d="M0 67.2V73.2"/><path stroke="#0f8" d="M0 72.7V105.6"/><path stroke="#04f" d="M0 105.1V109.4"/><path stroke="#09f" d="M0 108.9V113.1"/><path stroke="#00f" d="M0 112.6V119.9"/><path stroke="#09f" d="M0 119.4V136.9"/><path stroke="#20c" d="M0 136.4V139.3"/><path stroke="#40a" d="M0 138.8V141.1"/><path stroke="#000" d="M0 146V148.5"/><path stroke="#304" d="M0 148V150"/></g>
<g transform="translate(486 456)"><path stroke="#0ff" d="M0 3.9V12.8"/><path stroke="#0f4" d="M0 12.3V20.8"/><path stroke="#0fc" d="M0 20.3V28.5"/><path stroke="#0f0" d="M0 28V35.8"/><path stroke="#0f8" d="M0 35.3V49.4"/><path stroke="#4f0" d="M0 48.9V55.8"/><path stroke="#1f0" d="M0 55.3V61.9"/><path stroke="#0f0" d="M0 61.4V83.6"/><path stroke="#0f1" d="M0 83.1V88.4"/><path stroke="#0f4" d="M0 87.9V93"/><path stroke="#0f6" d="M0 92.5V97.4"/><path stroke="#0f8" d="M0 96.9V105.6"/><path stroke="#04f" d="M0 105.1V109.4"/><path stroke="#09f" d="M0 108.9V116.6"/><path stroke="#0bf" d="M0 116.1V119.9"/><path stroke="#0f0" d="M0 119.4V123.1"/><path stroke="#00f" d="M0 122.6V126.1"/><path stroke="#0ff" d="M0 125.6V129"/><path stroke="#00f" d="M0 128.5V134.4"/><path stroke="#40a" d="M0 133.9V139.3"/><path stroke="#00f" d="M0 138.8V139.9"/><path stroke="#304" d="M0 146V150"/></g>
<g transform="translate(495 456)" stroke-width="6"><path stroke="#f10" d="M0 3.9V12.8"/><path stroke="#0f0" d="M0 12.3V20.8"/><path stroke="#4f0" d="M0 20.3V28.5"/><path stroke="#0f4" d="M0 28V42.8"/><path stroke="#0f0" d="M0 42.3V101.6"/><path stroke="#0f8" d="M0 101.1V109.4"/><path stroke="#0f0" d="M0 108.9V113.1"/><path stroke="#09f" d="M0 112.6V116.6"/><path stroke="#0ef" d="M0 116.1V119.9"/><path stroke="#8f0" d="M0 119.4V123.1"/><path stroke="#00f" d="M0 122.6V129"/><path stroke="#0ff" d="M0 128.5V131.8"/><path stroke="#409" d="M0 131.3V134.4"/><path stroke="#0bf" d="M0 133.9V136.9"/><path stroke="#409" d="M0 136.4V139.3"/><path stroke="#000" d="M0 138.8V139.9"/><path stroke="#304" d="M0 146V150"/></g>
<g transform="translate(503.7 456)" stroke-width="5"><path stroke="#f10" d="M0 3.9V20.8"/><path stroke="#0f0" d="M0 20.3V49.4"/><path stroke="#cf0" d="M0 48.9V55.8"/><path stroke="#0f0" d="M0 55.3V73.2"/><path stroke="#ff0" d="M0 72.7V78.5"/><path stroke="#0f4" d="M0 78V105.6"/><path stroke="#0f0" d="M0 105.1V113.1"/><path stroke="#09f" d="M0 112.6V116.6"/><path stroke="#0f0" d="M0 116.1V119.9"/><path stroke="#0bf" d="M0 119.4V126.1"/><path stroke="#0f0" d="M0 125.6V129"/><path stroke="#00f" d="M0 128.5V131.8"/><path stroke="#09f" d="M0 131.3V136.9"/><path stroke="#409" d="M0 136.4V139.3"/><path stroke="#000" d="M0 138.8V139.9"/><path stroke="#304" d="M0 146V150"/></g>
<g transform="translate(512.6 456)" stroke-width="5"><path stroke="#0f8" d="M0 3.9V12.8"/><path stroke="#cf0" d="M0 12.3V20.8"/><path stroke="#0fa" d="M0 20.3V28.5"/><path stroke="#0fe" d="M0 28V35.8"/><path stroke="#0fa" d="M0 35.3V42.8"/><path stroke="#0fe" d="M0 42.3V49.4"/><path stroke="#0fc" d="M0 48.9V61.9"/><path stroke="#0fe" d="M0 61.4V67.7"/><path stroke="#0fc" d="M0 67.2V73.2"/><path stroke="#0ef" d="M0 72.7V83.6"/><path stroke="#0fc" d="M0 83.1V105.6"/><path stroke="#0ff" d="M0 105.1V113.1"/><path stroke="#0af" d="M0 112.6V116.6"/><path stroke="#00f" d="M0 116.1V129"/><path stroke="#0ff" d="M0 128.5V131.8"/><path stroke="#304" d="M0 131.3V136.9"/><path stroke="#101" d="M0 136.4V139.3"/><path stroke="#000" d="M0 138.8V139.9"/><path stroke="#304" d="M0 146V148"/></g>
<g transform="translate(521.5 456)" stroke-width="4.7"><path stroke="#cf0" d="M0 3.9V12.8"/><path stroke="#fc0" d="M0 12.3V20.8"/><path stroke="#4f0" d="M0 20.3V28.5"/><path stroke="#f40" d="M0 28V35.8"/><path stroke="#4f0" d="M0 35.3V42.8"/><path stroke="#fc0" d="M0 42.3V49.4"/><path stroke="#4f0" d="M0 48.9V55.8"/><path stroke="#1f0" d="M0 55.3V61.9"/><path stroke="#7f0" d="M0 61.4V67.7"/><path stroke="#8f0" d="M0 67.2V73.2"/><path stroke="#6f0" d="M0 72.7V78.5"/><path stroke="#4f0" d="M0 78V97.4"/><path stroke="#5f0" d="M0 96.9V101.6"/><path stroke="#8f0" d="M0 101.1V105.6"/><path stroke="#f40" d="M0 105.1V109.4"/><path stroke="#0f0" d="M0 108.9V113.1"/><path stroke="#0f8" d="M0 112.6V116.6"/><path stroke="#8f0" d="M0 116.1V119.9"/><path stroke="#3f0" d="M0 119.4V123.1"/><path stroke="#09f" d="M0 122.6V126.1"/><path stroke="#409" d="M0 125.6V129"/><path stroke="#f80" d="M0 128.5V131.8"/><path stroke="#409" d="M0 131.3V138.8"/><path stroke="#304" d="M0 146V150"/></g>
<g transform="translate(530.5 456)" stroke-width="5"><path stroke="#4f0" d="M0 3.9V12.8"/><path stroke="#0f8" d="M0 12.3V20.8"/><path stroke="#4f0" d="M0 20.3V28.5"/><path stroke="#0f0" d="M0 28V35.8"/><path stroke="#0fb" d="M0 35.3V42.8"/><path stroke="#0f8" d="M0 42.3V55.8"/><path stroke="#0fb" d="M0 55.3V61.9"/><path stroke="#0f9" d="M0 61.4V67.7"/><path stroke="#0fe" d="M0 67.2V73.2"/><path stroke="#0fb" d="M0 72.7V78.5"/><path stroke="#0f8" d="M0 78V88.4"/><path stroke="#0f0" d="M0 87.9V93"/><path stroke="#0f8" d="M0 92.5V97.4"/><path stroke="#0fa" d="M0 96.9V101.6"/><path stroke="#0ff" d="M0 101.1V105.6"/><path stroke="#0ef" d="M0 105.1V109.4"/><path stroke="#09f" d="M0 108.9V113.1"/><path stroke="#04f" d="M0 112.6V116.6"/><path stroke="#01f" d="M0 116.1V119.9"/><path stroke="#00f" d="M0 119.4V123.1"/><path stroke="#10d" d="M0 122.6V126.1"/><path stroke="#20c" d="M0 125.6V134.4"/><path stroke="#0ff" d="M0 133.9V136.9"/><path stroke="#00f" d="M0 136.4V140.4"/><path stroke="#304" d="M0 146V150"/></g>
<g transform="translate(539.4 456)" stroke-width="5"><path stroke="#fc0" d="M0 3.9V12.8"/><path stroke="#0f0" d="M0 12.3V35.8"/><path stroke="#0f8" d="M0 35.3V61.9"/><path stroke="#4f0" d="M0 61.4V67.7"/><path stroke="#0f8" d="M0 67.2V73.2"/><path stroke="#0fb" d="M0 72.7V83.6"/><path stroke="#0f8" d="M0 83.1V88.4"/><path stroke="#0f0" d="M0 87.9V93"/><path stroke="#0f8" d="M0 92.5V105.6"/><path stroke="#0f0" d="M0 105.1V109.4"/><path stroke="#09f" d="M0 108.9V113.1"/><path stroke="#00f" d="M0 112.6V116.6"/><path stroke="#03f" d="M0 116.1V119.9"/><path stroke="#409" d="M0 119.4V126.1"/><path stroke="#0f4" d="M0 125.6V129"/><path stroke="#20c" d="M0 128.5V133.9"/><path stroke="#000" d="M0 138.8V140.4"/><path stroke="#304" d="M0 146V148"/></g>
<g transform="translate(548 456)" stroke-width="5.7"><path stroke="#4f0" d="M0 3.9V12.8"/><path stroke="#f10" d="M0 12.3V20.8"/><path stroke="#ff0" d="M0 20.3V28.5"/><path stroke="#4f0" d="M0 28V35.8"/><path stroke="#ef0" d="M0 35.3V42.8"/><path stroke="#7f0" d="M0 42.3V49.4"/><path stroke="#0f0" d="M0 48.9V88.4"/><path stroke="#3f0" d="M0 87.9V93"/><path stroke="#8f0" d="M0 92.5V97.4"/><path stroke="#0f4" d="M0 96.9V105.6"/><path stroke="#09f" d="M0 105.1V113.1"/><path stroke="#0f8" d="M0 112.6V116.6"/><path stroke="#0f0" d="M0 116.1V119.4"/><path stroke="#0ff" d="M0 122.6V126.1"/><path stroke="#000" d="M0 125.6V131.8"/><path stroke="#0bf" d="M0 131.3V134.4"/><path stroke="#000" d="M0 133.9V136.4"/><path stroke="#409" d="M0 138.8V139.9"/><path stroke="#000" d="M0 146V148.5"/><path stroke="#304" d="M0 148V150"/></g>
<g transform="translate(556.9 456)" stroke-width="5.7"><path stroke="#8f0" d="M0 3.9V12.8"/><path stroke="#f10" d="M0 12.3V20.8"/><path stroke="#8f0" d="M0 20.3V28.5"/><path stroke="#f10" d="M0 28V35.8"/><path stroke="#4f0" d="M0 35.3V42.8"/><path stroke="#0f0" d="M0 42.3V55.8"/><path stroke="#cf0" d="M0 55.3V61.9"/><path stroke="#0f0" d="M0 61.4V93"/><path stroke="#09f" d="M0 92.5V97.4"/><path stroke="#0f0" d="M0 96.9V101.6"/><path stroke="#f40" d="M0 101.1V105.6"/><path stroke="#0f0" d="M0 105.1V116.6"/><path stroke="#09f" d="M0 116.1V119.9"/><path stroke="#0f8" d="M0 119.4V126.1"/><path stroke="#8f0" d="M0 125.6V129"/><path stroke="#0fc" d="M0 128.5V136.4"/><path stroke="#409" d="M0 138.8V139.9"/><path stroke="#304" d="M0 146V147.1"/></g>
<g transform="translate(565.8 456)" stroke-width="5.7"><path stroke="#4f0" d="M0 3.9V12.8"/><path stroke="#f80" d="M0 12.3V20.8"/><path stroke="#0f8" d="M0 20.3V28.5"/><path stroke="#0f0" d="M0 28V35.8"/><path stroke="#0fb" d="M0 35.3V42.8"/><path stroke="#0f8" d="M0 42.3V55.8"/><path stroke="#0fe" d="M0 55.3V61.9"/><path stroke="#0f4" d="M0 61.4V73.2"/><path stroke="#0f9" d="M0 72.7V78.5"/><path stroke="#0fb" d="M0 78V83.6"/><path stroke="#0f8" d="M0 83.1V93"/><path stroke="#0fb" d="M0 92.5V97.4"/><path stroke="#0fe" d="M0 96.9V101.6"/><path stroke="#0fd" d="M0 101.1V105.6"/><path stroke="#0af" d="M0 105.1V109.4"/><path stroke="#0ff" d="M0 108.9V113.1"/><path stroke="#0af" d="M0 112.6V116.6"/><path stroke="#0bf" d="M0 116.1V126.1"/><path stroke="#0ef" d="M0 125.6V129"/><path stroke="#0f4" d="M0 128.5V131.8"/><path stroke="#00f" d="M0 131.3V134.4"/><path stroke="#10e" d="M0 133.9V136.9"/><path stroke="#0ff" d="M0 136.4V139.3"/><path stroke="#000" d="M0 138.8V139.9"/><path stroke="#304" d="M0 146V150"/></g>
<g transform="translate(574.5 456)" stroke-width="5.4"><path stroke="#4f0" d="M0 3.9V12.8"/><path stroke="#0f8" d="M0 12.3V20.8"/><path stroke="#0f0" d="M0 20.3V28.5"/><path stroke="#0fb" d="M0 28V35.8"/><path stroke="#0f8" d="M0 35.3V55.8"/><path stroke="#0fe" d="M0 55.3V61.9"/><path stroke="#0fa" d="M0 61.4V67.7"/><path stroke="#0f8" d="M0 67.2V83.6"/><path stroke="#09f" d="M0 83.1V88.4"/><path stroke="#0fb" d="M0 87.9V93"/><path stroke="#0ff" d="M0 92.5V97.4"/><path stroke="#0ef" d="M0 96.9V101.6"/><path stroke="#08f" d="M0 101.1V105.6"/><path stroke="#03f" d="M0 105.1V109.4"/><path stroke="#00f" d="M0 108.9V116.6"/><path stroke="#09f" d="M0 116.1V119.9"/><path stroke="#00f" d="M0 119.4V123.1"/><path stroke="#0bf" d="M0 122.6V133.9"/><path stroke="#409" d="M0 136.4V139.3"/><path stroke="#20c" d="M0 138.8V141.1"/><path stroke="#304" d="M0 146V150"/></g>
<g transform="translate(583.4 456)" stroke-width="5.4"><path stroke="#0f8" d="M0 3.9V20.8"/><path stroke="#0bf" d="M0 20.3V28.5"/><path stroke="#f80" d="M0 28V35.8"/><path stroke="#0ff" d="M0 35.3V42.8"/><path stroke="#4f0" d="M0 42.3V49.4"/><path stroke="#0f4" d="M0 48.9V67.7"/><path stroke="#0ff" d="M0 67.2V73.2"/><path stroke="#0fb" d="M0 72.7V78.5"/><path stroke="#0f8" d="M0 78V88.4"/><path stroke="#0fb" d="M0 87.9V93"/><path stroke="#0fd" d="M0 92.5V97.4"/><path stroke="#0f8" d="M0 96.9V101.6"/><path stroke="#09f" d="M0 101.1V113.1"/><path stroke="#0ef" d="M0 112.6V116.6"/><path stroke="#0af" d="M0 116.1V119.9"/><path stroke="#09f" d="M0 119.4V129"/><path stroke="#0ef" d="M0 128.5V131.8"/><path stroke="#20c" d="M0 131.3V136.9"/><path stroke="#000" d="M0 136.4V141.1"/><path stroke="#304" d="M0 149V150"/></g>
<g transform="translate(592.5 456)" stroke-width="5"><path stroke="#cf0" d="M0 3.9V12.8"/><path stroke="#0f0" d="M0 12.3V35.8"/><path stroke="#1f0" d="M0 35.3V42.8"/><path stroke="#4f0" d="M0 42.3V55.8"/><path stroke="#1f0" d="M0 55.3V61.9"/><path stroke="#0f0" d="M0 61.4V83.6"/><path stroke="#0f1" d="M0 83.1V88.4"/><path stroke="#0f6" d="M0 87.9V93"/><path stroke="#0f8" d="M0 92.5V97.4"/><path stroke="#0fa" d="M0 96.9V101.6"/><path stroke="#0fe" d="M0 101.1V105.6"/><path stroke="#0fc" d="M0 105.1V113.1"/><path stroke="#0bf" d="M0 112.6V116.6"/><path stroke="#00f" d="M0 116.1V119.9"/><path stroke="#0fc" d="M0 119.4V123.1"/><path stroke="#20c" d="M0 122.6V129"/><path stroke="#0ff" d="M0 128.5V134.4"/><path stroke="#409" d="M0 133.9V136.9"/><path stroke="#000" d="M0 136.4V139.9"/><path stroke="#304" d="M0 146V150"/></g>
<g transform="translate(601.5 456)"><path stroke="#0fc" d="M0 3.9V12.8"/><path stroke="#0fa" d="M0 12.3V20.8"/><path stroke="#0fb" d="M0 20.3V28.5"/><path stroke="#0f8" d="M0 28V67.7"/><path stroke="#0fb" d="M0 67.2V73.2"/><path stroke="#0fa" d="M0 72.7V78.5"/><path stroke="#0f8" d="M0 78V83.6"/><path stroke="#0fa" d="M0 83.1V88.4"/><path stroke="#0fb" d="M0 87.9V93"/><path stroke="#0f8" d="M0 92.5V101.6"/><path stroke="#0f9" d="M0 101.1V105.6"/><path stroke="#0fc" d="M0 105.1V113.1"/><path stroke="#0bf" d="M0 112.6V116.6"/><path stroke="#00f" d="M0 116.1V138"/><path stroke="#304" d="M0 146V150"/></g>
<g transform="translate(610.6 456)" stroke-width="5"><path stroke="#ff0" d="M0 3.9V12.8"/><path stroke="#4f0" d="M0 12.3V20.8"/><path stroke="#0f0" d="M0 20.3V49.4"/><path stroke="#0ff" d="M0 48.9V55.8"/><path stroke="#0f0" d="M0 55.3V88.4"/><path stroke="#0f1" d="M0 87.9V93"/><path stroke="#0f3" d="M0 92.5V97.4"/><path stroke="#0f0" d="M0 96.9V105.6"/><path stroke="#0fc" d="M0 105.1V113.1"/><path stroke="#0bf" d="M0 112.6V116.6"/><path stroke="#00f" d="M0 116.1V128.5"/><path stroke="#409" d="M0 131.3V139.9"/><path stroke="#304" d="M0 146V150"/></g>
<g transform="translate(619 456)" stroke-width="6"><path stroke="#ff0" d="M0 3.9V12.8"/><path stroke="#8f0" d="M0 12.3V20.8"/><path stroke="#f80" d="M0 20.3V28.5"/><path stroke="#0f0" d="M0 28V35.8"/><path stroke="#fc0" d="M0 35.3V42.8"/><path stroke="#ff0" d="M0 42.3V55.8"/><path stroke="#af0" d="M0 55.3V61.9"/><path stroke="#5f0" d="M0 61.4V67.7"/><path stroke="#4f0" d="M0 67.2V73.2"/><path stroke="#9f0" d="M0 72.7V78.5"/><path stroke="#af0" d="M0 78V83.6"/><path stroke="#6f0" d="M0 83.1V88.4"/><path stroke="#0f0" d="M0 87.9V97.4"/><path stroke="#00f" d="M0 96.9V101.6"/><path stroke="#09f" d="M0 101.1V105.6"/><path stroke="#8f0" d="M0 105.1V109.4"/><path stroke="#00f" d="M0 108.9V116.6"/><path stroke="#f10" d="M0 116.1V119.9"/><path stroke="#0f8" d="M0 119.4V123.1"/><path stroke="#00f" d="M0 122.6V126.1"/><path stroke="#0f0" d="M0 125.6V129"/><path stroke="#000" d="M0 128.5V133.9"/><path stroke="#409" d="M0 136.4V142.6"/><path stroke="#304" d="M0 146V150"/></g>
<g transform="translate(628.1 456)" stroke-width="5.7"><path stroke="#0f0" d="M0 3.9V12.8"/><path stroke="#4f0" d="M0 12.3V28.5"/><path stroke="#0f0" d="M0 28V35.8"/><path stroke="#0f8" d="M0 35.3V55.8"/><path stroke="#0f5" d="M0 55.3V61.9"/><path stroke="#0f4" d="M0 61.4V73.2"/><path stroke="#0f7" d="M0 72.7V78.5"/><path stroke="#0fa" d="M0 78V83.6"/><path stroke="#0fc" d="M0 83.1V109.4"/><path stroke="#0ff" d="M0 108.9V113.1"/><path stroke="#4f0" d="M0 112.6V116.6"/><path stroke="#09f" d="M0 116.1V119.9"/><path stroke="#0f8" d="M0 119.4V123.1"/><path stroke="#09f" d="M0 122.6V134.4"/><path stroke="#00f" d="M0 133.9V136.9"/><path stroke="#000" d="M0 136.4V139.9"/><path stroke="#304" d="M0 146V150"/></g>
<g transform="translate(636.6 456)" stroke-width="5"><path stroke="#f80" d="M0 3.9V12.8"/><path stroke="#ff0" d="M0 12.3V20.8"/><path stroke="#7f0" d="M0 20.3V28.5"/><path stroke="#0f0" d="M0 28V35.8"/><path stroke="#cf0" d="M0 35.3V42.8"/><path stroke="#0f0" d="M0 42.3V49.4"/><path stroke="#0f8" d="M0 48.9V93"/><path stroke="#0f0" d="M0 92.5V97.4"/><path stroke="#0f8" d="M0 96.9V101.6"/><path stroke="#0f0" d="M0 101.1V105.6"/><path stroke="#0f8" d="M0 105.1V109.4"/><path stroke="#00f" d="M0 108.9V113.1"/><path stroke="#0ff" d="M0 112.6V123.1"/><path stroke="#0bf" d="M0 122.6V126.1"/><path stroke="#09f" d="M0 125.6V129"/><path stroke="#00f" d="M0 128.5V131.8"/><path stroke="#10d" d="M0 131.3V134.4"/><path stroke="#20c" d="M0 133.9V139.3"/><path stroke="#409" d="M0 138.8V139.9"/><path stroke="#304" d="M0 146V148"/></g>
</g>
<path d="M146 605.3h-3M646 605.3h4M146 602.9h-3M646 602.9h4M146 600.5h-3M646 600.5h4M146 598.1h-3M646 598.1h4M146 595.7h-3M646 595.7h4M146 593.3h-3M646 593.3h4M146 590.9h-3M646 590.9h4M146 588.5h-3M646 588.5h4M146 586h-3M646 586h4M146 583.6h-3M646 583.6h4M146 581.2h-3M646 581.2h4M146 578.8h-3M646 578.8h4M146 576.4h-3M646 576.4h4M146 574h-3M646 574h4M146 571.6h-3M646 571.6h4M146 569.2h-3M646 569.2h4M146 566.8h-3M646 566.8h4M146 564.4h-3M646 564.4h4M146 562h-3M646 562h4M146 559.6h-3M646 559.6h4M146 557.1h-3M646 557.1h4M146 554.7h-3M646 554.7h4M146 552.3h-3M646 552.3h4M146 549.9h-3M646 549.9h4M146 547.5h-3M646 547.5h4M146 545.1h-3M646 545.1h4M146 542.7h-3M646 542.7h4M146 540.3h-3M646 540.3h4M146 537.9h-3M646 537.9h4M146 535.5h-3M646 535.5h4M146 533.1h-3M646 533.1h4M146 530.7h-3M646 530.7h4M146 528.2h-3M646 528.2h4M146 525.8h-3M646 525.8h4M146 523.4h-3M646 523.4h4M146 521h-3M646 521h4M146 518.6h-3M646 518.6h4M146 516.2h-3M646 516.2h4M146 513.8h-3M646 513.8h4M146 511.4h-3M646 511.4h4M146 509h-3M646 509h4M146 506.6h-3M646 506.6h4M146 504.2h-3M646 504.2h4M146 501.8h-3M646 501.8h4M146 499.3h-3M646 499.3h4M146 496.9h-3M646 496.9h4M146 494.5h-3M646 494.5h4M146 492.1h-3M646 492.1h4M146 489.7h-3M646 489.7h4M146 487.3h-3M646 487.3h4M146 484.9h-3M646 484.9h4M146 482.5h-3M646 482.5h4M146 480.1h-3M646 480.1h4M146 477.7h-3M646 477.7h4M146 475.3h-3M646 475.3h4M146 472.9h-3M646 472.9h4M146 470.4h-3M646 470.4h4M146 468h-3M646 468h4M146 465.6h-3M646 465.6h4M146 463.2h-3M646 463.2h4M146 460.8h-3M646 460.8h4M146 458.4h-3M646 458.4h4" stroke="#000" stroke-width="1" shape-rendering="crispEdges"/>
<path d="M146 480.1h-7M646 480.1h7.8M146 504.2h-7M646 504.2h7.8M146 528.2h-7M646 528.2h7.8M146 552.3h-7M646 552.3h7.8M146 576.4h-7M646 576.4h7.8M146 600.5h-7M646 600.5h7.8" stroke="#000" stroke-width="1.4"/>
<path d="M139 607.5H646" stroke="#000" stroke-width="1.15"/>
<path d="M271.6 455.5v3.6M271.6 607.5v-5M396.2 455.5v3.6M396.2 607.5v-5M520.8 455.5v3.6M520.8 607.5v-5" stroke="#000" stroke-width="1.3"/>
<g stroke="#000" stroke-width="1">
<text x="133.9" y="467.4" font-size="14.4" text-anchor="end">700</text>
<text x="133.9" y="486.583" font-size="14.4" text-anchor="end">600</text>
<text x="133.9" y="510.666" font-size="14.4" text-anchor="end">500</text>
<text x="133.9" y="534.749" font-size="14.4" text-anchor="end">400</text>
<text x="133.9" y="558.832" font-size="14.4" text-anchor="end">300</text>
<text x="133.9" y="582.915" font-size="14.4" text-anchor="end">200</text>
<text x="133.9" y="607.3" font-size="14.4" text-anchor="end">100</text>
<text x="78.5" y="532" font-size="14.3" text-anchor="middle" transform="rotate(-90 78.5 532)" textLength="49" lengthAdjust="spacingAndGlyphs">Altitude</text>
<text x="95.5" y="532" font-size="14.3" text-anchor="middle" transform="rotate(-90 95.5 532)">[km]</text>
</g>
<rect x="655.4" y="458.5" width="5.2" height="146.1" fill="url(#cb)" stroke="#221" stroke-opacity="0.75" stroke-width="0.7"/>
<g stroke="#000" stroke-width="0.95">
<text x="680.8" y="470.9" font-size="17.6" text-anchor="middle">3000</text>
<text x="680.8" y="602" font-size="17.6" text-anchor="middle">0</text>
<text x="685.7" y="533.4" font-size="17.6" text-anchor="middle" transform="rotate(-90 685.7 533.4)">Ti [K]</text>
</g>
<g stroke-width="5.3" fill="none">
<g transform="translate(149.4 608)" stroke-width="4.8"><path stroke="#cf0" d="M0 3.9V12.8"/><path stroke="#0ff" d="M0 12.3V20.8"/><path stroke="#09f" d="M0 20.3V28.5"/><path stroke="#0f0" d="M0 28V42.8"/><path stroke="#1f0" d="M0 42.3V49.4"/><path stroke="#4f0" d="M0 48.9V55.8"/><path stroke="#1f0" d="M0 55.3V61.9"/><path stroke="#0f8" d="M0 61.4V67.7"/><path stroke="#0fe" d="M0 67.2V73.2"/><path stroke="#0fb" d="M0 72.7V78.5"/><path stroke="#0fa" d="M0 78V83.6"/><path stroke="#0fc" d="M0 83.1V88.4"/><path stroke="#0fe" d="M0 87.9V93"/><path stroke="#0df" d="M0 92.5V97.4"/><path stroke="#0ff" d="M0 96.9V101.6"/><path stroke="#0ef" d="M0 101.1V105.6"/><path stroke="#0bf" d="M0 105.1V113.1"/><path stroke="#4f0" d="M0 112.6V119.9"/><path stroke="#fc0" d="M0 119.4V123.1"/><path stroke="#000" d="M0 122.6V126.1"/><path stroke="#20c" d="M0 125.6V129"/><path stroke="#ff0" d="M0 128.5V131.8"/><path stroke="#000" d="M0 131.3V136.9"/><path stroke="#20c" d="M0 136.4V139.9"/></g>
<g transform="translate(158.5 608)" stroke-width="5"><path stroke="#0ff" d="M0 3.9V20.8"/><path stroke="#7f0" d="M0 20.3V28.5"/><path stroke="#0f0" d="M0 28V35.8"/><path stroke="#09f" d="M0 35.3V42.8"/><path stroke="#0f8" d="M0 42.3V49.4"/><path stroke="#09f" d="M0 48.9V55.8"/><path stroke="#0ef" d="M0 55.3V61.9"/><path stroke="#0ff" d="M0 61.4V67.7"/><path stroke="#0fc" d="M0 67.2V88.4"/><path stroke="#0f0" d="M0 87.9V97.4"/><path stroke="#0f8" d="M0 96.9V105.6"/><path stroke="#0f0" d="M0 105.1V113.1"/><path stroke="#409" d="M0 112.6V116.6"/><path stroke="#4f0" d="M0 116.1V119.9"/><path stroke="#f10" d="M0 119.4V123.1"/><path stroke="#000" d="M0 122.6V126.1"/><path stroke="#ff0" d="M0 125.6V128.5"/><path stroke="#f10" d="M0 131.3V134.4"/><path stroke="#fc0" d="M0 133.9V136.9"/><path stroke="#0f0" d="M0 136.4V139.3"/><path stroke="#f10" d="M0 138.8V139.9"/><path stroke="#f10" d="M0 146V148"/></g>
<g transform="translate(167 608)" stroke-width="5.7"><path stroke="#cf0" d="M0 3.9V12.8"/><path stroke="#0f0" d="M0 12.3V20.8"/><path stroke="#0f8" d="M0 20.3V28.5"/><path stroke="#09f" d="M0 28V35.8"/><path stroke="#7f0" d="M0 35.3V42.8"/><path stroke="#0f0" d="M0 42.3V49.4"/><path stroke="#0f8" d="M0 48.9V55.8"/><path stroke="#0fe" d="M0 55.3V61.9"/><path stroke="#0f0" d="M0 61.4V67.7"/><path stroke="#0fc" d="M0 67.2V88.4"/><path stroke="#0fe" d="M0 87.9V93"/><path stroke="#0af" d="M0 92.5V97.4"/><path stroke="#0cf" d="M0 96.9V101.6"/><path stroke="#0ff" d="M0 101.1V105.6"/><path stroke="#0f0" d="M0 105.1V109.4"/><path stroke="#09f" d="M0 108.9V113.1"/><path stroke="#f10" d="M0 112.6V116.6"/><path stroke="#0f0" d="M0 116.1V122.6"/><path stroke="#0f0" d="M0 128.5V131.8"/><path stroke="#00f" d="M0 131.3V134.4"/><path stroke="#ff0" d="M0 133.9V136.9"/><path stroke="#0f0" d="M0 136.4V138"/><path stroke="#000" d="M0 146V147.8"/><path stroke="#0fc" d="M0 148.9V150"/></g>
<g transform="translate(175.9 608)" stroke-width="5.7"><path stroke="#0f0" d="M0 3.9V12.8"/><path stroke="#fc0" d="M0 12.3V20.8"/><path stroke="#09f" d="M0 20.3V28.5"/><path stroke="#cf0" d="M0 28V35.8"/><path stroke="#0ef" d="M0 35.3V42.8"/><path stroke="#0bf" d="M0 42.3V49.4"/><path stroke="#0f0" d="M0 48.9V67.7"/><path stroke="#0ff" d="M0 67.2V73.2"/><path stroke="#0fd" d="M0 72.7V78.5"/><path stroke="#0fe" d="M0 78V83.6"/><path stroke="#0bf" d="M0 83.1V93"/><path stroke="#00f" d="M0 92.5V97.4"/><path stroke="#0f8" d="M0 96.9V101.6"/><path stroke="#4f0" d="M0 101.1V105.6"/><path stroke="#0f0" d="M0 105.1V109.4"/><path stroke="#f10" d="M0 108.9V112.6"/><path stroke="#f10" d="M0 116.1V119.9"/><path stroke="#00f" d="M0 119.4V123.1"/><path stroke="#000" d="M0 122.6V131.8"/><path stroke="#409" d="M0 131.3V134.4"/><path stroke="#0f0" d="M0 133.9V136.9"/><path stroke="#000" d="M0 136.4V140.8"/><path stroke="#000" d="M0 149V150"/></g>
<g transform="translate(184.5 608)" stroke-width="5"><path stroke="#0ff" d="M0 3.9V12.8"/><path stroke="#0fa" d="M0 12.3V20.8"/><path stroke="#0fc" d="M0 20.3V35.8"/><path stroke="#0f0" d="M0 35.3V49.4"/><path stroke="#09f" d="M0 48.9V55.8"/><path stroke="#0ef" d="M0 55.3V61.9"/><path stroke="#4f0" d="M0 61.4V67.7"/><path stroke="#09f" d="M0 67.2V73.2"/><path stroke="#0fe" d="M0 72.7V78.5"/><path stroke="#0fb" d="M0 78V83.6"/><path stroke="#0f8" d="M0 83.1V88.4"/><path stroke="#09f" d="M0 87.9V97.4"/><path stroke="#0f8" d="M0 96.9V101.6"/><path stroke="#20c" d="M0 101.1V105.6"/><path stroke="#0f8" d="M0 105.1V109.4"/><path stroke="#f40" d="M0 108.9V113.1"/><path stroke="#0fc" d="M0 112.6V116.6"/><path stroke="#8f0" d="M0 116.1V119.9"/><path stroke="#409" d="M0 119.4V123.1"/><path stroke="#0f8" d="M0 122.6V126.1"/><path stroke="#f10" d="M0 125.6V128.5"/><path stroke="#f10" d="M0 131.3V138"/><path stroke="#000" d="M0 146V147.5"/><path stroke="#f10" d="M0 147V148"/></g>
<g transform="translate(193.6 608)" stroke-width="5.4"><path stroke="#20c" d="M0 3.9V12.8"/><path stroke="#0f0" d="M0 12.3V20.8"/><path stroke="#0ff" d="M0 20.3V28.5"/><path stroke="#00f" d="M0 28V35.8"/><path stroke="#0fc" d="M0 35.3V73.2"/><path stroke="#0fa" d="M0 72.7V83.6"/><path stroke="#0fc" d="M0 83.1V93"/><path stroke="#0fb" d="M0 92.5V97.4"/><path stroke="#0f8" d="M0 96.9V101.1"/><path stroke="#09f" d="M0 105.1V109.4"/><path stroke="#409" d="M0 108.9V119.9"/><path stroke="#10e" d="M0 119.4V123.1"/><path stroke="#00f" d="M0 122.6V126.1"/><path stroke="#0f0" d="M0 125.6V129"/><path stroke="#09f" d="M0 128.5V131.8"/><path stroke="#4f0" d="M0 131.3V133.9"/><path stroke="#ff0" d="M0 136.4V139.3"/><path stroke="#f10" d="M0 138.8V139.9"/><path stroke="#00f" d="M0 146V147.8"/><path stroke="#000" d="M0 148.9V150"/></g>
<g transform="translate(202.5 608)" stroke-width="5.4"><path stroke="#f40" d="M0 3.9V12.8"/><path stroke="#0bf" d="M0 12.3V20.8"/><path stroke="#0f8" d="M0 20.3V35.8"/><path stroke="#4f0" d="M0 35.3V42.8"/><path stroke="#0f0" d="M0 42.3V73.2"/><path stroke="#09f" d="M0 72.7V78.5"/><path stroke="#0af" d="M0 78V83.6"/><path stroke="#0df" d="M0 83.1V88.4"/><path stroke="#0ff" d="M0 87.9V101.6"/><path stroke="#000" d="M0 101.1V105.6"/><path stroke="#0f0" d="M0 105.1V109.4"/><path stroke="#000" d="M0 108.9V113.1"/><path stroke="#0f8" d="M0 112.6V116.6"/><path stroke="#00f" d="M0 116.1V119.4"/><path stroke="#ff0" d="M0 122.6V126.1"/><path stroke="#0fc" d="M0 125.6V131.8"/><path stroke="#0f0" d="M0 131.3V134.4"/><path stroke="#409" d="M0 133.9V136.9"/><path stroke="#f10" d="M0 136.4V139.9"/><path stroke="#f10" d="M0 146V150"/></g>
<g transform="translate(211.4 608)" stroke-width="5.4"><path stroke="#8f0" d="M0 3.9V12.8"/><path stroke="#1f0" d="M0 12.3V20.8"/><path stroke="#0f0" d="M0 20.3V28.5"/><path stroke="#0fe" d="M0 28V35.8"/><path stroke="#0fb" d="M0 35.3V42.8"/><path stroke="#0f8" d="M0 42.3V49.4"/><path stroke="#0bf" d="M0 48.9V55.8"/><path stroke="#0f8" d="M0 55.3V61.9"/><path stroke="#03f" d="M0 61.4V67.7"/><path stroke="#0fc" d="M0 67.2V83.6"/><path stroke="#0fe" d="M0 83.1V88.4"/><path stroke="#0bf" d="M0 87.9V97.4"/><path stroke="#0f0" d="M0 96.9V101.6"/><path stroke="#304" d="M0 101.1V105.6"/><path stroke="#f10" d="M0 105.1V109.4"/><path stroke="#20c" d="M0 108.9V113.1"/><path stroke="#ff0" d="M0 112.6V116.6"/><path stroke="#f10" d="M0 116.1V119.9"/><path stroke="#000" d="M0 119.4V123.1"/><path stroke="#4f0" d="M0 122.6V131.8"/><path stroke="#09f" d="M0 131.3V134.4"/><path stroke="#0f0" d="M0 133.9V136.9"/><path stroke="#000" d="M0 136.4V139.9"/></g>
<g transform="translate(220.5 608)" stroke-width="5"><path stroke="#0bf" d="M0 3.9V12.8"/><path stroke="#20c" d="M0 12.3V20.8"/><path stroke="#0f8" d="M0 20.3V28.5"/><path stroke="#09f" d="M0 28V42.8"/><path stroke="#0bf" d="M0 42.3V49.4"/><path stroke="#09f" d="M0 48.9V55.8"/><path stroke="#0fd" d="M0 55.3V61.9"/><path stroke="#0bf" d="M0 61.4V67.7"/><path stroke="#0fd" d="M0 67.2V73.2"/><path stroke="#0fe" d="M0 72.7V78.5"/><path stroke="#0ff" d="M0 78V88.4"/><path stroke="#0fe" d="M0 87.9V93"/><path stroke="#0fc" d="M0 92.5V105.6"/><path stroke="#f10" d="M0 105.1V109.4"/><path stroke="#03f" d="M0 108.9V113.1"/><path stroke="#4f0" d="M0 112.6V116.6"/><path stroke="#f10" d="M0 116.1V119.9"/><path stroke="#000" d="M0 119.4V123.1"/><path stroke="#0f4" d="M0 122.6V131.8"/><path stroke="#fc0" d="M0 131.3V134.4"/><path stroke="#409" d="M0 133.9V136.9"/><path stroke="#00f" d="M0 136.4V139.9"/></g>
<g transform="translate(229.1 608)" stroke-width="6.2"><path stroke="#f80" d="M0 3.9V12.8"/><path stroke="#000" d="M0 12.3V20.8"/><path stroke="#0fc" d="M0 20.3V28.5"/><path stroke="#03f" d="M0 28V35.8"/><path stroke="#0ff" d="M0 35.3V42.8"/><path stroke="#0f0" d="M0 42.3V55.8"/><path stroke="#4f0" d="M0 55.3V61.9"/><path stroke="#1f0" d="M0 61.4V67.7"/><path stroke="#0ff" d="M0 67.2V73.2"/><path stroke="#0fb" d="M0 72.7V78.5"/><path stroke="#0fa" d="M0 78V83.6"/><path stroke="#0fc" d="M0 83.1V88.4"/><path stroke="#0fd" d="M0 87.9V93"/><path stroke="#0ff" d="M0 92.5V97.4"/><path stroke="#0f0" d="M0 96.9V105.6"/><path stroke="#00f" d="M0 105.1V109.4"/><path stroke="#0f8" d="M0 108.9V112.6"/><path stroke="#00f" d="M0 116.1V119.9"/><path stroke="#ff0" d="M0 119.4V123.1"/><path stroke="#0f0" d="M0 122.6V131.8"/><path stroke="#3f0" d="M0 131.3V134.4"/><path stroke="#4f0" d="M0 133.9V139.3"/><path stroke="#f80" d="M0 138.8V141.1"/><path stroke="#f10" d="M0 146V148.5"/><path stroke="#0fc" d="M0 148V150"/></g>
<g transform="translate(238.1 608)"><path stroke="#409" d="M0 3.9V12.8"/><path stroke="#00f" d="M0 12.3V20.8"/><path stroke="#0bf" d="M0 20.3V35.8"/><path stroke="#0fd" d="M0 35.3V42.8"/><path stroke="#0bf" d="M0 42.3V49.4"/><path stroke="#0fc" d="M0 48.9V55.8"/><path stroke="#0f0" d="M0 55.3V61.9"/><path stroke="#0f8" d="M0 61.4V73.2"/><path stroke="#0fd" d="M0 72.7V78.5"/><path stroke="#0ff" d="M0 78V88.4"/><path stroke="#0df" d="M0 87.9V93"/><path stroke="#09f" d="M0 92.5V97.4"/><path stroke="#00f" d="M0 96.9V101.6"/><path stroke="#0f8" d="M0 101.1V105.6"/><path stroke="#09f" d="M0 105.1V113.1"/><path stroke="#20c" d="M0 112.6V116.6"/><path stroke="#0f8" d="M0 116.1V119.9"/><path stroke="#000" d="M0 119.4V123.1"/><path stroke="#0f0" d="M0 122.6V129"/><path stroke="#0fc" d="M0 128.5V131.8"/><path stroke="#0f0" d="M0 131.3V139.3"/><path stroke="#ff0" d="M0 138.8V140.8"/><path stroke="#09f" d="M0 149V150"/></g>
<g transform="translate(246.4 608)" stroke-width="4.9"><path stroke="#09f" d="M0 3.9V12.8"/><path stroke="#0fd" d="M0 12.3V20.8"/><path stroke="#0fc" d="M0 20.3V35.8"/><path stroke="#4f0" d="M0 35.3V42.8"/><path stroke="#1f0" d="M0 42.3V49.4"/><path stroke="#4f0" d="M0 48.9V55.8"/><path stroke="#1f0" d="M0 55.3V61.9"/><path stroke="#0f0" d="M0 61.4V73.2"/><path stroke="#0f8" d="M0 72.7V83.6"/><path stroke="#0fa" d="M0 83.1V88.4"/><path stroke="#0fc" d="M0 87.9V93"/><path stroke="#0fb" d="M0 92.5V97.4"/><path stroke="#0f8" d="M0 96.9V105.6"/><path stroke="#f80" d="M0 105.1V109.4"/><path stroke="#0ff" d="M0 108.9V113.1"/><path stroke="#304" d="M0 112.6V116.6"/><path stroke="#0f0" d="M0 116.1V119.9"/><path stroke="#00f" d="M0 119.4V123.1"/><path stroke="#0f8" d="M0 122.6V126.1"/><path stroke="#0fb" d="M0 125.6V129"/><path stroke="#0fc" d="M0 128.5V136.9"/><path stroke="#0f0" d="M0 136.4V141.1"/><path stroke="#000" d="M0 146V148.5"/><path stroke="#f10" d="M0 148V150"/></g>
<g transform="translate(256.1 608)" stroke-width="4.3"><path stroke="#fc0" d="M0 3.9V12.8"/><path stroke="#4f0" d="M0 12.3V28.5"/><path stroke="#0f0" d="M0 28V49.4"/><path stroke="#0f8" d="M0 48.9V55.8"/><path stroke="#0f0" d="M0 55.3V61.9"/><path stroke="#0f8" d="M0 61.4V67.7"/><path stroke="#0f0" d="M0 67.2V93"/><path stroke="#0fc" d="M0 92.5V97.4"/><path stroke="#0fb" d="M0 96.9V101.6"/><path stroke="#0f8" d="M0 101.1V105.6"/><path stroke="#00f" d="M0 105.1V109.4"/><path stroke="#f10" d="M0 108.9V113.1"/><path stroke="#409" d="M0 112.6V116.6"/><path stroke="#8f0" d="M0 116.1V119.9"/><path stroke="#0fc" d="M0 119.4V123.1"/><path stroke="#0f0" d="M0 122.6V126.1"/><path stroke="#0f8" d="M0 125.6V134.4"/><path stroke="#8f0" d="M0 133.9V136.9"/><path stroke="#ff0" d="M0 136.4V139.3"/><path stroke="#00f" d="M0 138.8V141.1"/><path stroke="#409" d="M0 146V147.5"/><path stroke="#0f0" d="M0 147V148"/></g>
<g transform="translate(264.6 608)" stroke-width="5"><path stroke="#ff0" d="M0 3.9V20.8"/><path stroke="#0f0" d="M0 20.3V35.8"/><path stroke="#fc0" d="M0 35.3V42.8"/><path stroke="#0f0" d="M0 42.3V67.7"/><path stroke="#7f0" d="M0 67.2V73.2"/><path stroke="#3f0" d="M0 72.7V78.5"/><path stroke="#0f0" d="M0 78V83.6"/><path stroke="#0fa" d="M0 83.1V88.4"/><path stroke="#0fc" d="M0 87.9V97.4"/><path stroke="#0fb" d="M0 96.9V101.6"/><path stroke="#0f8" d="M0 101.1V105.6"/><path stroke="#0f0" d="M0 105.1V109.4"/><path stroke="#0f8" d="M0 108.9V116.6"/><path stroke="#409" d="M0 116.1V119.9"/><path stroke="#0f0" d="M0 119.4V126.1"/><path stroke="#0f8" d="M0 125.6V131.8"/><path stroke="#0f0" d="M0 131.3V134.4"/><path stroke="#8f0" d="M0 133.9V136.9"/><path stroke="#fe0" d="M0 136.4V139.3"/><path stroke="#f30" d="M0 138.8V141.1"/><path stroke="#000" d="M0 146V148"/></g>
<g transform="translate(273.1 608)" stroke-width="4"><path stroke="#fc0" d="M0 3.9V12.8"/><path stroke="#cf0" d="M0 12.3V20.8"/><path stroke="#4f0" d="M0 20.3V28.5"/><path stroke="#1f0" d="M0 28V35.8"/><path stroke="#4f0" d="M0 35.3V42.8"/><path stroke="#0f0" d="M0 42.3V93"/><path stroke="#fc0" d="M0 92.5V97.4"/><path stroke="#4f0" d="M0 96.9V101.6"/><path stroke="#0f0" d="M0 101.1V105.6"/><path stroke="#0f9" d="M0 105.1V109.4"/><path stroke="#0fc" d="M0 108.9V113.1"/><path stroke="#0f0" d="M0 112.6V116.6"/><path stroke="#00f" d="M0 116.1V119.9"/><path stroke="#0f0" d="M0 119.4V123.1"/><path stroke="#0fc" d="M0 122.6V131.8"/><path stroke="#0f0" d="M0 131.3V136.9"/><path stroke="#00f" d="M0 136.4V139.3"/><path stroke="#0ff" d="M0 138.8V141.1"/><path stroke="#000" d="M0 146V150"/></g>
<g transform="translate(282.5 608)" stroke-width="5"><path stroke="#cf0" d="M0 3.9V12.8"/><path stroke="#0f0" d="M0 12.3V20.8"/><path stroke="#4f0" d="M0 20.3V28.5"/><path stroke="#0f0" d="M0 28V35.8"/><path stroke="#0fc" d="M0 35.3V42.8"/><path stroke="#0f0" d="M0 42.3V55.8"/><path stroke="#7f0" d="M0 55.3V61.9"/><path stroke="#1f0" d="M0 61.4V67.7"/><path stroke="#0f0" d="M0 67.2V78.5"/><path stroke="#0ff" d="M0 78V83.6"/><path stroke="#0fd" d="M0 83.1V88.4"/><path stroke="#0f8" d="M0 87.9V93"/><path stroke="#0f0" d="M0 92.5V101.6"/><path stroke="#1f0" d="M0 101.1V105.6"/><path stroke="#4f0" d="M0 105.1V116.6"/><path stroke="#1f0" d="M0 116.1V119.9"/><path stroke="#7f0" d="M0 119.4V123.1"/><path stroke="#0f8" d="M0 122.6V126.1"/><path stroke="#0fb" d="M0 125.6V129"/><path stroke="#8f0" d="M0 128.5V134.4"/><path stroke="#0fc" d="M0 133.9V136.9"/><path stroke="#4f0" d="M0 136.4V139.3"/><path stroke="#ff0" d="M0 138.8V141.1"/><path stroke="#cf0" d="M0 146V148.5"/><path stroke="#f10" d="M0 148V150"/></g>
<g transform="translate(291.1 608)" stroke-width="5.7"><path stroke="#409" d="M0 3.9V12.8"/><path stroke="#4f0" d="M0 12.3V28.5"/><path stroke="#0f0" d="M0 28V35.8"/><path stroke="#0ff" d="M0 35.3V42.8"/><path stroke="#0f0" d="M0 42.3V61.9"/><path stroke="#4f0" d="M0 61.4V67.7"/><path stroke="#0fc" d="M0 67.2V73.2"/><path stroke="#0fa" d="M0 72.7V83.6"/><path stroke="#0fc" d="M0 83.1V93"/><path stroke="#0f0" d="M0 92.5V101.6"/><path stroke="#fc0" d="M0 101.1V105.6"/><path stroke="#4f0" d="M0 105.1V109.4"/><path stroke="#0f0" d="M0 108.9V113.1"/><path stroke="#f80" d="M0 112.6V116.6"/><path stroke="#4f0" d="M0 116.1V119.9"/><path stroke="#0f8" d="M0 119.4V126.1"/><path stroke="#0fb" d="M0 125.6V129"/><path stroke="#0fc" d="M0 128.5V139.3"/><path stroke="#09f" d="M0 138.8V141.1"/></g>
<g transform="translate(300 608)" stroke-width="5.7"><path stroke="#0f0" d="M0 3.9V12.8"/><path stroke="#0fc" d="M0 12.3V20.8"/><path stroke="#0fe" d="M0 20.3V28.5"/><path stroke="#0f8" d="M0 28V42.8"/><path stroke="#0f0" d="M0 42.3V49.4"/><path stroke="#0f8" d="M0 48.9V61.9"/><path stroke="#0fb" d="M0 61.4V67.7"/><path stroke="#0fc" d="M0 67.2V73.2"/><path stroke="#0fa" d="M0 72.7V78.5"/><path stroke="#0f8" d="M0 78V88.4"/><path stroke="#09f" d="M0 87.9V93"/><path stroke="#0f8" d="M0 92.5V97.4"/><path stroke="#bf0" d="M0 96.9V101.6"/><path stroke="#4f0" d="M0 101.1V105.6"/><path stroke="#0f8" d="M0 105.1V109.4"/><path stroke="#f40" d="M0 108.9V113.1"/><path stroke="#09f" d="M0 112.6V116.6"/><path stroke="#ff0" d="M0 116.1V119.9"/><path stroke="#0f0" d="M0 119.4V126.1"/><path stroke="#0ff" d="M0 125.6V129"/><path stroke="#0f0" d="M0 128.5V134.4"/><path stroke="#0fc" d="M0 133.9V136.9"/><path stroke="#4f0" d="M0 136.4V139.3"/><path stroke="#0f8" d="M0 138.8V141.1"/><path stroke="#0f0" d="M0 146V148"/></g>
<g transform="translate(308.9 608)" stroke-width="5.7"><path stroke="#0f8" d="M0 3.9V12.8"/><path stroke="#0f0" d="M0 12.3V28.5"/><path stroke="#0f8" d="M0 28V35.8"/><path stroke="#0f0" d="M0 35.3V55.8"/><path stroke="#7f0" d="M0 55.3V61.9"/><path stroke="#1f0" d="M0 61.4V67.7"/><path stroke="#0f0" d="M0 67.2V73.2"/><path stroke="#0f3" d="M0 72.7V78.5"/><path stroke="#0f4" d="M0 78V93"/><path stroke="#f70" d="M0 92.5V97.4"/><path stroke="#fc0" d="M0 96.9V101.6"/><path stroke="#1f0" d="M0 101.1V105.6"/><path stroke="#4f0" d="M0 105.1V109.4"/><path stroke="#0f8" d="M0 108.9V116.6"/><path stroke="#0fe" d="M0 116.1V119.9"/><path stroke="#0fa" d="M0 119.4V123.1"/><path stroke="#0bf" d="M0 122.6V126.1"/><path stroke="#00f" d="M0 125.6V129"/><path stroke="#8f0" d="M0 128.5V131.8"/><path stroke="#0fc" d="M0 131.3V134.4"/><path stroke="#4f0" d="M0 133.9V136.9"/><path stroke="#f10" d="M0 136.4V141.1"/><path stroke="#00f" d="M0 146V148.5"/><path stroke="#f10" d="M0 148V150"/></g>
<g transform="translate(317.6 608)" stroke-width="5.4"><path stroke="#0f0" d="M0 3.9V12.8"/><path stroke="#0f8" d="M0 12.3V20.8"/><path stroke="#7f0" d="M0 20.3V28.5"/><path stroke="#0f0" d="M0 28V61.9"/><path stroke="#7f0" d="M0 61.4V67.7"/><path stroke="#1f0" d="M0 67.2V73.2"/><path stroke="#0f8" d="M0 72.7V83.6"/><path stroke="#3f0" d="M0 83.1V88.4"/><path stroke="#6f0" d="M0 87.9V93"/><path stroke="#0f0" d="M0 92.5V105.6"/><path stroke="#0f8" d="M0 105.1V113.1"/><path stroke="#0fe" d="M0 112.6V116.6"/><path stroke="#0f0" d="M0 116.1V119.9"/><path stroke="#f10" d="M0 119.4V123.1"/><path stroke="#0f0" d="M0 122.6V126.1"/><path stroke="#cf0" d="M0 125.6V131.8"/><path stroke="#6f0" d="M0 131.3V134.4"/><path stroke="#4f0" d="M0 133.9V136.9"/><path stroke="#1f0" d="M0 136.4V139.3"/><path stroke="#0f0" d="M0 138.8V141.1"/><path stroke="#000" d="M0 148V150"/></g>
<g transform="translate(326.5 608)" stroke-width="5.4"><path stroke="#20c" d="M0 3.9V12.8"/><path stroke="#10e" d="M0 12.3V20.8"/><path stroke="#20c" d="M0 20.3V28.5"/><path stroke="#09f" d="M0 28V42.8"/><path stroke="#0df" d="M0 42.3V49.4"/><path stroke="#0fc" d="M0 48.9V55.8"/><path stroke="#0f9" d="M0 55.3V61.9"/><path stroke="#0f8" d="M0 61.4V73.2"/><path stroke="#0fb" d="M0 72.7V83.6"/><path stroke="#0f8" d="M0 83.1V93"/><path stroke="#0f0" d="M0 92.5V105.6"/><path stroke="#f80" d="M0 105.1V109.4"/><path stroke="#cf0" d="M0 108.9V113.1"/><path stroke="#09f" d="M0 112.6V116.6"/><path stroke="#0f0" d="M0 116.1V126.1"/><path stroke="#f10" d="M0 125.6V129"/><path stroke="#0f0" d="M0 128.5V131.8"/><path stroke="#6f0" d="M0 131.3V134.4"/><path stroke="#0f8" d="M0 133.9V140.8"/><path stroke="#f10" d="M0 146V150"/></g>
<g transform="translate(335.4 608)" stroke-width="5.4"><path stroke="#00f" d="M0 3.9V12.8"/><path stroke="#0bf" d="M0 12.3V20.8"/><path stroke="#0fc" d="M0 20.3V28.5"/><path stroke="#0fb" d="M0 28V35.8"/><path stroke="#0f8" d="M0 35.3V42.8"/><path stroke="#0f9" d="M0 42.3V49.4"/><path stroke="#0fc" d="M0 48.9V55.8"/><path stroke="#0f9" d="M0 55.3V61.9"/><path stroke="#0f8" d="M0 61.4V78.5"/><path stroke="#4f0" d="M0 78V83.6"/><path stroke="#3f0" d="M0 83.1V88.4"/><path stroke="#0f0" d="M0 87.9V101.6"/><path stroke="#df0" d="M0 101.1V105.6"/><path stroke="#fb0" d="M0 105.1V109.4"/><path stroke="#f80" d="M0 108.9V113.1"/><path stroke="#fe0" d="M0 112.6V116.6"/><path stroke="#af0" d="M0 116.1V119.9"/><path stroke="#09f" d="M0 119.4V123.1"/><path stroke="#00f" d="M0 122.6V129"/><path stroke="#0ff" d="M0 128.5V131.8"/><path stroke="#8f0" d="M0 131.3V134.4"/><path stroke="#09f" d="M0 133.9V136.9"/><path stroke="#f10" d="M0 136.4V140.8"/><path stroke="#000" d="M0 146V148"/></g>
<g transform="translate(344.5 608)" stroke-width="5"><path stroke="#0f0" d="M0 3.9V20.8"/><path stroke="#0fc" d="M0 20.3V28.5"/><path stroke="#0f0" d="M0 28V42.8"/><path stroke="#0f8" d="M0 42.3V49.4"/><path stroke="#0f0" d="M0 48.9V61.9"/><path stroke="#0f8" d="M0 61.4V67.7"/><path stroke="#0f0" d="M0 67.2V101.6"/><path stroke="#f10" d="M0 101.1V105.6"/><path stroke="#20c" d="M0 105.1V109.4"/><path stroke="#f10" d="M0 108.9V116.6"/><path stroke="#4f0" d="M0 116.1V131.8"/><path stroke="#fc0" d="M0 131.3V134.4"/><path stroke="#0fc" d="M0 133.9V136.9"/><path stroke="#cf0" d="M0 136.4V139.3"/><path stroke="#ff0" d="M0 138.8V141.1"/><path stroke="#f40" d="M0 146V148.5"/><path stroke="#000" d="M0 148V150"/></g>
<g transform="translate(353.1 608)" stroke-width="6.2"><path stroke="#4f0" d="M0 3.9V12.8"/><path stroke="#ff0" d="M0 12.3V20.8"/><path stroke="#4f0" d="M0 20.3V28.5"/><path stroke="#0f0" d="M0 28V35.8"/><path stroke="#bf0" d="M0 35.3V42.8"/><path stroke="#4f0" d="M0 42.3V49.4"/><path stroke="#0f0" d="M0 48.9V101.6"/><path stroke="#09f" d="M0 101.1V105.6"/><path stroke="#4f0" d="M0 105.1V109.4"/><path stroke="#f10" d="M0 108.9V113.1"/><path stroke="#0f0" d="M0 112.6V119.9"/><path stroke="#1f0" d="M0 119.4V123.1"/><path stroke="#4f0" d="M0 122.6V131.8"/><path stroke="#0f8" d="M0 131.3V136.9"/><path stroke="#4f0" d="M0 136.4V141.1"/><path stroke="#20c" d="M0 149V150"/></g>
<g transform="translate(362 608)"><path stroke="#8f0" d="M0 3.9V12.8"/><path stroke="#1f0" d="M0 12.3V20.8"/><path stroke="#0f0" d="M0 20.3V42.8"/><path stroke="#0f8" d="M0 42.3V49.4"/><path stroke="#0f0" d="M0 48.9V73.2"/><path stroke="#0f8" d="M0 72.7V97.4"/><path stroke="#cf0" d="M0 96.9V101.6"/><path stroke="#1f0" d="M0 101.1V105.6"/><path stroke="#4f0" d="M0 105.1V109.4"/><path stroke="#0f8" d="M0 108.9V119.9"/><path stroke="#0f5" d="M0 119.4V123.1"/><path stroke="#0f4" d="M0 122.6V129"/><path stroke="#0ff" d="M0 128.5V131.8"/><path stroke="#0f0" d="M0 131.3V134.4"/><path stroke="#0ff" d="M0 133.9V136.9"/><path stroke="#0f0" d="M0 136.4V139.3"/><path stroke="#f10" d="M0 138.8V141.1"/><path stroke="#4f0" d="M0 146V148.5"/><path stroke="#000" d="M0 148V150"/></g>
<g transform="translate(371 608)" stroke-width="6"><path stroke="#fc0" d="M0 3.9V12.8"/><path stroke="#cf0" d="M0 12.3V20.8"/><path stroke="#8f0" d="M0 20.3V28.5"/><path stroke="#fb0" d="M0 28V35.8"/><path stroke="#fa0" d="M0 35.3V42.8"/><path stroke="#fe0" d="M0 42.3V49.4"/><path stroke="#f80" d="M0 48.9V55.8"/><path stroke="#0bf" d="M0 55.3V61.9"/><path stroke="#4f0" d="M0 61.4V67.7"/><path stroke="#0f8" d="M0 67.2V73.2"/><path stroke="#0fb" d="M0 72.7V78.5"/><path stroke="#0fc" d="M0 78V83.6"/><path stroke="#0fd" d="M0 83.1V88.4"/><path stroke="#0df" d="M0 87.9V93"/><path stroke="#09f" d="M0 92.5V97.4"/><path stroke="#0f8" d="M0 96.9V101.6"/><path stroke="#0f0" d="M0 101.1V109.4"/><path stroke="#f10" d="M0 108.9V116.6"/><path stroke="#cf0" d="M0 116.1V119.9"/><path stroke="#0f0" d="M0 119.4V126.1"/><path stroke="#09f" d="M0 125.6V128.5"/><path stroke="#4f0" d="M0 131.3V134.4"/><path stroke="#f10" d="M0 133.9V136.9"/><path stroke="#409" d="M0 136.4V139.9"/><path stroke="#4f0" d="M0 148V149.5"/><path stroke="#f10" d="M0 149V150"/></g>
<g transform="translate(379.7 608)" stroke-width="5"><path stroke="#4f0" d="M0 3.9V12.8"/><path stroke="#f10" d="M0 12.3V20.8"/><path stroke="#f80" d="M0 20.3V28.5"/><path stroke="#cf0" d="M0 28V35.8"/><path stroke="#f60" d="M0 35.3V42.8"/><path stroke="#fb0" d="M0 42.3V49.4"/><path stroke="#f80" d="M0 48.9V55.8"/><path stroke="#0f0" d="M0 55.3V101.6"/><path stroke="#0f8" d="M0 101.1V105.6"/><path stroke="#f10" d="M0 105.1V113.1"/><path stroke="#f70" d="M0 112.6V116.6"/><path stroke="#fe0" d="M0 116.1V119.9"/><path stroke="#4f0" d="M0 119.4V123.1"/><path stroke="#0fc" d="M0 122.6V126.1"/><path stroke="#0f0" d="M0 125.6V136.9"/><path stroke="#0fc" d="M0 136.4V139.3"/><path stroke="#20c" d="M0 138.8V141.1"/><path stroke="#f10" d="M0 146V147.1"/></g>
<g transform="translate(388.6 608)" stroke-width="5"><path stroke="#f80" d="M0 3.9V12.8"/><path stroke="#0f8" d="M0 12.3V20.8"/><path stroke="#0f0" d="M0 20.3V42.8"/><path stroke="#0f8" d="M0 42.3V49.4"/><path stroke="#0f0" d="M0 48.9V55.8"/><path stroke="#0fc" d="M0 55.3V61.9"/><path stroke="#4f0" d="M0 61.4V67.7"/><path stroke="#0f8" d="M0 67.2V78.5"/><path stroke="#0fd" d="M0 78V83.6"/><path stroke="#0fe" d="M0 83.1V88.4"/><path stroke="#0fc" d="M0 87.9V93"/><path stroke="#0fd" d="M0 92.5V97.4"/><path stroke="#0fe" d="M0 96.9V101.6"/><path stroke="#0f8" d="M0 101.1V105.6"/><path stroke="#09f" d="M0 105.1V109.4"/><path stroke="#4f0" d="M0 108.9V116.6"/><path stroke="#1f0" d="M0 116.1V119.9"/><path stroke="#0f0" d="M0 119.4V123.1"/><path stroke="#3f0" d="M0 122.6V126.1"/><path stroke="#4f0" d="M0 125.6V134.4"/><path stroke="#09f" d="M0 133.9V136.9"/><path stroke="#4f0" d="M0 136.4V141.1"/><path stroke="#000" d="M0 148V150"/></g>
<g transform="translate(397.5 608)" stroke-width="4.7"><path stroke="#0bf" d="M0 3.9V12.8"/><path stroke="#0cf" d="M0 12.3V20.8"/><path stroke="#0ff" d="M0 20.3V28.5"/><path stroke="#0f0" d="M0 28V35.8"/><path stroke="#0f9" d="M0 35.3V42.8"/><path stroke="#0fb" d="M0 42.3V49.4"/><path stroke="#0f8" d="M0 48.9V55.8"/><path stroke="#0fb" d="M0 55.3V61.9"/><path stroke="#0f5" d="M0 61.4V67.7"/><path stroke="#0ff" d="M0 67.2V73.2"/><path stroke="#0fd" d="M0 72.7V78.5"/><path stroke="#0fc" d="M0 78V83.6"/><path stroke="#0fd" d="M0 83.1V88.4"/><path stroke="#0ff" d="M0 87.9V93"/><path stroke="#0f4" d="M0 92.5V97.4"/><path stroke="#09f" d="M0 96.9V101.6"/><path stroke="#0f0" d="M0 101.1V105.6"/><path stroke="#fa0" d="M0 105.1V109.4"/><path stroke="#f40" d="M0 108.9V113.1"/><path stroke="#cf0" d="M0 112.6V116.6"/><path stroke="#6f0" d="M0 116.1V119.9"/><path stroke="#0f8" d="M0 119.4V126.1"/><path stroke="#0f0" d="M0 125.6V134.4"/><path stroke="#0f8" d="M0 133.9V136.9"/><path stroke="#fc0" d="M0 136.4V139.3"/><path stroke="#0ff" d="M0 138.8V140.8"/><path stroke="#f40" d="M0 146V147.8"/><path stroke="#000" d="M0 148.9V150"/></g>
<g transform="translate(406.5 608)" stroke-width="5"><path stroke="#0f8" d="M0 3.9V12.8"/><path stroke="#0ff" d="M0 12.3V20.8"/><path stroke="#08f" d="M0 20.3V28.5"/><path stroke="#04f" d="M0 28V35.8"/><path stroke="#0df" d="M0 35.3V42.8"/><path stroke="#0fd" d="M0 42.3V49.4"/><path stroke="#09f" d="M0 48.9V61.9"/><path stroke="#0f8" d="M0 61.4V67.7"/><path stroke="#09f" d="M0 67.2V78.5"/><path stroke="#0fe" d="M0 78V83.6"/><path stroke="#0fc" d="M0 83.1V88.4"/><path stroke="#0fe" d="M0 87.9V93"/><path stroke="#09f" d="M0 92.5V97.4"/><path stroke="#0f0" d="M0 96.9V105.6"/><path stroke="#cf0" d="M0 105.1V113.1"/><path stroke="#f80" d="M0 112.6V116.6"/><path stroke="#0f0" d="M0 116.1V123.1"/><path stroke="#f80" d="M0 122.6V126.1"/><path stroke="#8f0" d="M0 125.6V131.8"/><path stroke="#1f0" d="M0 131.3V134.4"/><path stroke="#0f0" d="M0 133.9V136.9"/><path stroke="#0f8" d="M0 136.4V141.1"/><path stroke="#0f0" d="M0 146V148.5"/><path stroke="#000" d="M0 148V150"/></g>
<g transform="translate(415.4 608)" stroke-width="5"><path stroke="#0fc" d="M0 3.9V12.8"/><path stroke="#20c" d="M0 12.3V20.8"/><path stroke="#0f0" d="M0 20.3V28.5"/><path stroke="#00f" d="M0 28V35.8"/><path stroke="#0f8" d="M0 35.3V42.8"/><path stroke="#0bf" d="M0 42.3V49.4"/><path stroke="#0fc" d="M0 48.9V55.8"/><path stroke="#00f" d="M0 55.3V61.9"/><path stroke="#0f0" d="M0 61.4V67.7"/><path stroke="#0ff" d="M0 67.2V83.6"/><path stroke="#0fd" d="M0 83.1V88.4"/><path stroke="#0f8" d="M0 87.9V93"/><path stroke="#09f" d="M0 92.5V101.6"/><path stroke="#0f0" d="M0 101.1V113.1"/><path stroke="#7f0" d="M0 112.6V116.6"/><path stroke="#8f0" d="M0 116.1V119.9"/><path stroke="#03f" d="M0 119.4V123.1"/><path stroke="#0f8" d="M0 122.6V139.9"/><path stroke="#000" d="M0 146V148"/></g>
<g transform="translate(423.6 608)" stroke-width="5"><path stroke="#0f0" d="M0 3.9V12.8"/><path stroke="#cf0" d="M0 12.3V20.8"/><path stroke="#20c" d="M0 20.3V28.5"/><path stroke="#0f0" d="M0 28V35.8"/><path stroke="#0fd" d="M0 35.3V42.8"/><path stroke="#09f" d="M0 42.3V49.4"/><path stroke="#0f8" d="M0 48.9V55.8"/><path stroke="#0f0" d="M0 55.3V61.9"/><path stroke="#0fc" d="M0 61.4V67.7"/><path stroke="#0f9" d="M0 67.2V73.2"/><path stroke="#0fd" d="M0 72.7V78.5"/><path stroke="#0ff" d="M0 78V88.4"/><path stroke="#00f" d="M0 87.9V93"/><path stroke="#0ff" d="M0 92.5V97.4"/><path stroke="#0fe" d="M0 96.9V101.6"/><path stroke="#0f8" d="M0 101.1V113.1"/><path stroke="#0f0" d="M0 112.6V131.8"/><path stroke="#0fc" d="M0 131.3V136.9"/><path stroke="#cf0" d="M0 136.4V139.3"/><path stroke="#409" d="M0 138.8V141.1"/><path stroke="#409" d="M0 146V148.5"/><path stroke="#00f" d="M0 148V150"/></g>
<g transform="translate(432.9 608)" stroke-width="5.7"><path stroke="#cf0" d="M0 3.9V12.8"/><path stroke="#09f" d="M0 12.3V20.8"/><path stroke="#cf0" d="M0 20.3V28.5"/><path stroke="#0f0" d="M0 28V35.8"/><path stroke="#0fc" d="M0 35.3V49.4"/><path stroke="#0ff" d="M0 48.9V55.8"/><path stroke="#4f0" d="M0 55.3V61.9"/><path stroke="#09f" d="M0 61.4V67.7"/><path stroke="#0ef" d="M0 67.2V73.2"/><path stroke="#0fb" d="M0 72.7V78.5"/><path stroke="#03f" d="M0 78V83.6"/><path stroke="#0ff" d="M0 83.1V88.4"/><path stroke="#0fe" d="M0 87.9V97.4"/><path stroke="#09f" d="M0 96.9V101.6"/><path stroke="#0f0" d="M0 101.1V109.4"/><path stroke="#09f" d="M0 108.9V113.1"/><path stroke="#8f0" d="M0 112.6V116.6"/><path stroke="#0fc" d="M0 116.1V119.9"/><path stroke="#8f0" d="M0 119.4V123.1"/><path stroke="#3f0" d="M0 122.6V126.1"/><path stroke="#0ff" d="M0 125.6V131.3"/><path stroke="#09f" d="M0 133.9V136.9"/><path stroke="#000" d="M0 136.4V139.3"/><path stroke="#00f" d="M0 138.8V141.1"/><path stroke="#409" d="M0 146V147.8"/><path stroke="#4f0" d="M0 148.9V150"/></g>
<g transform="translate(441.6 608)" stroke-width="5.4"><path stroke="#0f8" d="M0 3.9V12.8"/><path stroke="#4f0" d="M0 12.3V28.5"/><path stroke="#0fd" d="M0 28V35.8"/><path stroke="#0bf" d="M0 35.3V42.8"/><path stroke="#0f8" d="M0 42.3V49.4"/><path stroke="#0bf" d="M0 48.9V55.8"/><path stroke="#0f8" d="M0 55.3V73.2"/><path stroke="#09f" d="M0 72.7V78.5"/><path stroke="#0bf" d="M0 78V83.6"/><path stroke="#0ff" d="M0 83.1V97.4"/><path stroke="#0f0" d="M0 96.9V105.6"/><path stroke="#0bf" d="M0 105.1V109.4"/><path stroke="#0f0" d="M0 108.9V113.1"/><path stroke="#0bf" d="M0 112.6V116.6"/><path stroke="#ff0" d="M0 116.1V119.9"/><path stroke="#0f0" d="M0 119.4V129"/><path stroke="#0fc" d="M0 128.5V131.8"/><path stroke="#0f0" d="M0 131.3V136.9"/><path stroke="#0ff" d="M0 136.4V139.3"/><path stroke="#0f0" d="M0 138.8V141.1"/><path stroke="#f10" d="M0 148V150"/></g>
<g transform="translate(450.5 608)" stroke-width="5.4"><path stroke="#cf0" d="M0 3.9V12.8"/><path stroke="#000" d="M0 12.3V20.8"/><path stroke="#0bf" d="M0 20.3V28.5"/><path stroke="#0fc" d="M0 28V49.4"/><path stroke="#4f0" d="M0 48.9V55.8"/><path stroke="#09f" d="M0 55.3V61.9"/><path stroke="#0fd" d="M0 61.4V67.7"/><path stroke="#03f" d="M0 67.2V78.5"/><path stroke="#0fc" d="M0 78V83.6"/><path stroke="#0fa" d="M0 83.1V88.4"/><path stroke="#0f8" d="M0 87.9V93"/><path stroke="#05f" d="M0 92.5V97.4"/><path stroke="#0bf" d="M0 96.9V105.6"/><path stroke="#8f0" d="M0 105.1V109.4"/><path stroke="#20c" d="M0 108.9V113.1"/><path stroke="#0f0" d="M0 112.6V116.6"/><path stroke="#0f8" d="M0 116.1V123.1"/><path stroke="#cf0" d="M0 122.6V126.1"/><path stroke="#0fc" d="M0 125.6V136.9"/><path stroke="#f10" d="M0 136.4V138"/><path stroke="#0f0" d="M0 148V150"/></g>
<g transform="translate(459.4 608)" stroke-width="5.4"><path stroke="#000" d="M0 3.9V12.8"/><path stroke="#00f" d="M0 12.3V20.8"/><path stroke="#0f8" d="M0 20.3V28.5"/><path stroke="#09f" d="M0 28V35.8"/><path stroke="#40a" d="M0 35.3V42.8"/><path stroke="#00f" d="M0 42.3V49.4"/><path stroke="#0f8" d="M0 48.9V55.8"/><path stroke="#0fe" d="M0 55.3V61.9"/><path stroke="#0fa" d="M0 61.4V67.7"/><path stroke="#09f" d="M0 67.2V78.5"/><path stroke="#0fe" d="M0 78V83.6"/><path stroke="#0fc" d="M0 83.1V88.4"/><path stroke="#0fe" d="M0 87.9V93"/><path stroke="#0af" d="M0 92.5V97.4"/><path stroke="#0bf" d="M0 96.9V101.6"/><path stroke="#00f" d="M0 101.1V105.6"/><path stroke="#09f" d="M0 105.1V113.1"/><path stroke="#0f0" d="M0 112.6V116.6"/><path stroke="#0fc" d="M0 116.1V119.9"/><path stroke="#0f9" d="M0 119.4V123.1"/><path stroke="#20c" d="M0 122.6V126.1"/><path stroke="#8f0" d="M0 125.6V129"/><path stroke="#1f0" d="M0 128.5V131.8"/><path stroke="#0f0" d="M0 131.3V134.4"/><path stroke="#0ff" d="M0 133.9V136.9"/><path stroke="#0f0" d="M0 136.4V139.3"/><path stroke="#09f" d="M0 138.8V139.9"/><path stroke="#f10" d="M0 146V148"/></g>
<g transform="translate(468.5 608)" stroke-width="5"><path stroke="#409" d="M0 3.9V12.8"/><path stroke="#00f" d="M0 12.3V20.8"/><path stroke="#0af" d="M0 20.3V28.5"/><path stroke="#0ff" d="M0 28V35.8"/><path stroke="#20c" d="M0 35.3V42.8"/><path stroke="#0f0" d="M0 42.3V49.4"/><path stroke="#00f" d="M0 48.9V55.8"/><path stroke="#0ff" d="M0 55.3V67.7"/><path stroke="#0af" d="M0 67.2V73.2"/><path stroke="#09f" d="M0 72.7V105.6"/><path stroke="#00f" d="M0 105.1V113.1"/><path stroke="#09f" d="M0 112.6V116.6"/><path stroke="#0f8" d="M0 116.1V119.9"/><path stroke="#00f" d="M0 119.4V123.1"/><path stroke="#0f0" d="M0 122.6V134.4"/><path stroke="#0fc" d="M0 133.9V136.9"/><path stroke="#0f0" d="M0 136.4V139.3"/><path stroke="#09f" d="M0 138.8V141.1"/><path stroke="#0bf" d="M0 146V147.8"/><path stroke="#f10" d="M0 148.9V150"/></g>
<g transform="translate(477.5 608)"><path stroke="#20c" d="M0 3.9V12.8"/><path stroke="#00f" d="M0 12.3V20.8"/><path stroke="#09f" d="M0 20.3V28.5"/><path stroke="#304" d="M0 28V35.8"/><path stroke="#00f" d="M0 35.3V49.4"/><path stroke="#0f0" d="M0 48.9V55.8"/><path stroke="#0fc" d="M0 55.3V61.9"/><path stroke="#0f9" d="M0 61.4V67.7"/><path stroke="#09f" d="M0 67.2V73.2"/><path stroke="#0f8" d="M0 72.7V88.4"/><path stroke="#09f" d="M0 87.9V93"/><path stroke="#0f8" d="M0 92.5V105.6"/><path stroke="#20c" d="M0 105.1V113.1"/><path stroke="#0f0" d="M0 112.6V116.6"/><path stroke="#0f8" d="M0 116.1V119.9"/><path stroke="#0fb" d="M0 119.4V123.1"/><path stroke="#0f0" d="M0 122.6V134.4"/><path stroke="#cf0" d="M0 133.9V139.3"/><path stroke="#f80" d="M0 138.8V141.1"/><path stroke="#000" d="M0 146V150"/></g>
<g transform="translate(486 608)"><path stroke="#20c" d="M0 3.9V12.8"/><path stroke="#304" d="M0 12.3V20.8"/><path stroke="#8f0" d="M0 20.3V28.5"/><path stroke="#0ff" d="M0 28V35.8"/><path stroke="#04f" d="M0 35.3V42.8"/><path stroke="#0bf" d="M0 42.3V55.8"/><path stroke="#0f8" d="M0 55.3V61.9"/><path stroke="#03f" d="M0 61.4V67.7"/><path stroke="#0f8" d="M0 67.2V73.2"/><path stroke="#0fb" d="M0 72.7V78.5"/><path stroke="#0fc" d="M0 78V83.6"/><path stroke="#0f0" d="M0 83.1V93"/><path stroke="#0fd" d="M0 92.5V97.4"/><path stroke="#0fe" d="M0 96.9V101.6"/><path stroke="#0f8" d="M0 101.1V105.6"/><path stroke="#0f0" d="M0 105.1V113.1"/><path stroke="#0fc" d="M0 112.6V116.6"/><path stroke="#0f9" d="M0 116.1V119.9"/><path stroke="#0f0" d="M0 119.4V134.4"/><path stroke="#09f" d="M0 133.9V136.9"/><path stroke="#4f0" d="M0 136.4V139.3"/><path stroke="#f10" d="M0 138.8V139.9"/><path stroke="#f10" d="M0 146V150"/></g>
<g transform="translate(495 608)" stroke-width="6"><path stroke="#409" d="M0 3.9V12.8"/><path stroke="#00f" d="M0 12.3V20.8"/><path stroke="#0fd" d="M0 20.3V28.5"/><path stroke="#0bf" d="M0 28V42.8"/><path stroke="#0f0" d="M0 42.3V55.8"/><path stroke="#09f" d="M0 55.3V73.2"/><path stroke="#0df" d="M0 72.7V78.5"/><path stroke="#0ff" d="M0 78V83.6"/><path stroke="#0fd" d="M0 83.1V88.4"/><path stroke="#0f8" d="M0 87.9V93"/><path stroke="#03f" d="M0 92.5V97.4"/><path stroke="#0f0" d="M0 96.9V105.6"/><path stroke="#1f0" d="M0 105.1V109.4"/><path stroke="#4f0" d="M0 108.9V116.6"/><path stroke="#f40" d="M0 116.1V119.9"/><path stroke="#0ff" d="M0 119.4V123.1"/><path stroke="#00f" d="M0 122.6V129"/><path stroke="#0f4" d="M0 128.5V136.9"/><path stroke="#4f0" d="M0 136.4V139.9"/><path stroke="#00f" d="M0 146V148.5"/><path stroke="#000" d="M0 148V150"/></g>
<g transform="translate(503.7 608)" stroke-width="5"><path stroke="#0ff" d="M0 3.9V12.8"/><path stroke="#ff0" d="M0 12.3V28.5"/><path stroke="#0fc" d="M0 28V35.8"/><path stroke="#fc0" d="M0 35.3V42.8"/><path stroke="#8f0" d="M0 42.3V49.4"/><path stroke="#0f8" d="M0 48.9V55.8"/><path stroke="#4f0" d="M0 55.3V61.9"/><path stroke="#1f0" d="M0 61.4V67.7"/><path stroke="#09f" d="M0 67.2V73.2"/><path stroke="#0f8" d="M0 72.7V78.5"/><path stroke="#0f0" d="M0 78V93"/><path stroke="#0fc" d="M0 92.5V97.4"/><path stroke="#0fd" d="M0 96.9V101.6"/><path stroke="#0bf" d="M0 101.1V105.6"/><path stroke="#0f8" d="M0 105.1V109.4"/><path stroke="#4f0" d="M0 108.9V113.1"/><path stroke="#0f8" d="M0 112.6V116.6"/><path stroke="#0f0" d="M0 116.1V123.1"/><path stroke="#fc0" d="M0 122.6V126.1"/><path stroke="#0f0" d="M0 125.6V129"/><path stroke="#0fc" d="M0 128.5V131.8"/><path stroke="#0f0" d="M0 131.3V134.4"/><path stroke="#f10" d="M0 133.9V139.9"/><path stroke="#000" d="M0 146V148.5"/><path stroke="#f10" d="M0 148V150"/></g>
<g transform="translate(512.6 608)" stroke-width="5"><path stroke="#409" d="M0 3.9V12.8"/><path stroke="#0bf" d="M0 12.3V20.8"/><path stroke="#0f8" d="M0 20.3V28.5"/><path stroke="#0f0" d="M0 28V42.8"/><path stroke="#0fe" d="M0 42.3V49.4"/><path stroke="#0fc" d="M0 48.9V55.8"/><path stroke="#0f0" d="M0 55.3V67.7"/><path stroke="#0ff" d="M0 67.2V73.2"/><path stroke="#03f" d="M0 72.7V78.5"/><path stroke="#07f" d="M0 78V83.6"/><path stroke="#09f" d="M0 83.1V88.4"/><path stroke="#0f0" d="M0 87.9V93"/><path stroke="#0fc" d="M0 92.5V113.1"/><path stroke="#0bf" d="M0 112.6V116.6"/><path stroke="#4f0" d="M0 116.1V119.9"/><path stroke="#0f8" d="M0 119.4V123.1"/><path stroke="#0f0" d="M0 122.6V129"/><path stroke="#409" d="M0 128.5V131.8"/><path stroke="#f80" d="M0 131.3V134.4"/><path stroke="#000" d="M0 133.9V138"/></g>
<g transform="translate(521.5 608)" stroke-width="4.7"><path stroke="#03f" d="M0 3.9V12.8"/><path stroke="#4f0" d="M0 12.3V20.8"/><path stroke="#8f0" d="M0 20.3V28.5"/><path stroke="#0f8" d="M0 28V35.8"/><path stroke="#09f" d="M0 35.3V42.8"/><path stroke="#0f0" d="M0 42.3V55.8"/><path stroke="#cf0" d="M0 55.3V61.9"/><path stroke="#00f" d="M0 61.4V67.7"/><path stroke="#8f0" d="M0 67.2V73.2"/><path stroke="#0ff" d="M0 72.7V78.5"/><path stroke="#0fb" d="M0 78V83.6"/><path stroke="#0f8" d="M0 83.1V93"/><path stroke="#09f" d="M0 92.5V101.6"/><path stroke="#4f0" d="M0 101.1V113.1"/><path stroke="#0f8" d="M0 112.6V116.6"/><path stroke="#cf0" d="M0 116.1V123.1"/><path stroke="#09f" d="M0 122.6V126.1"/><path stroke="#f10" d="M0 125.6V131.8"/><path stroke="#cf0" d="M0 131.3V136.9"/><path stroke="#f10" d="M0 136.4V138"/></g>
<g transform="translate(530.5 608)" stroke-width="5"><path stroke="#03f" d="M0 3.9V12.8"/><path stroke="#0ff" d="M0 12.3V20.8"/><path stroke="#0f8" d="M0 20.3V28.5"/><path stroke="#409" d="M0 28V35.8"/><path stroke="#0ef" d="M0 35.3V42.8"/><path stroke="#09f" d="M0 42.3V49.4"/><path stroke="#00f" d="M0 48.9V55.8"/><path stroke="#0ff" d="M0 55.3V61.9"/><path stroke="#0fa" d="M0 61.4V67.7"/><path stroke="#0f0" d="M0 67.2V78.5"/><path stroke="#0f8" d="M0 78V97.4"/><path stroke="#0f0" d="M0 96.9V105.6"/><path stroke="#0fc" d="M0 105.1V109.4"/><path stroke="#0f0" d="M0 108.9V113.1"/><path stroke="#09f" d="M0 112.6V116.6"/><path stroke="#4f0" d="M0 116.1V119.9"/><path stroke="#0f8" d="M0 119.4V123.1"/><path stroke="#0fb" d="M0 122.6V126.1"/><path stroke="#0fc" d="M0 125.6V131.8"/><path stroke="#00f" d="M0 131.3V136.9"/><path stroke="#09f" d="M0 136.4V139.3"/><path stroke="#f10" d="M0 138.8V141.1"/><path stroke="#00f" d="M0 146V148.5"/><path stroke="#000" d="M0 148V150"/></g>
<g transform="translate(539.4 608)" stroke-width="5"><path stroke="#0bf" d="M0 3.9V12.8"/><path stroke="#304" d="M0 12.3V20.8"/><path stroke="#00f" d="M0 20.3V28.5"/><path stroke="#0bf" d="M0 28V35.8"/><path stroke="#0fc" d="M0 35.3V49.4"/><path stroke="#0f0" d="M0 48.9V55.8"/><path stroke="#09f" d="M0 55.3V61.9"/><path stroke="#0f0" d="M0 61.4V67.7"/><path stroke="#0f8" d="M0 67.2V73.2"/><path stroke="#0fb" d="M0 72.7V78.5"/><path stroke="#0fc" d="M0 78V97.4"/><path stroke="#4f0" d="M0 96.9V105.6"/><path stroke="#0f8" d="M0 105.1V109.4"/><path stroke="#0f0" d="M0 108.9V116.6"/><path stroke="#0bf" d="M0 116.1V119.9"/><path stroke="#4f0" d="M0 119.4V129"/><path stroke="#fc0" d="M0 128.5V131.8"/><path stroke="#f10" d="M0 131.3V133.9"/><path stroke="#cf0" d="M0 136.4V140.8"/><path stroke="#000" d="M0 146V148.5"/><path stroke="#f10" d="M0 148V150"/></g>
<g transform="translate(548 608)" stroke-width="5.7"><path stroke="#409" d="M0 3.9V12.8"/><path stroke="#0f0" d="M0 12.3V20.8"/><path stroke="#cf0" d="M0 20.3V28.5"/><path stroke="#0fa" d="M0 28V35.8"/><path stroke="#0ff" d="M0 35.3V42.8"/><path stroke="#00f" d="M0 42.3V49.4"/><path stroke="#0fc" d="M0 48.9V55.8"/><path stroke="#0f9" d="M0 55.3V61.9"/><path stroke="#09f" d="M0 61.4V67.7"/><path stroke="#0bf" d="M0 67.2V73.2"/><path stroke="#0fe" d="M0 72.7V78.5"/><path stroke="#4f0" d="M0 78V93"/><path stroke="#09f" d="M0 92.5V97.4"/><path stroke="#0f8" d="M0 96.9V105.6"/><path stroke="#00f" d="M0 105.1V109.4"/><path stroke="#4f0" d="M0 108.9V113.1"/><path stroke="#1f0" d="M0 112.6V116.6"/><path stroke="#09f" d="M0 116.1V119.9"/><path stroke="#f10" d="M0 119.4V123.1"/><path stroke="#0fc" d="M0 122.6V129"/><path stroke="#409" d="M0 128.5V131.8"/><path stroke="#f10" d="M0 131.3V139.9"/><path stroke="#0bf" d="M0 146V147.8"/><path stroke="#09f" d="M0 148.9V150"/></g>
<g transform="translate(556.9 608)" stroke-width="5.7"><path stroke="#304" d="M0 3.9V12.8"/><path stroke="#0fc" d="M0 12.3V20.8"/><path stroke="#409" d="M0 20.3V28.5"/><path stroke="#7f0" d="M0 28V35.8"/><path stroke="#0f0" d="M0 35.3V42.8"/><path stroke="#304" d="M0 42.3V49.4"/><path stroke="#0f8" d="M0 48.9V55.8"/><path stroke="#0f0" d="M0 55.3V61.9"/><path stroke="#7f0" d="M0 61.4V67.7"/><path stroke="#0ff" d="M0 67.2V73.2"/><path stroke="#4f0" d="M0 72.7V78.5"/><path stroke="#09f" d="M0 78V83.6"/><path stroke="#05f" d="M0 83.1V93"/><path stroke="#0bf" d="M0 92.5V97.4"/><path stroke="#0fe" d="M0 96.9V101.6"/><path stroke="#0f8" d="M0 101.1V109.4"/><path stroke="#ff0" d="M0 108.9V113.1"/><path stroke="#0f0" d="M0 112.6V134.4"/><path stroke="#09f" d="M0 133.9V136.4"/><path stroke="#000" d="M0 138.8V139.9"/></g>
<g transform="translate(565.8 608)" stroke-width="5.7"><path stroke="#0f8" d="M0 3.9V12.8"/><path stroke="#20c" d="M0 12.3V20.8"/><path stroke="#8f0" d="M0 20.3V28.5"/><path stroke="#0ef" d="M0 28V35.8"/><path stroke="#09f" d="M0 35.3V42.8"/><path stroke="#0fa" d="M0 42.3V49.4"/><path stroke="#0ff" d="M0 48.9V55.8"/><path stroke="#0f0" d="M0 55.3V67.7"/><path stroke="#4f0" d="M0 67.2V73.2"/><path stroke="#1f0" d="M0 72.7V78.5"/><path stroke="#0f0" d="M0 78V88.4"/><path stroke="#0f8" d="M0 87.9V93"/><path stroke="#0f0" d="M0 92.5V101.6"/><path stroke="#0f1" d="M0 101.1V105.6"/><path stroke="#0f4" d="M0 105.1V109.4"/><path stroke="#fc0" d="M0 108.9V113.1"/><path stroke="#4f0" d="M0 112.6V116.6"/><path stroke="#0f8" d="M0 116.1V119.9"/><path stroke="#4f0" d="M0 119.4V123.1"/><path stroke="#ff0" d="M0 122.6V126.1"/><path stroke="#0f0" d="M0 125.6V129"/><path stroke="#03f" d="M0 128.5V131.8"/><path stroke="#ff0" d="M0 131.3V134.4"/><path stroke="#0f0" d="M0 133.9V136.9"/><path stroke="#409" d="M0 136.4V139.9"/><path stroke="#f10" d="M0 146V148.5"/><path stroke="#000" d="M0 148V150"/></g>
<g transform="translate(574.5 608)" stroke-width="5.4"><path stroke="#0f0" d="M0 3.9V12.8"/><path stroke="#09f" d="M0 12.3V20.8"/><path stroke="#0f0" d="M0 20.3V28.5"/><path stroke="#304" d="M0 28V35.8"/><path stroke="#0ff" d="M0 35.3V42.8"/><path stroke="#04f" d="M0 42.3V49.4"/><path stroke="#09f" d="M0 48.9V55.8"/><path stroke="#0bf" d="M0 55.3V61.9"/><path stroke="#0f0" d="M0 61.4V67.7"/><path stroke="#0fc" d="M0 67.2V73.2"/><path stroke="#0f0" d="M0 72.7V78.5"/><path stroke="#cf0" d="M0 78V83.6"/><path stroke="#0f8" d="M0 83.1V88.4"/><path stroke="#0fb" d="M0 87.9V93"/><path stroke="#0ff" d="M0 92.5V101.6"/><path stroke="#af0" d="M0 101.1V105.6"/><path stroke="#fe0" d="M0 105.1V109.4"/><path stroke="#fc0" d="M0 108.9V113.1"/><path stroke="#0f8" d="M0 112.6V116.6"/><path stroke="#4f0" d="M0 116.1V123.1"/><path stroke="#0f8" d="M0 122.6V129"/><path stroke="#f80" d="M0 128.5V131.8"/><path stroke="#0bf" d="M0 131.3V133.9"/><path stroke="#0f8" d="M0 136.4V139.3"/><path stroke="#000" d="M0 138.8V141.1"/><path stroke="#409" d="M0 146V148"/></g>
<g transform="translate(583.4 608)" stroke-width="5.4"><path stroke="#304" d="M0 3.9V12.8"/><path stroke="#00f" d="M0 12.3V20.8"/><path stroke="#0ef" d="M0 20.3V28.5"/><path stroke="#0df" d="M0 28V35.8"/><path stroke="#0fc" d="M0 35.3V42.8"/><path stroke="#0fe" d="M0 42.3V49.4"/><path stroke="#0f8" d="M0 48.9V55.8"/><path stroke="#03f" d="M0 55.3V61.9"/><path stroke="#0f8" d="M0 61.4V67.7"/><path stroke="#0fe" d="M0 67.2V73.2"/><path stroke="#0f0" d="M0 72.7V78.5"/><path stroke="#0f8" d="M0 78V88.4"/><path stroke="#0f0" d="M0 87.9V97.4"/><path stroke="#0f8" d="M0 96.9V101.6"/><path stroke="#09f" d="M0 101.1V105.6"/><path stroke="#0f0" d="M0 105.1V109.4"/><path stroke="#fc0" d="M0 108.9V113.1"/><path stroke="#4f0" d="M0 112.6V131.8"/><path stroke="#0bf" d="M0 131.3V136.9"/><path stroke="#0f0" d="M0 136.4V139.3"/><path stroke="#0ff" d="M0 138.8V141.1"/><path stroke="#f10" d="M0 148V150"/></g>
<g transform="translate(592.5 608)" stroke-width="5"><path stroke="#0fc" d="M0 3.9V12.8"/><path stroke="#0f0" d="M0 12.3V28.5"/><path stroke="#0bf" d="M0 28V35.8"/><path stroke="#1f0" d="M0 35.3V42.8"/><path stroke="#4f0" d="M0 42.3V49.4"/><path stroke="#0f0" d="M0 48.9V73.2"/><path stroke="#0fc" d="M0 72.7V78.5"/><path stroke="#0fe" d="M0 78V83.6"/><path stroke="#0f0" d="M0 83.1V97.4"/><path stroke="#0fd" d="M0 96.9V101.6"/><path stroke="#09f" d="M0 101.1V105.6"/><path stroke="#0f8" d="M0 105.1V109.4"/><path stroke="#ff0" d="M0 108.9V113.1"/><path stroke="#0f0" d="M0 112.6V123.1"/><path stroke="#0ff" d="M0 122.6V126.1"/><path stroke="#409" d="M0 125.6V129"/><path stroke="#4f0" d="M0 128.5V131.8"/><path stroke="#fc0" d="M0 131.3V134.4"/><path stroke="#0ff" d="M0 133.9V136.9"/><path stroke="#000" d="M0 136.4V138"/><path stroke="#0f8" d="M0 146V148.5"/><path stroke="#000" d="M0 148V150"/></g>
<g transform="translate(601.5 608)"><path stroke="#f10" d="M0 3.9V12.8"/><path stroke="#00f" d="M0 12.3V20.8"/><path stroke="#09f" d="M0 20.3V28.5"/><path stroke="#0f0" d="M0 28V42.8"/><path stroke="#0fc" d="M0 42.3V49.4"/><path stroke="#0f0" d="M0 48.9V73.2"/><path stroke="#0f8" d="M0 72.7V78.5"/><path stroke="#0f0" d="M0 78V88.4"/><path stroke="#0f8" d="M0 87.9V93"/><path stroke="#0fa" d="M0 92.5V97.4"/><path stroke="#0fc" d="M0 96.9V101.6"/><path stroke="#0ef" d="M0 101.1V105.6"/><path stroke="#09f" d="M0 105.1V113.1"/><path stroke="#8f0" d="M0 112.6V116.6"/><path stroke="#ef0" d="M0 116.1V119.9"/><path stroke="#0f0" d="M0 119.4V123.1"/><path stroke="#3f0" d="M0 122.6V126.1"/><path stroke="#4f0" d="M0 125.6V129"/><path stroke="#20c" d="M0 128.5V131.8"/><path stroke="#0ff" d="M0 131.3V138"/><path stroke="#f10" d="M0 148V150"/></g>
<g transform="translate(610.6 608)" stroke-width="5"><path stroke="#0f8" d="M0 3.9V20.8"/><path stroke="#0f0" d="M0 20.3V28.5"/><path stroke="#f40" d="M0 28V35.8"/><path stroke="#0f0" d="M0 35.3V42.8"/><path stroke="#03f" d="M0 42.3V49.4"/><path stroke="#4f0" d="M0 48.9V55.8"/><path stroke="#f40" d="M0 55.3V61.9"/><path stroke="#0f0" d="M0 61.4V67.7"/><path stroke="#0ff" d="M0 67.2V73.2"/><path stroke="#fc0" d="M0 72.7V78.5"/><path stroke="#0f8" d="M0 78V105.6"/><path stroke="#09f" d="M0 105.1V109.4"/><path stroke="#0f8" d="M0 108.9V116.6"/><path stroke="#0bf" d="M0 116.1V119.9"/><path stroke="#f80" d="M0 119.4V123.1"/><path stroke="#09f" d="M0 122.6V128.5"/><path stroke="#20c" d="M0 131.3V134.4"/><path stroke="#f10" d="M0 133.9V136.9"/><path stroke="#0f0" d="M0 136.4V139.9"/><path stroke="#409" d="M0 146V148.5"/><path stroke="#000" d="M0 148V150"/></g>
<g transform="translate(619 608)" stroke-width="6"><path stroke="#f10" d="M0 3.9V12.8"/><path stroke="#000" d="M0 12.3V20.8"/><path stroke="#00f" d="M0 20.3V28.5"/><path stroke="#09f" d="M0 28V35.8"/><path stroke="#4f0" d="M0 35.3V42.8"/><path stroke="#04f" d="M0 42.3V49.4"/><path stroke="#09f" d="M0 48.9V55.8"/><path stroke="#cf0" d="M0 55.3V61.9"/><path stroke="#09f" d="M0 61.4V67.7"/><path stroke="#04f" d="M0 67.2V73.2"/><path stroke="#cf0" d="M0 72.7V78.5"/><path stroke="#0bf" d="M0 78V93"/><path stroke="#00f" d="M0 92.5V97.4"/><path stroke="#000" d="M0 96.9V101.6"/><path stroke="#03f" d="M0 101.1V105.6"/><path stroke="#0fc" d="M0 105.1V109.4"/><path stroke="#000" d="M0 108.9V113.1"/><path stroke="#0f8" d="M0 112.6V116.6"/><path stroke="#f10" d="M0 116.1V119.9"/><path stroke="#0f0" d="M0 119.4V123.1"/><path stroke="#f10" d="M0 122.6V129"/><path stroke="#000" d="M0 128.5V133.9"/><path stroke="#000" d="M0 136.4V139.9"/><path stroke="#f10" d="M0 146V150"/></g>
<g transform="translate(628.1 608)" stroke-width="5.7"><path stroke="#000" d="M0 3.9V12.8"/><path stroke="#0fc" d="M0 12.3V20.8"/><path stroke="#20c" d="M0 20.3V28.5"/><path stroke="#409" d="M0 28V35.8"/><path stroke="#03f" d="M0 35.3V42.8"/><path stroke="#0ff" d="M0 42.3V49.4"/><path stroke="#0f0" d="M0 48.9V73.2"/><path stroke="#0f8" d="M0 72.7V88.4"/><path stroke="#0fb" d="M0 87.9V93"/><path stroke="#0ff" d="M0 92.5V97.4"/><path stroke="#4f0" d="M0 96.9V101.6"/><path stroke="#0f0" d="M0 101.1V105.6"/><path stroke="#0fc" d="M0 105.1V109.4"/><path stroke="#ff0" d="M0 108.9V113.1"/><path stroke="#0f8" d="M0 112.6V119.9"/><path stroke="#0f0" d="M0 119.4V136.9"/><path stroke="#000" d="M0 136.4V139.9"/><path stroke="#000" d="M0 148V149.5"/><path stroke="#0f8" d="M0 149V150"/></g>
<g transform="translate(636.6 608)" stroke-width="5"><path stroke="#000" d="M0 3.9V12.8"/><path stroke="#fc0" d="M0 12.3V20.8"/><path stroke="#0ef" d="M0 20.3V28.5"/><path stroke="#0bf" d="M0 28V35.8"/><path stroke="#0f0" d="M0 35.3V42.8"/><path stroke="#0fd" d="M0 42.3V49.4"/><path stroke="#09f" d="M0 48.9V55.8"/><path stroke="#0f8" d="M0 55.3V61.9"/><path stroke="#8f0" d="M0 61.4V67.7"/><path stroke="#1f0" d="M0 67.2V73.2"/><path stroke="#0f8" d="M0 72.7V78.5"/><path stroke="#0f0" d="M0 78V101.6"/><path stroke="#0fa" d="M0 101.1V105.6"/><path stroke="#0ff" d="M0 105.1V113.1"/><path stroke="#f10" d="M0 112.6V116.6"/><path stroke="#cf0" d="M0 116.1V119.9"/><path stroke="#0f0" d="M0 119.4V129"/><path stroke="#7f0" d="M0 128.5V131.8"/><path stroke="#8f0" d="M0 131.3V136.9"/><path stroke="#0f8" d="M0 136.4V139.9"/><path stroke="#f10" d="M0 146V148"/></g>
</g>
<path d="M146 757.3h-3M646 757.3h4M146 754.9h-3M646 754.9h4M146 752.5h-3M646 752.5h4M146 750.1h-3M646 750.1h4M146 747.7h-3M646 747.7h4M146 745.3h-3M646 745.3h4M146 742.9h-3M646 742.9h4M146 740.5h-3M646 740.5h4M146 738h-3M646 738h4M146 735.6h-3M646 735.6h4M146 733.2h-3M646 733.2h4M146 730.8h-3M646 730.8h4M146 728.4h-3M646 728.4h4M146 726h-3M646 726h4M146 723.6h-3M646 723.6h4M146 721.2h-3M646 721.2h4M146 718.8h-3M646 718.8h4M146 716.4h-3M646 716.4h4M146 714h-3M646 714h4M146 711.6h-3M646 711.6h4M146 709.1h-3M646 709.1h4M146 706.7h-3M646 706.7h4M146 704.3h-3M646 704.3h4M146 701.9h-3M646 701.9h4M146 699.5h-3M646 699.5h4M146 697.1h-3M646 697.1h4M146 694.7h-3M646 694.7h4M146 692.3h-3M646 692.3h4M146 689.9h-3M646 689.9h4M146 687.5h-3M646 687.5h4M146 685.1h-3M646 685.1h4M146 682.7h-3M646 682.7h4M146 680.2h-3M646 680.2h4M146 677.8h-3M646 677.8h4M146 675.4h-3M646 675.4h4M146 673h-3M646 673h4M146 670.6h-3M646 670.6h4M146 668.2h-3M646 668.2h4M146 665.8h-3M646 665.8h4M146 663.4h-3M646 663.4h4M146 661h-3M646 661h4M146 658.6h-3M646 658.6h4M146 656.2h-3M646 656.2h4M146 653.8h-3M646 653.8h4M146 651.3h-3M646 651.3h4M146 648.9h-3M646 648.9h4M146 646.5h-3M646 646.5h4M146 644.1h-3M646 644.1h4M146 641.7h-3M646 641.7h4M146 639.3h-3M646 639.3h4M146 636.9h-3M646 636.9h4M146 634.5h-3M646 634.5h4M146 632.1h-3M646 632.1h4M146 629.7h-3M646 629.7h4M146 627.3h-3M646 627.3h4M146 624.9h-3M646 624.9h4M146 622.4h-3M646 622.4h4M146 620h-3M646 620h4M146 617.6h-3M646 617.6h4M146 615.2h-3M646 615.2h4M146 612.8h-3M646 612.8h4M146 610.4h-3M646 610.4h4" stroke="#000" stroke-width="1" shape-rendering="crispEdges"/>
<path d="M146 632.1h-7M646 632.1h7.8M146 656.2h-7M646 656.2h7.8M146 680.2h-7M646 680.2h7.8M146 704.3h-7M646 704.3h7.8M146 728.4h-7M646 728.4h7.8M146 752.5h-7M646 752.5h7.8" stroke="#000" stroke-width="1.4"/>
<path d="M139 759.5H646" stroke="#000" stroke-width="1.15"/>
<path d="M271.6 607.5v3.6M271.6 759.5v-5M396.2 607.5v3.6M396.2 759.5v-5M520.8 607.5v3.6M520.8 759.5v-5" stroke="#000" stroke-width="1.3"/>
<g stroke="#000" stroke-width="1">
<text x="133.9" y="619.4" font-size="14.4" text-anchor="end">700</text>
<text x="133.9" y="638.583" font-size="14.4" text-anchor="end">600</text>
<text x="133.9" y="662.666" font-size="14.4" text-anchor="end">500</text>
<text x="133.9" y="686.749" font-size="14.4" text-anchor="end">400</text>
<text x="133.9" y="710.832" font-size="14.4" text-anchor="end">300</text>
<text x="133.9" y="734.915" font-size="14.4" text-anchor="end">200</text>
<text x="133.9" y="759.3" font-size="14.4" text-anchor="end">100</text>
<text x="78.5" y="684" font-size="14.3" text-anchor="middle" transform="rotate(-90 78.5 684)" textLength="49" lengthAdjust="spacingAndGlyphs">Altitude</text>
<text x="95.5" y="684" font-size="14.3" text-anchor="middle" transform="rotate(-90 95.5 684)">[km]</text>
</g>
<rect x="655.4" y="610.5" width="5.2" height="146.1" fill="url(#cb)" stroke="#221" stroke-opacity="0.75" stroke-width="0.7"/>
<g stroke="#000" stroke-width="0.95">
<text x="680.8" y="622.9" font-size="17.6" text-anchor="middle">200</text>
<text x="678.4" y="754" font-size="17.6" text-anchor="middle">-200</text>
<text x="685.7" y="685.9" font-size="17.6" text-anchor="middle" transform="rotate(-90 685.7 685.9)">Vi [ms<tspan dy="-9.6" font-size="10.5">-1</tspan><tspan dy="9.6">]</tspan></text>
</g>
<path d="M139 152H653.8" stroke="#000" stroke-width="2"/>
<path d="M146 906.8h-3M646 906.8h4M146 902.8h-3M646 902.8h4M146 898.8h-3M646 898.8h4M146 894.9h-3M646 894.9h4M146 890.9h-3M646 890.9h4M146 886.9h-3M646 886.9h4M146 882.9h-3M646 882.9h4M146 879h-3M646 879h4M146 875h-3M646 875h4M146 871h-3M646 871h4M146 867h-3M646 867h4M146 863h-3M646 863h4M146 859.1h-3M646 859.1h4M146 855.1h-3M646 855.1h4M146 851.1h-3M646 851.1h4M146 847.1h-3M646 847.1h4M146 843.2h-3M646 843.2h4M146 839.2h-3M646 839.2h4M146 835.2h-3M646 835.2h4M146 831.2h-3M646 831.2h4M146 827.3h-3M646 827.3h4M146 823.3h-3M646 823.3h4M146 819.3h-3M646 819.3h4M146 815.4h-3M646 815.4h4M146 811.4h-3M646 811.4h4M146 807.4h-3M646 807.4h4M146 803.4h-3M646 803.4h4M146 799.5h-3M646 799.5h4M146 795.5h-3M646 795.5h4M146 791.5h-3M646 791.5h4M146 787.5h-3M646 787.5h4M146 783.5h-3M646 783.5h4M146 779.6h-3M646 779.6h4M146 775.6h-3M646 775.6h4M146 771.6h-3M646 771.6h4M146 767.6h-3M646 767.6h4M146 763.7h-3M646 763.7h4M146 759.7h-3M646 759.7h4" stroke="#000" stroke-width="1.4" shape-rendering="crispEdges"/>
<path d="M146 871h-7M646 871h7.8M146 831.2h-7M646 831.2h7.8M146 791.5h-7M646 791.5h7.8" stroke="#000" stroke-width="1.4"/>
<path d="M139 911H653.8" stroke="#000" stroke-width="2"/>
<path d="M271.6 759.5v3.6M271.6 911v-3.4M396.2 759.5v3.6M396.2 911v-3.4M520.8 759.5v3.6M520.8 911v-3.4" stroke="#000" stroke-width="1.3"/>
<path d="M147.1 838.9h5.1M156.1 838.9h5.3M164.3 838.9h6M173.2 838.9h6M182.1 838.9h5.3M191 838.9h5.7M199.9 838.9h5.7M208.8 838.9h5.7M218.1 838.9h5.3M226.1 838.9h6.5M235.5 838.9h5.6M244.1 838.9h5.2M254 838.9h4.6M262.2 838.9h5.3M271.2 838.9h4.3M280.1 838.9h5.3M288.3 838.9h6M297.2 838.9h6M306.1 838.9h6M315 838.9h5.7M323.9 838.9h5.7M332.8 838.9h5.7M342.1 838.9h5.3M350.1 838.9h6.5M359.5 838.9h5.6M368.1 838.9h6.3M377.3 838.9h5.3M386.2 838.9h5.3M395.2 838.9h5M404.1 838.9h5.3M413 838.9h5.3M421.2 838.9h5.3M430.1 838.9h6M439 838.9h5.7M447.9 838.9h5.7M456.8 838.9h5.7M466.1 838.9h5.3M475 838.9h5.6M483.5 838.9h5.6M492.1 838.9h6.3M501.3 838.9h5.3M510.2 838.9h5.3M519.2 838.9h5M528.1 838.9h5.3M537 838.9h5.3M545.2 838.9h6M554.1 838.9h6M563 838.9h6M571.9 838.9h5.7M580.8 838.9h5.7M590.1 838.9h5.3M599 838.9h5.6M608.2 838.9h5.3M616.1 838.9h6.3M625.3 838.9h6M634.2 838.9h5.3" stroke="#ff0800" stroke-width="2.1" fill="none"/>
<path d="M147.1 879h5.1M156.1 879h5.3M164.3 879h6M173.2 879h6M182.1 879h5.3M191 879h5.7M199.9 879h5.7M208.8 879h5.7M218.1 879h5.3M226.1 879h6.5M235.5 879h5.6M244.1 879h5.2M254 879h4.6M262.2 879h5.3M271.2 879h4.3M280.1 879h5.3M288.3 879h6M297.2 879h6M306.1 879h6M315 879h5.7M323.9 879h5.7M332.8 879h5.7M342.1 879h5.3M350.1 879h6.5M359.5 879h5.6M368.1 879h6.3M377.3 879h5.3M386.2 879h5.3M395.2 879h5M404.1 879h5.3M413 879h5.3M421.2 879h5.3M430.1 879h6M439 879h5.7M447.9 879h5.7M456.8 879h5.7M466.1 879h5.3M475 879h5.6M483.5 879h5.6M492.1 879h6.3M501.3 879h5.3M510.2 879h5.3M519.2 879h5M528.1 879h5.3M537 879h5.3M545.2 879h6M554.1 879h6M563 879h6M571.9 879h5.7M580.8 879h5.7M590.1 879h5.3M599 879h5.6M608.2 879h5.3M616.1 879h6.3M625.3 879h6M634.2 879h5.3" stroke="#2000e0" stroke-width="2.1" fill="none"/>
<g stroke="#000" stroke-width="1">
<text x="133.9" y="911.55" font-size="14.4" text-anchor="end">0</text>
<text x="133.9" y="877.6" font-size="14.4" text-anchor="end">100</text>
<text x="133.9" y="837.85" font-size="14.4" text-anchor="end">200</text>
<text x="133.9" y="798.1" font-size="14.4" text-anchor="end">300</text>
<text x="78.5" y="835.3" font-size="14.3" text-anchor="middle" transform="rotate(-90 78.5 835.3)" textLength="108" lengthAdjust="spacingAndGlyphs">Az(red)&amp;El(blue)</text>
<text x="95.5" y="835.3" font-size="14.3" text-anchor="middle" transform="rotate(-90 95.5 835.3)">[deg]</text>
<text x="147" y="936.6" font-size="14.3" text-anchor="middle">0.0</text>
<text x="271.6" y="936.6" font-size="14.3" text-anchor="middle">0.5</text>
<text x="396.2" y="936.6" font-size="14.3" text-anchor="middle">1.0</text>
<text x="520.8" y="936.6" font-size="14.3" text-anchor="middle">1.5</text>
<text x="645.4" y="936.6" font-size="14.3" text-anchor="middle">2.0</text>
<text x="396.5" y="958" font-size="14.3" text-anchor="middle">UT</text>
</g>
<defs><linearGradient id="cb" x1="0" y1="0" x2="0" y2="1"><stop offset="0" stop-color="#ff1000"/><stop offset="0.11" stop-color="#ff9000"/><stop offset="0.19" stop-color="#ffff00"/><stop offset="0.27" stop-color="#90ff00"/><stop offset="0.37" stop-color="#00ff00"/><stop offset="0.49" stop-color="#00ff90"/><stop offset="0.58" stop-color="#00ffff"/><stop offset="0.64" stop-color="#0080ff"/><stop offset="0.75" stop-color="#0000ff"/><stop offset="0.85" stop-color="#4800a0"/><stop offset="0.93" stop-color="#300048"/><stop offset="1" stop-color="#000000"/></linearGradient></defs>
</svg>
</body></html>
